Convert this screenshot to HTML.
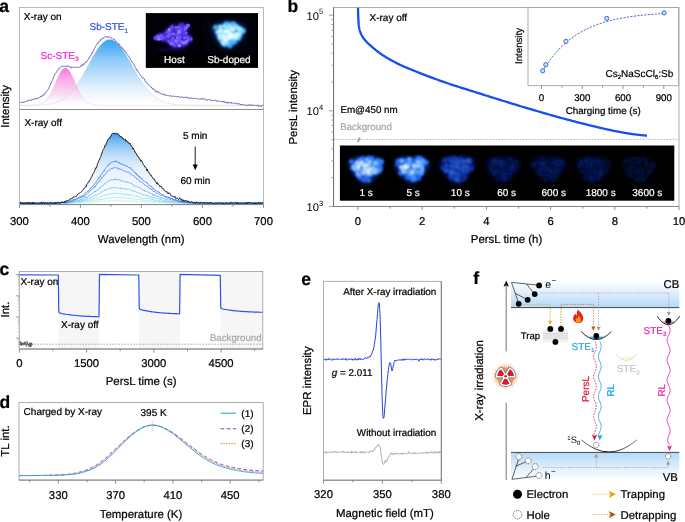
<!DOCTYPE html>
<html><head><meta charset="utf-8"><title>Figure</title>
<style>
html,body{margin:0;padding:0;background:#fff;}
svg{display:block;will-change:transform;font-family:"Liberation Sans",sans-serif;text-rendering:geometricPrecision;}
</style></head><body>
<svg width="685" height="522" viewBox="0 0 685 522">
<defs>
<linearGradient id="gMag" x1="0" y1="0" x2="0" y2="1"><stop offset="0" stop-color="#fb74e0"/><stop offset="0.3" stop-color="#fcaaea"/><stop offset="0.7" stop-color="#f8dcf5"/><stop offset="1" stop-color="#ffffff" stop-opacity="0.6"/></linearGradient>
<linearGradient id="gBlu" x1="0" y1="0" x2="0" y2="1"><stop offset="0" stop-color="#35a1f4"/><stop offset="0.3" stop-color="#8ccaf8"/><stop offset="0.7" stop-color="#dceefc"/><stop offset="1" stop-color="#ffffff" stop-opacity="0.6"/></linearGradient>
<linearGradient id="gBlu2" x1="0" y1="0" x2="0" y2="1"><stop offset="0" stop-color="#3a9ff0"/><stop offset="0.17" stop-color="#8cc6f5"/><stop offset="0.33" stop-color="#c4e0f8"/><stop offset="0.5" stop-color="#e2f0fc"/><stop offset="0.75" stop-color="#f4f9fe"/><stop offset="1" stop-color="#ffffff"/></linearGradient>
<filter id="blur1" x="-30%" y="-30%" width="160%" height="160%"><feGaussianBlur stdDeviation="1.1"/></filter>
<filter id="blur2" x="-30%" y="-30%" width="160%" height="160%"><feGaussianBlur stdDeviation="2.2"/></filter>
<filter id="blur08" x="-30%" y="-30%" width="160%" height="160%"><feGaussianBlur stdDeviation="0.85"/></filter>
<filter id="blur05" x="-30%" y="-30%" width="160%" height="160%"><feGaussianBlur stdDeviation="0.6"/></filter>
<linearGradient id="gCB" x1="0" y1="0" x2="0" y2="1"><stop offset="0" stop-color="#ffffff"/><stop offset="0.35" stop-color="#e6f2fc"/><stop offset="1" stop-color="#b5d9f6"/></linearGradient>
<linearGradient id="gVB" x1="0" y1="0" x2="0" y2="1"><stop offset="0" stop-color="#b5d9f6"/><stop offset="0.65" stop-color="#e6f2fc"/><stop offset="1" stop-color="#ffffff"/></linearGradient>
<linearGradient id="gTrap" x1="0" y1="0" x2="0" y2="1"><stop offset="0" stop-color="#fafafa"/><stop offset="0.5" stop-color="#e2e2e2"/><stop offset="1" stop-color="#fafafa"/></linearGradient>
<linearGradient id="gS0" x1="0" y1="0" x2="1" y2="0"><stop offset="0" stop-color="#777"/><stop offset="0.45" stop-color="#111"/><stop offset="1" stop-color="#888"/></linearGradient>
<radialGradient id="gRad" cx="0.5" cy="0.5" r="0.5"><stop offset="0" stop-color="#f7941d" stop-opacity="0.9"/><stop offset="0.6" stop-color="#f7a84a" stop-opacity="0.5"/><stop offset="1" stop-color="#f7a84a" stop-opacity="0"/></radialGradient>
</defs>
<rect x="0" y="0" width="685" height="522" fill="#fff"/>
<text x="-0.8" y="12.0" font-size="17.5" text-anchor="start" fill="#000" stroke="#000" stroke-width="0.22" font-weight="bold">a</text>
<path d="M39.4,105.1 L40.4,105.0 L41.4,105.0 L42.4,104.9 L43.4,104.8 L44.4,104.7 L45.4,104.6 L46.4,104.5 L47.4,104.4 L48.4,104.3 L49.4,104.1 L50.4,103.9 L51.4,103.7 L52.4,103.5 L53.4,103.2 L54.4,103.0 L55.4,102.7 L56.4,102.3 L57.4,101.9 L58.4,101.5 L59.4,101.1 L60.4,100.6 L61.4,100.1 L62.4,99.5 L63.4,98.8 L64.4,98.2 L65.4,97.4 L66.4,96.6 L67.4,95.8 L68.4,94.9 L69.4,93.9 L70.4,92.9 L71.4,91.8 L72.4,90.6 L73.4,89.4 L74.4,88.1 L75.4,86.8 L76.4,85.4 L77.4,83.9 L78.4,82.4 L79.4,80.8 L80.4,79.2 L81.4,77.5 L82.4,75.8 L83.4,74.0 L84.4,72.2 L85.4,70.4 L86.4,68.6 L87.4,66.7 L88.4,64.9 L89.4,63.0 L90.4,61.2 L91.4,59.4 L92.4,57.6 L93.4,55.8 L94.4,54.1 L95.4,52.4 L96.4,50.9 L97.4,49.3 L98.4,47.9 L99.4,46.6 L100.4,45.3 L101.4,44.2 L102.4,43.2 L103.4,42.3 L104.4,41.5 L105.4,40.8 L106.4,40.3 L107.4,39.9 L108.4,39.7 L109.4,39.6 L110.4,39.6 L111.4,39.8 L112.4,40.1 L113.4,40.6 L114.4,41.1 L115.4,41.8 L116.4,42.6 L117.4,43.5 L118.4,44.5 L119.4,45.6 L120.4,46.8 L121.4,48.1 L122.4,49.5 L123.4,50.9 L124.4,52.5 L125.4,54.0 L126.4,55.7 L127.4,57.4 L128.4,59.1 L129.4,60.8 L130.4,62.6 L131.4,64.3 L132.4,66.1 L133.4,67.9 L134.4,69.6 L135.4,71.4 L136.4,73.1 L137.4,74.8 L138.4,76.5 L139.4,78.1 L140.4,79.7 L141.4,81.2 L142.5,82.7 L143.5,84.2 L144.5,85.6 L145.5,86.9 L146.5,88.2 L147.5,89.4 L148.5,90.6 L149.5,91.7 L150.5,92.7 L151.5,93.7 L152.5,94.7 L153.5,95.6 L154.5,96.4 L155.5,97.2 L156.5,97.9 L157.5,98.5 L158.5,99.2 L159.5,99.8 L160.5,100.3 L161.5,100.8 L162.5,101.2 L163.5,101.7 L164.5,102.0 L165.5,102.4 L166.5,102.7 L167.5,103.0 L168.5,103.3 L169.5,103.5 L170.5,103.7 L171.5,103.9 L172.5,104.1 L173.5,104.2 L174.5,104.4 L175.5,104.5 L176.5,104.6 L177.5,104.7 L178.5,104.8 L179.5,104.9 L180.5,104.9 L181.5,105.0 L182.5,105.1 L183.5,105.1 L184.5,105.1 L185.5,105.2 L186.5,105.2 L187.5,105.2 L188.5,105.3 L189.5,105.3 L190.5,105.3 L191.5,105.3 L192.5,105.3 L193.5,105.3 L194.5,105.3 L195.5,105.4 L196.5,105.4 L197.5,105.4 L198.5,105.4 L199.5,105.4 L200.5,105.4 L201.5,105.4 L202.5,105.4 L203.5,105.4 L204.5,105.4 L205.5,105.4 L206.5,105.4 L207.5,105.4 L208.5,105.4 L209.5,105.4 L210.5,105.4 L211.5,105.4 L212.5,105.4 L213.5,105.4 L214.5,105.4 L215.5,105.4 L216.5,105.4 L217.5,105.4 L218.5,105.4 L218.5,105.4 L39.4,105.4 Z" fill="url(#gBlu)" stroke="none"/>
<path d="M29.4,105.4 L30.4,105.3 L31.4,105.3 L32.4,105.3 L33.4,105.2 L34.4,105.1 L35.4,105.1 L36.4,104.9 L37.4,104.8 L38.4,104.6 L39.4,104.3 L40.4,103.9 L41.4,103.5 L42.4,103.0 L43.4,102.4 L44.4,101.6 L45.4,100.7 L46.4,99.7 L47.4,98.4 L48.4,97.1 L49.4,95.5 L50.4,93.8 L51.4,91.9 L52.4,89.8 L53.4,87.6 L54.4,85.4 L55.4,83.1 L56.4,80.8 L57.4,78.5 L58.4,76.3 L59.4,74.3 L60.4,72.4 L61.4,70.9 L62.4,69.6 L63.4,68.7 L64.4,68.1 L65.4,67.9 L66.4,68.1 L67.4,68.7 L68.4,69.6 L69.4,70.9 L70.4,72.5 L71.4,74.4 L72.4,76.4 L73.4,78.6 L74.4,80.9 L75.4,83.2 L76.4,85.5 L77.4,87.7 L78.4,89.9 L79.4,91.9 L80.4,93.8 L81.4,95.6 L82.4,97.1 L83.4,98.5 L84.4,99.7 L85.4,100.8 L86.4,101.6 L87.4,102.4 L88.4,103.0 L89.4,103.5 L90.4,104.0 L91.4,104.3 L92.4,104.6 L93.4,104.8 L94.4,104.9 L95.4,105.1 L96.4,105.2 L97.4,105.2 L98.4,105.3 L99.4,105.3 L100.4,105.3 L101.4,105.4 L102.4,105.4 L103.4,105.4 L104.4,105.4 L105.4,105.4 L106.4,105.4 L107.4,105.4 L108.4,105.4 L108.4,105.4 L29.4,105.4 Z" fill="url(#gMag)" stroke="none"/>
<path d="M19.4,105.4 L20.4,105.4 L21.4,105.4 L22.4,105.4 L23.4,105.4 L24.4,105.4 L25.4,105.4 L26.4,105.4 L27.4,105.4 L28.4,105.3 L29.4,105.3 L30.4,105.3 L31.4,105.3 L32.4,105.3 L33.4,105.3 L34.4,105.3 L35.4,105.2 L36.4,105.2 L37.4,105.2 L38.4,105.1 L39.4,105.1 L40.4,105.0 L41.4,105.0 L42.4,104.9 L43.4,104.8 L44.4,104.7 L45.4,104.6 L46.4,104.5 L47.4,104.4 L48.4,104.3 L49.4,104.1 L50.4,103.9 L51.4,103.7 L52.4,103.5 L53.4,103.2 L54.4,103.0 L55.4,102.7 L56.4,102.3 L57.4,101.9 L58.4,101.5 L59.4,101.1 L60.4,100.6 L61.4,100.1 L62.4,99.5 L63.4,98.8 L64.4,98.2 L65.4,97.4 L66.4,96.6 L67.4,95.8 L68.4,94.9 L69.4,93.9 L70.4,92.9 L71.4,91.8 L72.4,90.6 L73.4,89.4 L74.4,88.1 L75.4,86.8 L76.4,85.4 L77.4,83.9 L78.4,82.4 L79.4,80.8 L80.4,79.2 L81.4,77.5 L82.4,75.8 L83.4,74.0 L84.4,72.2 L85.4,70.4 L86.4,68.6 L87.4,66.7 L88.4,64.9 L89.4,63.0 L90.4,61.2 L91.4,59.4 L92.4,57.6 L93.4,55.8 L94.4,54.1 L95.4,52.4 L96.4,50.9 L97.4,49.3 L98.4,47.9 L99.4,46.6 L100.4,45.3 L101.4,44.2 L102.4,43.2 L103.4,42.3 L104.4,41.5 L105.4,40.8 L106.4,40.3 L107.4,39.9 L108.4,39.7 L109.4,39.6 L110.4,39.6 L111.4,39.8 L112.4,40.1 L113.4,40.6 L114.4,41.1 L115.4,41.8 L116.4,42.6 L117.4,43.5 L118.4,44.5 L119.4,45.6 L120.4,46.8 L121.4,48.1 L122.4,49.5 L123.4,50.9 L124.4,52.5 L125.4,54.0 L126.4,55.7 L127.4,57.4 L128.4,59.1 L129.4,60.8 L130.4,62.6 L131.4,64.3 L132.4,66.1 L133.4,67.9 L134.4,69.6 L135.4,71.4 L136.4,73.1 L137.4,74.8 L138.4,76.5 L139.4,78.1 L140.4,79.7 L141.4,81.2 L142.5,82.7 L143.5,84.2 L144.5,85.6 L145.5,86.9 L146.5,88.2 L147.5,89.4 L148.5,90.6 L149.5,91.7 L150.5,92.7 L151.5,93.7 L152.5,94.7 L153.5,95.6 L154.5,96.4 L155.5,97.2 L156.5,97.9 L157.5,98.5 L158.5,99.2 L159.5,99.8 L160.5,100.3 L161.5,100.8 L162.5,101.2 L163.5,101.7 L164.5,102.0 L165.5,102.4 L166.5,102.7 L167.5,103.0 L168.5,103.3 L169.5,103.5 L170.5,103.7 L171.5,103.9 L172.5,104.1 L173.5,104.2 L174.5,104.4 L175.5,104.5 L176.5,104.6 L177.5,104.7 L178.5,104.8 L179.5,104.9 L180.5,104.9 L181.5,105.0 L182.5,105.1 L183.5,105.1 L184.5,105.1 L185.5,105.2 L186.5,105.2 L187.5,105.2 L188.5,105.3 L189.5,105.3 L190.5,105.3 L191.5,105.3 L192.5,105.3 L193.5,105.3 L194.5,105.3 L195.5,105.4 L196.5,105.4 L197.5,105.4 L198.5,105.4 L199.5,105.4 L200.5,105.4 L201.5,105.4 L202.5,105.4 L203.5,105.4 L204.5,105.4 L205.5,105.4 L206.5,105.4 L207.5,105.4 L208.5,105.4 L209.5,105.4 L210.5,105.4 L211.5,105.4 L212.5,105.4 L213.5,105.4 L214.5,105.4 L215.5,105.4 L216.5,105.4 L217.5,105.4 L218.5,105.4 L219.5,105.4 L220.5,105.4 L221.5,105.4 L222.5,105.4 L223.5,105.4 L224.5,105.4 L225.5,105.4 L226.5,105.4 L227.5,105.4 L228.5,105.4 L229.5,105.4 L230.5,105.4 L231.5,105.4 L232.5,105.4 L233.5,105.4 L234.5,105.4 L235.5,105.4 L236.5,105.4 L237.5,105.4 L238.5,105.4 L239.5,105.4 L240.5,105.4 L241.5,105.4 L242.5,105.4 L243.5,105.4 L244.5,105.4 L245.5,105.4 L246.5,105.4 L247.5,105.4 L248.5,105.4 L249.5,105.4 L250.5,105.4 L251.5,105.4 L252.5,105.4 L253.5,105.4 L254.5,105.4 L255.5,105.4 L256.5,105.4 L257.5,105.4 L258.5,105.4 L259.5,105.4 L260.5,105.4 L261.5,105.4 L262.5,105.4 L263.5,105.4" fill="none" stroke="#c9c9c9" stroke-width="0.7" stroke-dasharray="1.2,1"/>
<path d="M19.4,105.4 L20.4,105.4 L21.4,105.4 L22.4,105.4 L23.4,105.4 L24.4,105.4 L25.4,105.4 L26.4,105.4 L27.4,105.4 L28.4,105.4 L29.4,105.4 L30.4,105.3 L31.4,105.3 L32.4,105.3 L33.4,105.2 L34.4,105.1 L35.4,105.1 L36.4,104.9 L37.4,104.8 L38.4,104.6 L39.4,104.3 L40.4,103.9 L41.4,103.5 L42.4,103.0 L43.4,102.4 L44.4,101.6 L45.4,100.7 L46.4,99.7 L47.4,98.4 L48.4,97.1 L49.4,95.5 L50.4,93.8 L51.4,91.9 L52.4,89.8 L53.4,87.6 L54.4,85.4 L55.4,83.1 L56.4,80.8 L57.4,78.5 L58.4,76.3 L59.4,74.3 L60.4,72.4 L61.4,70.9 L62.4,69.6 L63.4,68.7 L64.4,68.1 L65.4,67.9 L66.4,68.1 L67.4,68.7 L68.4,69.6 L69.4,70.9 L70.4,72.5 L71.4,74.4 L72.4,76.4 L73.4,78.6 L74.4,80.9 L75.4,83.2 L76.4,85.5 L77.4,87.7 L78.4,89.9 L79.4,91.9 L80.4,93.8 L81.4,95.6 L82.4,97.1 L83.4,98.5 L84.4,99.7 L85.4,100.8 L86.4,101.6 L87.4,102.4 L88.4,103.0 L89.4,103.5 L90.4,104.0 L91.4,104.3 L92.4,104.6 L93.4,104.8 L94.4,104.9 L95.4,105.1 L96.4,105.2 L97.4,105.2 L98.4,105.3 L99.4,105.3 L100.4,105.3 L101.4,105.4 L102.4,105.4 L103.4,105.4 L104.4,105.4 L105.4,105.4 L106.4,105.4 L107.4,105.4 L108.4,105.4 L109.4,105.4 L110.4,105.4 L111.4,105.4 L112.4,105.4 L113.4,105.4 L114.4,105.4 L115.4,105.4 L116.4,105.4 L117.4,105.4 L118.4,105.4 L119.4,105.4 L120.4,105.4 L121.4,105.4 L122.4,105.4 L123.4,105.4 L124.4,105.4 L125.4,105.4 L126.4,105.4 L127.4,105.4 L128.4,105.4 L129.4,105.4 L130.4,105.4 L131.4,105.4 L132.4,105.4 L133.4,105.4 L134.4,105.4 L135.4,105.4 L136.4,105.4 L137.4,105.4 L138.4,105.4 L139.4,105.4 L140.4,105.4 L141.4,105.4 L142.5,105.4 L143.5,105.4 L144.5,105.4 L145.5,105.4 L146.5,105.4 L147.5,105.4 L148.5,105.4 L149.5,105.4 L150.5,105.4 L151.5,105.4 L152.5,105.4 L153.5,105.4 L154.5,105.4 L155.5,105.4 L156.5,105.4 L157.5,105.4 L158.5,105.4 L159.5,105.4 L160.5,105.4 L161.5,105.4 L162.5,105.4 L163.5,105.4 L164.5,105.4 L165.5,105.4 L166.5,105.4 L167.5,105.4 L168.5,105.4 L169.5,105.4 L170.5,105.4 L171.5,105.4 L172.5,105.4 L173.5,105.4 L174.5,105.4 L175.5,105.4 L176.5,105.4 L177.5,105.4 L178.5,105.4 L179.5,105.4 L180.5,105.4 L181.5,105.4 L182.5,105.4 L183.5,105.4 L184.5,105.4 L185.5,105.4 L186.5,105.4 L187.5,105.4 L188.5,105.4 L189.5,105.4 L190.5,105.4 L191.5,105.4 L192.5,105.4 L193.5,105.4 L194.5,105.4 L195.5,105.4 L196.5,105.4 L197.5,105.4 L198.5,105.4 L199.5,105.4 L200.5,105.4 L201.5,105.4 L202.5,105.4 L203.5,105.4 L204.5,105.4 L205.5,105.4 L206.5,105.4 L207.5,105.4 L208.5,105.4 L209.5,105.4 L210.5,105.4 L211.5,105.4 L212.5,105.4 L213.5,105.4 L214.5,105.4 L215.5,105.4 L216.5,105.4 L217.5,105.4 L218.5,105.4 L219.5,105.4 L220.5,105.4 L221.5,105.4 L222.5,105.4 L223.5,105.4 L224.5,105.4 L225.5,105.4 L226.5,105.4 L227.5,105.4 L228.5,105.4 L229.5,105.4 L230.5,105.4 L231.5,105.4 L232.5,105.4 L233.5,105.4 L234.5,105.4 L235.5,105.4 L236.5,105.4 L237.5,105.4 L238.5,105.4 L239.5,105.4 L240.5,105.4 L241.5,105.4 L242.5,105.4 L243.5,105.4 L244.5,105.4 L245.5,105.4 L246.5,105.4 L247.5,105.4 L248.5,105.4 L249.5,105.4 L250.5,105.4 L251.5,105.4 L252.5,105.4 L253.5,105.4 L254.5,105.4 L255.5,105.4 L256.5,105.4 L257.5,105.4 L258.5,105.4 L259.5,105.4 L260.5,105.4 L261.5,105.4 L262.5,105.4 L263.5,105.4" fill="none" stroke="#c9c9c9" stroke-width="0.7" stroke-dasharray="1.2,1"/>
<path d="M19.40,102.90 L19.90,102.94 L20.40,102.61 L20.90,102.26 L21.40,102.35 L21.90,102.03 L22.40,102.37 L22.90,102.81 L23.40,101.94 L23.90,101.78 L24.40,102.14 L24.90,101.97 L25.40,101.75 L25.90,101.20 L26.40,101.46 L26.90,101.64 L27.40,100.66 L27.90,100.90 L28.40,100.16 L28.90,100.29 L29.40,99.92 L29.90,100.46 L30.40,99.89 L30.90,100.40 L31.40,100.22 L31.90,99.94 L32.40,98.84 L32.90,99.54 L33.40,99.62 L33.90,99.56 L34.40,98.75 L34.90,99.05 L35.40,98.70 L35.90,98.63 L36.40,99.25 L36.90,98.30 L37.40,98.44 L37.90,98.62 L38.40,97.80 L38.90,97.77 L39.40,97.62 L39.90,97.35 L40.40,96.53 L40.90,96.78 L41.40,97.01 L41.90,95.46 L42.40,96.12 L42.90,95.42 L43.40,94.67 L43.90,95.31 L44.40,94.29 L44.90,92.93 L45.40,92.89 L45.90,92.50 L46.40,91.54 L46.90,91.23 L47.40,90.22 L47.90,89.79 L48.40,89.36 L48.90,87.64 L49.40,87.03 L49.90,85.67 L50.40,84.76 L50.90,83.02 L51.40,82.10 L51.90,81.13 L52.40,80.50 L52.90,79.47 L53.40,77.29 L53.90,76.37 L54.40,75.86 L54.90,73.70 L55.40,73.37 L55.90,72.66 L56.40,72.43 L56.90,71.41 L57.40,70.25 L57.90,69.54 L58.40,68.97 L58.90,69.17 L59.40,67.90 L59.90,67.57 L60.40,67.47 L60.90,66.91 L61.40,66.56 L61.90,65.90 L62.40,66.16 L62.90,65.85 L63.40,66.49 L63.90,66.29 L64.40,66.03 L64.90,66.36 L65.40,65.99 L65.90,66.63 L66.40,66.25 L66.90,66.56 L67.40,65.84 L67.90,66.61 L68.40,65.87 L68.90,65.86 L69.40,66.73 L69.90,66.63 L70.40,67.20 L70.90,68.17 L71.40,66.94 L71.90,67.04 L72.40,67.39 L72.90,67.51 L73.40,67.23 L73.90,67.21 L74.40,67.60 L74.90,67.52 L75.40,66.87 L75.90,67.27 L76.40,67.31 L76.90,66.86 L77.40,67.41 L77.90,66.94 L78.40,67.71 L78.90,67.38 L79.40,67.32 L79.90,66.91 L80.40,66.89 L80.90,65.80 L81.40,65.80 L81.90,66.02 L82.40,64.54 L82.90,65.33 L83.40,63.79 L83.90,64.40 L84.40,63.30 L84.90,63.53 L85.40,62.78 L85.90,61.57 L86.40,62.20 L86.90,61.72 L87.40,60.49 L87.90,59.79 L88.40,59.20 L88.90,58.18 L89.40,58.30 L89.90,56.81 L90.40,56.17 L90.90,54.97 L91.40,54.13 L91.90,52.94 L92.40,53.10 L92.90,51.61 L93.40,51.19 L93.90,49.84 L94.40,48.58 L94.90,47.76 L95.40,46.71 L95.90,46.04 L96.40,45.04 L96.90,44.31 L97.40,43.18 L97.90,42.78 L98.40,43.20 L98.90,41.63 L99.40,40.92 L99.90,40.98 L100.40,40.94 L100.90,39.28 L101.40,39.39 L101.90,38.81 L102.40,37.92 L102.90,38.55 L103.40,37.85 L103.90,37.54 L104.40,36.93 L104.90,37.26 L105.40,36.77 L105.90,36.94 L106.40,36.55 L106.90,36.52 L107.40,37.61 L107.90,36.87 L108.40,37.24 L108.90,37.14 L109.40,37.01 L109.90,37.05 L110.40,37.66 L110.90,37.46 L111.40,37.76 L111.90,38.11 L112.40,38.90 L112.90,39.02 L113.40,39.23 L113.90,39.16 L114.40,39.17 L114.90,40.54 L115.40,40.98 L115.90,40.98 L116.40,41.77 L116.90,42.38 L117.40,42.94 L117.90,43.53 L118.40,43.51 L118.90,44.90 L119.40,44.31 L119.90,45.75 L120.40,46.15 L120.90,46.87 L121.40,47.87 L121.90,48.29 L122.40,47.77 L122.90,48.15 L123.40,49.81 L123.90,49.67 L124.40,50.72 L124.90,51.72 L125.40,51.33 L125.90,51.80 L126.40,53.47 L126.90,54.07 L127.40,54.66 L127.90,55.52 L128.40,55.89 L128.90,56.38 L129.40,57.72 L129.90,58.17 L130.40,58.68 L130.90,60.38 L131.40,60.94 L131.90,61.93 L132.40,62.14 L132.90,63.07 L133.40,63.71 L133.90,64.57 L134.40,65.84 L134.90,66.25 L135.40,67.56 L135.90,68.38 L136.40,69.91 L136.90,69.29 L137.40,71.05 L137.90,71.43 L138.40,72.22 L138.90,72.36 L139.40,73.49 L139.90,74.69 L140.40,75.03 L140.90,75.77 L141.40,76.28 L141.90,77.54 L142.40,77.68 L142.90,77.40 L143.40,78.65 L143.90,78.72 L144.40,78.79 L144.90,80.52 L145.40,81.88 L145.90,81.91 L146.40,81.96 L146.90,82.61 L147.40,84.03 L147.90,84.17 L148.40,84.66 L148.90,85.14 L149.40,85.69 L149.90,86.51 L150.40,86.89 L150.90,87.22 L151.40,87.13 L151.90,88.21 L152.40,88.13 L152.90,89.29 L153.40,88.70 L153.90,89.57 L154.40,90.01 L154.90,89.83 L155.40,91.47 L155.90,91.70 L156.40,91.22 L156.90,92.04 L157.40,92.15 L157.90,91.15 L158.40,92.59 L158.90,92.69 L159.40,92.97 L159.90,92.69 L160.40,93.23 L160.90,93.47 L161.40,94.23 L161.90,94.04 L162.40,94.07 L162.90,94.87 L163.40,94.15 L163.90,94.36 L164.40,93.89 L164.90,95.44 L165.40,95.30 L165.90,95.39 L166.40,95.39 L166.90,95.27 L167.40,95.41 L167.90,95.31 L168.40,95.43 L168.90,95.63 L169.40,96.33 L169.90,96.01 L170.40,95.84 L170.90,95.70 L171.40,95.75 L171.90,96.76 L172.40,96.37 L172.90,96.26 L173.40,96.15 L173.90,95.90 L174.40,96.40 L174.90,96.85 L175.40,96.38 L175.90,96.51 L176.40,96.56 L176.90,96.75 L177.40,96.09 L177.90,96.70 L178.40,96.49 L178.90,97.27 L179.40,96.61 L179.90,97.22 L180.40,97.66 L180.90,96.93 L181.40,96.85 L181.90,97.23 L182.40,97.19 L182.90,96.82 L183.40,97.47 L183.90,98.17 L184.40,97.26 L184.90,97.33 L185.40,97.03 L185.90,97.66 L186.40,97.05 L186.90,97.16 L187.40,98.22 L187.90,97.35 L188.40,98.24 L188.90,98.48 L189.40,98.01 L189.90,98.19 L190.40,98.83 L190.90,97.98 L191.40,97.87 L191.90,97.61 L192.40,98.25 L192.90,98.90 L193.40,98.74 L193.90,97.99 L194.40,98.08 L194.90,98.28 L195.40,98.66 L195.90,98.50 L196.40,98.73 L196.90,98.81 L197.40,98.60 L197.90,98.76 L198.40,98.91 L198.90,98.83 L199.40,99.12 L199.90,99.74 L200.40,99.25 L200.90,99.07 L201.40,98.38 L201.90,99.30 L202.40,98.36 L202.90,98.63 L203.40,99.63 L203.90,99.62 L204.40,99.31 L204.90,98.70 L205.40,99.31 L205.90,99.24 L206.40,99.85 L206.90,100.58 L207.40,99.78 L207.90,99.43 L208.40,99.32 L208.90,99.85 L209.40,99.87 L209.90,99.53 L210.40,100.13 L210.90,99.66 L211.40,100.68 L211.90,100.73 L212.40,100.81 L212.90,100.23 L213.40,100.72 L213.90,100.52 L214.40,100.48 L214.90,100.57 L215.40,100.24 L215.90,100.24 L216.40,101.25 L216.90,100.91 L217.40,101.14 L217.90,101.54 L218.40,100.46 L218.90,100.92 L219.40,101.38 L219.90,101.54 L220.40,101.28 L220.90,101.93 L221.40,101.65 L221.90,101.12 L222.40,101.30 L222.90,102.09 L223.40,102.01 L223.90,101.08 L224.40,102.51 L224.90,102.26 L225.40,102.64 L225.90,101.98 L226.40,102.08 L226.90,101.80 L227.40,103.41 L227.90,102.34 L228.40,103.15 L228.90,102.29 L229.40,102.70 L229.90,102.01 L230.40,102.62 L230.90,103.28 L231.40,102.42 L231.90,103.48 L232.40,103.25 L232.90,102.75 L233.40,103.06 L233.90,103.16 L234.40,103.41 L234.90,103.29 L235.40,103.25 L235.90,103.55 L236.40,103.33 L236.90,103.29 L237.40,103.89 L237.90,104.36 L238.40,103.42 L238.90,104.14 L239.40,103.94 L239.90,103.88 L240.40,104.73 L240.90,104.23 L241.40,105.16 L241.90,104.27 L242.40,104.84 L242.90,104.65 L243.40,104.50 L243.90,105.13 L244.40,104.88 L244.90,105.25 L245.40,105.03 L245.90,104.64 L246.40,105.09 L246.90,105.19 L247.40,105.61 L247.90,104.86 L248.40,105.25 L248.90,104.58 L249.40,105.61 L249.90,104.91 L250.40,104.63 L250.90,105.39 L251.40,105.90 L251.90,104.82 L252.40,105.03 L252.90,105.20 L253.40,105.06 L253.90,105.71 L254.40,105.24 L254.90,105.29 L255.40,105.86 L255.90,105.32 L256.40,105.84 L256.90,105.27 L257.40,105.19 L257.90,104.94 L258.40,106.51 L258.90,105.62 L259.40,105.87 L259.90,105.77 L260.40,105.87 L260.90,105.84 L261.40,106.63 L261.90,105.41 L262.40,105.21 L262.90,105.45 L263.40,105.33" fill="none" stroke="#4e4aae" stroke-width="0.8" stroke-linejoin="round"/>
<path d="M19.4,203.2 L19.9,203.2 L20.4,203.2 L20.9,203.2 L21.4,203.2 L21.9,203.2 L22.4,203.2 L22.9,203.2 L23.4,203.2 L23.9,203.2 L24.4,203.2 L24.9,203.2 L25.4,203.2 L25.9,203.2 L26.4,203.2 L26.9,203.2 L27.4,203.2 L27.9,203.2 L28.4,203.2 L28.9,203.2 L29.4,203.2 L29.9,203.2 L30.4,203.2 L30.9,203.2 L31.4,203.2 L31.9,203.2 L32.4,203.2 L32.9,203.2 L33.4,203.2 L33.9,203.2 L34.4,203.2 L34.9,203.2 L35.4,203.2 L35.9,203.2 L36.4,203.2 L36.9,203.2 L37.4,203.2 L37.9,203.2 L38.4,203.2 L38.9,203.2 L39.4,203.2 L39.9,203.2 L40.4,203.2 L40.9,203.2 L41.4,203.2 L41.9,203.2 L42.4,203.2 L42.9,203.2 L43.4,203.2 L43.9,203.2 L44.4,203.2 L44.9,203.2 L45.4,203.2 L45.9,203.2 L46.4,203.2 L46.9,203.2 L47.4,203.2 L47.9,203.2 L48.4,203.1 L48.9,203.1 L49.4,203.1 L49.9,203.1 L50.4,203.1 L50.9,203.1 L51.4,203.1 L51.9,203.1 L52.4,203.1 L52.9,203.1 L53.4,203.1 L53.9,203.0 L54.4,203.0 L54.9,203.0 L55.4,203.0 L55.9,202.9 L56.4,202.9 L56.9,202.9 L57.4,202.8 L57.9,202.8 L58.4,202.8 L58.9,202.7 L59.4,202.7 L59.9,202.6 L60.4,202.6 L60.9,202.5 L61.4,202.4 L61.9,202.3 L62.4,202.3 L62.9,202.2 L63.4,202.1 L63.9,202.0 L64.4,201.9 L64.9,201.7 L65.4,201.6 L65.9,201.4 L66.4,201.2 L66.9,201.0 L67.4,200.9 L67.9,200.6 L68.4,200.4 L68.9,200.2 L69.4,200.0 L69.9,199.8 L70.4,199.5 L70.9,199.2 L71.4,198.9 L71.9,198.7 L72.4,198.4 L72.9,198.0 L73.4,197.7 L73.9,197.4 L74.4,197.1 L74.9,196.7 L75.4,196.3 L75.9,196.0 L76.4,195.6 L76.9,195.2 L77.4,194.8 L77.9,194.4 L78.4,194.0 L78.9,193.6 L79.4,193.2 L79.9,192.8 L80.4,192.4 L80.9,192.0 L81.4,191.6 L81.9,191.1 L82.4,190.6 L82.9,190.1 L83.4,189.5 L83.9,188.9 L84.4,188.2 L84.9,187.5 L85.4,186.8 L85.9,186.1 L86.4,185.3 L86.9,184.6 L87.4,183.8 L87.9,183.0 L88.4,182.2 L88.9,181.4 L89.4,180.5 L89.9,179.7 L90.4,178.8 L90.9,177.9 L91.4,176.9 L91.9,176.0 L92.4,175.0 L92.9,174.0 L93.4,173.0 L93.9,172.0 L94.4,171.0 L94.9,169.9 L95.4,168.9 L95.9,167.8 L96.4,166.7 L96.9,165.6 L97.4,164.5 L97.9,163.3 L98.4,162.1 L98.9,160.9 L99.4,159.7 L99.9,158.4 L100.4,157.1 L100.9,155.9 L101.4,154.6 L101.9,153.4 L102.4,152.1 L102.9,150.9 L103.4,149.7 L103.9,148.5 L104.4,147.3 L104.9,146.1 L105.4,144.9 L105.9,143.8 L106.4,142.8 L106.9,141.7 L107.4,140.8 L107.9,139.9 L108.4,139.0 L108.9,138.2 L109.4,137.4 L109.9,136.7 L110.4,136.1 L110.9,135.5 L111.4,135.0 L111.9,134.5 L112.4,134.2 L112.9,133.9 L113.4,133.6 L113.9,133.4 L114.4,133.2 L114.9,133.0 L115.4,133.0 L115.9,133.1 L116.4,133.2 L116.9,133.5 L117.4,133.8 L117.9,134.2 L118.4,134.5 L118.9,134.9 L119.4,135.2 L119.9,135.6 L120.4,136.1 L120.9,136.5 L121.4,137.0 L121.9,137.4 L122.4,137.8 L122.9,138.2 L123.4,138.6 L123.9,138.9 L124.4,139.3 L124.9,139.6 L125.4,139.9 L125.9,140.3 L126.4,140.6 L126.9,140.9 L127.4,141.2 L127.9,141.6 L128.4,142.0 L128.9,142.5 L129.4,143.1 L129.9,143.7 L130.4,144.4 L130.9,145.1 L131.4,145.8 L131.9,146.6 L132.4,147.4 L132.9,148.2 L133.4,149.0 L133.9,149.8 L134.4,150.6 L134.9,151.4 L135.4,152.2 L135.9,153.1 L136.4,153.9 L136.9,154.7 L137.4,155.5 L137.9,156.3 L138.4,157.0 L138.9,157.8 L139.4,158.5 L139.9,159.3 L140.4,160.0 L140.9,160.8 L141.4,161.5 L141.9,162.3 L142.4,163.0 L142.9,163.7 L143.4,164.5 L143.9,165.2 L144.4,165.9 L144.9,166.7 L145.4,167.4 L145.9,168.1 L146.4,168.9 L146.9,169.6 L147.4,170.3 L147.9,171.0 L148.4,171.7 L148.9,172.5 L149.4,173.1 L149.9,173.8 L150.4,174.5 L150.9,175.2 L151.4,175.8 L151.9,176.5 L152.4,177.2 L152.9,177.8 L153.4,178.5 L153.9,179.1 L154.4,179.7 L154.9,180.4 L155.4,181.0 L155.9,181.6 L156.4,182.1 L156.9,182.7 L157.4,183.3 L157.9,183.8 L158.4,184.4 L158.9,184.9 L159.4,185.4 L159.9,185.9 L160.4,186.4 L160.9,186.9 L161.4,187.4 L161.9,187.9 L162.4,188.4 L162.9,188.9 L163.4,189.3 L163.9,189.8 L164.4,190.2 L164.9,190.6 L165.4,191.0 L165.9,191.5 L166.4,191.9 L166.9,192.3 L167.4,192.6 L167.9,193.0 L168.4,193.4 L168.9,193.7 L169.4,194.1 L169.9,194.4 L170.4,194.8 L170.9,195.1 L171.4,195.4 L171.9,195.7 L172.4,196.0 L172.9,196.3 L173.4,196.6 L173.9,196.9 L174.4,197.2 L174.9,197.4 L175.4,197.7 L175.9,197.9 L176.4,198.1 L176.9,198.3 L177.4,198.5 L177.9,198.8 L178.4,199.0 L178.9,199.2 L179.4,199.4 L179.9,199.6 L180.4,199.7 L180.9,199.9 L181.4,200.1 L181.9,200.3 L182.4,200.4 L182.9,200.6 L183.4,200.7 L183.9,200.8 L184.4,201.0 L184.9,201.1 L185.4,201.2 L185.9,201.3 L186.4,201.4 L186.9,201.5 L187.4,201.6 L187.9,201.7 L188.4,201.8 L188.9,201.8 L189.4,201.9 L189.9,202.0 L190.4,202.1 L190.9,202.1 L191.4,202.2 L191.9,202.2 L192.4,202.3 L192.9,202.4 L193.4,202.4 L193.9,202.5 L194.4,202.5 L194.9,202.6 L195.4,202.6 L195.9,202.7 L196.4,202.7 L196.9,202.7 L197.4,202.8 L197.9,202.8 L198.4,202.8 L198.9,202.8 L199.4,202.9 L199.9,202.9 L200.4,202.9 L200.9,202.9 L201.4,203.0 L201.9,203.0 L202.4,203.0 L202.9,203.0 L203.4,203.0 L203.9,203.1 L204.4,203.1 L204.9,203.1 L205.4,203.1 L205.9,203.1 L206.4,203.1 L206.9,203.1 L207.4,203.1 L207.9,203.2 L208.4,203.2 L208.9,203.2 L209.4,203.2 L209.9,203.2 L210.4,203.2 L210.9,203.2 L211.4,203.2 L211.9,203.2 L212.4,203.2 L212.9,203.2 L213.4,203.2 L213.9,203.2 L214.4,203.2 L214.9,203.2 L215.4,203.2 L215.9,203.2 L216.4,203.2 L216.9,203.2 L217.4,203.2 L217.9,203.2 L218.4,203.2 L218.9,203.2 L219.4,203.2 L219.9,203.2 L220.4,203.2 L220.9,203.2 L221.4,203.2 L221.9,203.2 L222.4,203.2 L222.9,203.2 L223.4,203.2 L223.9,203.2 L224.4,203.2 L224.9,203.2 L225.4,203.2 L225.9,203.2 L226.4,203.2 L226.9,203.2 L227.4,203.2 L227.9,203.2 L228.4,203.2 L228.9,203.2 L229.4,203.2 L229.9,203.2 L230.4,203.2 L230.9,203.2 L231.4,203.2 L231.9,203.2 L232.4,203.2 L232.9,203.2 L233.4,203.2 L233.9,203.2 L234.4,203.2 L234.9,203.2 L235.4,203.2 L235.9,203.2 L236.4,203.2 L236.9,203.2 L237.4,203.2 L237.9,203.2 L238.4,203.2 L238.9,203.2 L239.4,203.2 L239.9,203.2 L240.4,203.2 L240.9,203.2 L241.4,203.2 L241.9,203.2 L242.4,203.2 L242.9,203.2 L243.4,203.2 L243.9,203.2 L244.4,203.2 L244.9,203.2 L245.4,203.2 L245.9,203.2 L246.4,203.2 L246.9,203.2 L247.4,203.2 L247.9,203.2 L248.4,203.2 L248.9,203.2 L249.4,203.2 L249.9,203.2 L250.4,203.2 L250.9,203.2 L251.4,203.2 L251.9,203.2 L252.4,203.2 L252.9,203.2 L253.4,203.2 L253.9,203.2 L254.4,203.2 L254.9,203.2 L255.4,203.2 L255.9,203.2 L256.4,203.2 L256.9,203.2 L257.4,203.2 L257.9,203.2 L258.4,203.2 L258.9,203.2 L259.4,203.2 L259.9,203.2 L260.4,203.2 L260.9,203.2 L261.4,203.2 L261.9,203.2 L262.4,203.2 L262.9,203.2 L263.4,203.2 L263.4,203.5 L19.4,203.5 Z" fill="url(#gBlu2)" stroke="none"/>
<path d="M19.40,203.47 L19.90,203.50 L20.40,202.85 L20.90,202.70 L21.40,203.07 L21.90,203.70 L22.40,202.18 L22.90,203.39 L23.40,202.81 L23.90,203.57 L24.40,202.81 L24.90,203.10 L25.40,202.66 L25.90,202.85 L26.40,203.70 L26.90,203.50 L27.40,203.06 L27.90,202.89 L28.40,202.52 L28.90,203.06 L29.40,203.19 L29.90,203.17 L30.40,203.17 L30.90,202.80 L31.40,203.18 L31.90,203.19 L32.40,203.66 L32.90,203.87 L33.40,203.15 L33.90,202.92 L34.40,203.18 L34.90,202.98 L35.40,202.93 L35.90,203.18 L36.40,202.82 L36.90,203.42 L37.40,203.16 L37.90,203.29 L38.40,203.13 L38.90,202.94 L39.40,202.86 L39.90,203.11 L40.40,203.00 L40.90,203.28 L41.40,203.20 L41.90,202.71 L42.40,203.22 L42.90,202.72 L43.40,202.98 L43.90,203.09 L44.40,202.45 L44.90,203.23 L45.40,203.25 L45.90,203.14 L46.40,203.05 L46.90,203.06 L47.40,202.85 L47.90,203.10 L48.40,203.00 L48.90,203.23 L49.40,202.76 L49.90,203.28 L50.40,203.25 L50.90,203.15 L51.40,203.04 L51.90,203.40 L52.40,202.60 L52.90,203.36 L53.40,203.28 L53.90,203.30 L54.40,203.33 L54.90,202.96 L55.40,203.10 L55.90,203.42 L56.40,203.34 L56.90,203.26 L57.40,202.64 L57.90,203.38 L58.40,203.61 L58.90,203.55 L59.40,203.26 L59.90,202.62 L60.40,203.52 L60.90,203.12 L61.40,202.26 L61.90,203.30 L62.40,202.63 L62.90,202.70 L63.40,202.93 L63.90,203.61 L64.40,203.02 L64.90,203.24 L65.40,203.77 L65.90,203.71 L66.40,203.09 L66.90,203.03 L67.40,202.66 L67.90,202.86 L68.40,203.25 L68.90,203.23 L69.40,203.12 L69.90,203.43 L70.40,202.78 L70.90,203.03 L71.40,203.31 L71.90,203.24 L72.40,203.41 L72.90,203.15 L73.40,202.89 L73.90,203.12 L74.40,202.61 L74.90,202.37 L75.40,203.15 L75.90,202.91 L76.40,203.03 L76.90,202.29 L77.40,202.76 L77.90,202.66 L78.40,202.55 L78.90,202.03 L79.40,202.71 L79.90,203.14 L80.40,202.94 L80.90,202.57 L81.40,202.76 L81.90,203.02 L82.40,201.74 L82.90,202.67 L83.40,202.89 L83.90,202.92 L84.40,203.26 L84.90,203.03 L85.40,202.71 L85.90,202.67 L86.40,202.82 L86.90,202.32 L87.40,202.47 L87.90,202.78 L88.40,203.13 L88.90,202.34 L89.40,202.34 L89.90,202.40 L90.40,202.78 L90.90,202.25 L91.40,202.76 L91.90,201.84 L92.40,202.09 L92.90,202.05 L93.40,202.36 L93.90,202.42 L94.40,201.46 L94.90,201.64 L95.40,202.05 L95.90,201.65 L96.40,201.30 L96.90,202.18 L97.40,201.94 L97.90,201.90 L98.40,201.51 L98.90,202.00 L99.40,201.50 L99.90,201.93 L100.40,201.16 L100.90,201.14 L101.40,201.47 L101.90,201.10 L102.40,201.55 L102.90,201.36 L103.40,200.89 L103.90,201.20 L104.40,201.00 L104.90,201.41 L105.40,200.81 L105.90,200.84 L106.40,201.40 L106.90,201.73 L107.40,201.61 L107.90,200.88 L108.40,200.90 L108.90,201.34 L109.40,200.72 L109.90,200.39 L110.40,200.76 L110.90,200.86 L111.40,200.38 L111.90,200.06 L112.40,200.13 L112.90,200.87 L113.40,200.35 L113.90,200.56 L114.40,200.68 L114.90,200.82 L115.40,200.48 L115.90,200.78 L116.40,200.29 L116.90,200.49 L117.40,200.26 L117.90,201.05 L118.40,200.65 L118.90,200.40 L119.40,200.56 L119.90,200.62 L120.40,200.97 L120.90,200.16 L121.40,200.37 L121.90,200.63 L122.40,201.69 L122.90,201.14 L123.40,200.77 L123.90,201.08 L124.40,201.57 L124.90,200.76 L125.40,200.72 L125.90,201.31 L126.40,201.06 L126.90,201.13 L127.40,200.72 L127.90,201.61 L128.40,201.55 L128.90,201.16 L129.40,201.22 L129.90,200.27 L130.40,201.25 L130.90,200.98 L131.40,201.23 L131.90,201.35 L132.40,201.01 L132.90,200.55 L133.40,201.32 L133.90,200.95 L134.40,201.13 L134.90,201.06 L135.40,201.19 L135.90,200.51 L136.40,201.81 L136.90,201.49 L137.40,201.83 L137.90,202.17 L138.40,201.50 L138.90,200.87 L139.40,201.22 L139.90,201.14 L140.40,201.42 L140.90,201.66 L141.40,200.94 L141.90,201.81 L142.40,201.17 L142.90,201.84 L143.40,201.73 L143.90,201.68 L144.40,201.79 L144.90,201.65 L145.40,201.65 L145.90,201.30 L146.40,201.92 L146.90,202.62 L147.40,202.70 L147.90,202.48 L148.40,202.29 L148.90,201.82 L149.40,202.61 L149.90,202.09 L150.40,202.11 L150.90,202.06 L151.40,202.22 L151.90,202.05 L152.40,202.21 L152.90,201.87 L153.40,202.15 L153.90,203.13 L154.40,202.31 L154.90,202.27 L155.40,202.57 L155.90,202.65 L156.40,202.02 L156.90,202.37 L157.40,202.79 L157.90,202.58 L158.40,202.55 L158.90,203.08 L159.40,202.30 L159.90,202.59 L160.40,202.39 L160.90,203.13 L161.40,201.91 L161.90,202.39 L162.40,202.46 L162.90,202.91 L163.40,202.90 L163.90,203.20 L164.40,202.15 L164.90,203.00 L165.40,202.64 L165.90,202.53 L166.40,202.97 L166.90,202.46 L167.40,202.06 L167.90,202.69 L168.40,202.30 L168.90,202.62 L169.40,203.00 L169.90,202.99 L170.40,203.46 L170.90,202.83 L171.40,202.36 L171.90,202.65 L172.40,202.60 L172.90,202.51 L173.40,203.11 L173.90,202.73 L174.40,202.26 L174.90,203.24 L175.40,202.95 L175.90,203.13 L176.40,203.05 L176.90,203.25 L177.40,203.04 L177.90,203.48 L178.40,203.20 L178.90,203.19 L179.40,203.21 L179.90,202.54 L180.40,203.01 L180.90,202.99 L181.40,203.16 L181.90,202.60 L182.40,203.69 L182.90,203.14 L183.40,202.67 L183.90,202.50 L184.40,203.02 L184.90,203.09 L185.40,202.87 L185.90,203.16 L186.40,202.90 L186.90,203.34 L187.40,202.88 L187.90,203.13 L188.40,203.50 L188.90,204.08 L189.40,202.79 L189.90,202.99 L190.40,202.86 L190.90,203.44 L191.40,202.75 L191.90,202.99 L192.40,203.16 L192.90,202.82 L193.40,202.83 L193.90,203.00 L194.40,202.42 L194.90,202.66 L195.40,203.03 L195.90,203.23 L196.40,203.11 L196.90,202.54 L197.40,203.02 L197.90,203.47 L198.40,203.39 L198.90,203.16 L199.40,202.87 L199.90,203.42 L200.40,202.98 L200.90,202.77 L201.40,202.90 L201.90,203.71 L202.40,203.27 L202.90,203.61 L203.40,203.02 L203.90,203.53 L204.40,202.98 L204.90,203.14 L205.40,204.09 L205.90,203.47 L206.40,203.02 L206.90,203.17 L207.40,203.32 L207.90,203.63 L208.40,203.02 L208.90,202.57 L209.40,203.10 L209.90,203.21 L210.40,203.24 L210.90,203.67 L211.40,203.31 L211.90,203.49 L212.40,202.80 L212.90,203.51 L213.40,203.95 L213.90,203.48 L214.40,203.29 L214.90,203.26 L215.40,203.84 L215.90,202.87 L216.40,203.16 L216.90,203.37 L217.40,203.47 L217.90,203.04 L218.40,203.31 L218.90,203.10 L219.40,203.24 L219.90,203.15 L220.40,202.79 L220.90,203.19 L221.40,203.52 L221.90,202.85 L222.40,203.11 L222.90,203.44 L223.40,202.81 L223.90,203.27 L224.40,202.82 L224.90,203.61 L225.40,204.03 L225.90,203.93 L226.40,203.12 L226.90,203.47 L227.40,203.24 L227.90,203.24 L228.40,203.76 L228.90,202.73 L229.40,203.58 L229.90,203.18 L230.40,203.71 L230.90,203.27 L231.40,202.96 L231.90,203.30 L232.40,203.46 L232.90,203.21 L233.40,203.38 L233.90,203.01 L234.40,202.43 L234.90,203.52 L235.40,203.45 L235.90,203.25 L236.40,203.22 L236.90,203.57 L237.40,203.04 L237.90,202.95 L238.40,203.13 L238.90,203.63 L239.40,202.70 L239.90,203.63 L240.40,202.97 L240.90,202.80 L241.40,203.65 L241.90,203.17 L242.40,202.73 L242.90,203.07 L243.40,203.54 L243.90,203.63 L244.40,203.05 L244.90,203.35 L245.40,203.46 L245.90,202.97 L246.40,203.33 L246.90,203.19 L247.40,203.01 L247.90,203.02 L248.40,203.22 L248.90,203.21 L249.40,203.00 L249.90,203.05 L250.40,203.60 L250.90,203.28 L251.40,203.52 L251.90,203.63 L252.40,203.41 L252.90,204.02 L253.40,202.90 L253.90,203.49 L254.40,203.09 L254.90,203.87 L255.40,203.81 L255.90,202.50 L256.40,202.85 L256.90,203.44 L257.40,203.48 L257.90,203.47 L258.40,203.17 L258.90,203.36 L259.40,203.44 L259.90,203.17 L260.40,203.57 L260.90,202.39 L261.40,203.43 L261.90,202.83 L262.40,203.55 L262.90,203.12 L263.40,202.88" fill="none" stroke="#b4f0d2" stroke-width="0.75" stroke-linejoin="round"/>
<path d="M19.40,203.33 L19.90,202.87 L20.40,202.87 L20.90,202.64 L21.40,203.19 L21.90,203.38 L22.40,203.57 L22.90,203.15 L23.40,203.58 L23.90,203.21 L24.40,203.17 L24.90,203.41 L25.40,203.58 L25.90,203.08 L26.40,203.11 L26.90,203.14 L27.40,203.23 L27.90,202.88 L28.40,203.57 L28.90,203.06 L29.40,203.37 L29.90,202.90 L30.40,203.33 L30.90,203.34 L31.40,203.05 L31.90,203.93 L32.40,203.33 L32.90,203.84 L33.40,203.55 L33.90,202.96 L34.40,203.06 L34.90,203.36 L35.40,203.22 L35.90,203.22 L36.40,203.10 L36.90,202.55 L37.40,203.12 L37.90,202.40 L38.40,203.33 L38.90,202.94 L39.40,202.94 L39.90,203.12 L40.40,203.30 L40.90,202.68 L41.40,202.57 L41.90,202.82 L42.40,202.46 L42.90,202.85 L43.40,203.77 L43.90,202.82 L44.40,203.43 L44.90,202.70 L45.40,203.31 L45.90,203.08 L46.40,203.18 L46.90,203.40 L47.40,203.83 L47.90,203.27 L48.40,203.24 L48.90,202.85 L49.40,203.40 L49.90,203.11 L50.40,203.49 L50.90,203.18 L51.40,203.82 L51.90,202.48 L52.40,203.08 L52.90,203.51 L53.40,203.06 L53.90,202.90 L54.40,203.09 L54.90,202.69 L55.40,203.22 L55.90,204.06 L56.40,203.59 L56.90,202.78 L57.40,202.86 L57.90,203.02 L58.40,203.53 L58.90,202.87 L59.40,202.91 L59.90,203.47 L60.40,203.46 L60.90,203.01 L61.40,202.74 L61.90,202.57 L62.40,202.87 L62.90,202.31 L63.40,203.38 L63.90,202.88 L64.40,203.27 L64.90,203.76 L65.40,203.49 L65.90,202.64 L66.40,203.36 L66.90,203.45 L67.40,202.74 L67.90,202.65 L68.40,202.94 L68.90,202.39 L69.40,203.47 L69.90,202.06 L70.40,202.51 L70.90,202.79 L71.40,202.78 L71.90,202.90 L72.40,202.91 L72.90,202.71 L73.40,203.17 L73.90,201.97 L74.40,202.71 L74.90,202.42 L75.40,202.70 L75.90,202.70 L76.40,202.26 L76.90,202.33 L77.40,202.81 L77.90,202.62 L78.40,202.22 L78.90,203.17 L79.40,203.23 L79.90,201.84 L80.40,202.45 L80.90,203.21 L81.40,202.55 L81.90,202.31 L82.40,202.12 L82.90,201.96 L83.40,202.03 L83.90,201.86 L84.40,202.27 L84.90,201.81 L85.40,201.73 L85.90,201.40 L86.40,201.76 L86.90,201.39 L87.40,201.59 L87.90,201.97 L88.40,201.66 L88.90,201.64 L89.40,201.52 L89.90,201.35 L90.40,201.21 L90.90,201.07 L91.40,201.38 L91.90,200.64 L92.40,201.43 L92.90,200.88 L93.40,200.52 L93.90,200.53 L94.40,200.39 L94.90,200.61 L95.40,200.21 L95.90,200.79 L96.40,200.01 L96.90,199.38 L97.40,199.85 L97.90,199.30 L98.40,199.91 L98.90,200.21 L99.40,199.96 L99.90,199.14 L100.40,199.25 L100.90,200.06 L101.40,199.44 L101.90,199.23 L102.40,199.51 L102.90,199.91 L103.40,199.40 L103.90,198.89 L104.40,198.87 L104.90,198.86 L105.40,198.33 L105.90,198.08 L106.40,198.40 L106.90,197.96 L107.40,198.20 L107.90,198.18 L108.40,198.92 L108.90,197.70 L109.40,197.91 L109.90,197.84 L110.40,198.01 L110.90,198.18 L111.40,197.58 L111.90,197.43 L112.40,197.11 L112.90,197.34 L113.40,197.84 L113.90,197.65 L114.40,197.25 L114.90,197.47 L115.40,197.61 L115.90,197.79 L116.40,197.41 L116.90,197.55 L117.40,197.01 L117.90,197.28 L118.40,198.30 L118.90,196.96 L119.40,197.66 L119.90,197.89 L120.40,197.71 L120.90,197.59 L121.40,197.90 L121.90,197.95 L122.40,197.96 L122.90,197.34 L123.40,197.99 L123.90,197.76 L124.40,197.90 L124.90,198.21 L125.40,198.38 L125.90,198.50 L126.40,198.03 L126.90,198.56 L127.40,198.68 L127.90,198.69 L128.40,198.82 L128.90,198.31 L129.40,198.34 L129.90,198.75 L130.40,198.02 L130.90,198.64 L131.40,198.43 L131.90,198.55 L132.40,198.12 L132.90,198.49 L133.40,198.87 L133.90,199.26 L134.40,199.36 L134.90,199.04 L135.40,199.07 L135.90,198.90 L136.40,199.41 L136.90,199.24 L137.40,199.61 L137.90,200.09 L138.40,199.50 L138.90,199.04 L139.40,199.33 L139.90,199.17 L140.40,199.33 L140.90,200.29 L141.40,199.96 L141.90,199.39 L142.40,200.23 L142.90,200.50 L143.40,199.98 L143.90,199.92 L144.40,200.10 L144.90,200.39 L145.40,200.57 L145.90,200.83 L146.40,200.90 L146.90,200.95 L147.40,201.07 L147.90,200.87 L148.40,200.14 L148.90,200.70 L149.40,200.92 L149.90,200.72 L150.40,201.24 L150.90,200.83 L151.40,200.68 L151.90,201.59 L152.40,201.36 L152.90,201.26 L153.40,201.56 L153.90,201.66 L154.40,201.45 L154.90,200.49 L155.40,201.18 L155.90,201.31 L156.40,201.17 L156.90,201.64 L157.40,202.04 L157.90,201.48 L158.40,201.29 L158.90,202.47 L159.40,201.62 L159.90,201.38 L160.40,201.95 L160.90,202.06 L161.40,201.69 L161.90,202.27 L162.40,201.84 L162.90,201.72 L163.40,202.16 L163.90,202.41 L164.40,201.93 L164.90,202.32 L165.40,202.20 L165.90,203.28 L166.40,202.04 L166.90,202.83 L167.40,202.34 L167.90,202.34 L168.40,202.68 L168.90,202.77 L169.40,202.93 L169.90,202.62 L170.40,202.31 L170.90,202.36 L171.40,202.76 L171.90,202.81 L172.40,203.13 L172.90,202.80 L173.40,203.06 L173.90,203.24 L174.40,202.78 L174.90,202.20 L175.40,202.33 L175.90,202.26 L176.40,203.37 L176.90,202.51 L177.40,203.27 L177.90,203.06 L178.40,203.48 L178.90,203.24 L179.40,202.86 L179.90,202.84 L180.40,202.96 L180.90,203.00 L181.40,202.76 L181.90,202.96 L182.40,203.56 L182.90,202.38 L183.40,203.10 L183.90,202.69 L184.40,203.09 L184.90,203.33 L185.40,203.02 L185.90,203.33 L186.40,202.48 L186.90,203.46 L187.40,202.85 L187.90,203.30 L188.40,203.15 L188.90,202.16 L189.40,202.83 L189.90,203.18 L190.40,203.67 L190.90,203.22 L191.40,203.21 L191.90,202.62 L192.40,203.64 L192.90,203.78 L193.40,203.15 L193.90,203.06 L194.40,202.56 L194.90,203.47 L195.40,204.13 L195.90,203.41 L196.40,203.61 L196.90,203.36 L197.40,202.81 L197.90,203.65 L198.40,202.73 L198.90,203.10 L199.40,203.27 L199.90,203.49 L200.40,203.33 L200.90,203.32 L201.40,202.91 L201.90,202.72 L202.40,203.21 L202.90,202.93 L203.40,202.72 L203.90,202.73 L204.40,203.01 L204.90,202.52 L205.40,202.71 L205.90,202.60 L206.40,203.26 L206.90,203.34 L207.40,203.92 L207.90,202.66 L208.40,202.95 L208.90,203.53 L209.40,203.12 L209.90,203.08 L210.40,203.82 L210.90,203.08 L211.40,202.78 L211.90,202.73 L212.40,203.32 L212.90,203.31 L213.40,202.71 L213.90,202.85 L214.40,203.39 L214.90,203.41 L215.40,202.97 L215.90,203.42 L216.40,203.41 L216.90,202.56 L217.40,203.09 L217.90,203.35 L218.40,202.99 L218.90,202.43 L219.40,203.10 L219.90,203.47 L220.40,203.77 L220.90,202.41 L221.40,204.14 L221.90,202.79 L222.40,203.54 L222.90,203.64 L223.40,203.55 L223.90,203.25 L224.40,202.78 L224.90,203.43 L225.40,202.94 L225.90,202.29 L226.40,204.22 L226.90,203.45 L227.40,203.85 L227.90,202.87 L228.40,203.73 L228.90,203.77 L229.40,203.76 L229.90,203.19 L230.40,202.77 L230.90,203.14 L231.40,202.41 L231.90,202.59 L232.40,203.23 L232.90,202.84 L233.40,203.14 L233.90,203.16 L234.40,203.90 L234.90,203.67 L235.40,203.18 L235.90,203.64 L236.40,202.92 L236.90,203.08 L237.40,203.53 L237.90,202.75 L238.40,203.10 L238.90,202.72 L239.40,203.24 L239.90,203.79 L240.40,202.93 L240.90,203.28 L241.40,202.88 L241.90,202.79 L242.40,202.76 L242.90,203.72 L243.40,204.05 L243.90,203.37 L244.40,202.94 L244.90,203.45 L245.40,203.08 L245.90,203.49 L246.40,203.30 L246.90,203.30 L247.40,203.42 L247.90,202.99 L248.40,203.05 L248.90,202.58 L249.40,203.04 L249.90,202.69 L250.40,203.15 L250.90,202.86 L251.40,203.24 L251.90,203.36 L252.40,202.69 L252.90,202.91 L253.40,202.86 L253.90,203.47 L254.40,203.81 L254.90,203.51 L255.40,203.07 L255.90,203.73 L256.40,202.65 L256.90,203.74 L257.40,202.96 L257.90,202.20 L258.40,204.15 L258.90,203.77 L259.40,202.83 L259.90,203.26 L260.40,203.12 L260.90,203.24 L261.40,202.67 L261.90,202.95 L262.40,203.37 L262.90,203.28 L263.40,203.63" fill="none" stroke="#9ee6e0" stroke-width="0.75" stroke-linejoin="round"/>
<path d="M19.40,203.23 L19.90,204.05 L20.40,202.94 L20.90,203.29 L21.40,202.51 L21.90,202.75 L22.40,203.68 L22.90,202.86 L23.40,203.39 L23.90,203.18 L24.40,202.82 L24.90,203.07 L25.40,203.01 L25.90,203.02 L26.40,203.47 L26.90,203.43 L27.40,202.99 L27.90,202.87 L28.40,203.30 L28.90,203.16 L29.40,203.57 L29.90,204.16 L30.40,203.50 L30.90,203.19 L31.40,203.14 L31.90,202.89 L32.40,202.87 L32.90,202.84 L33.40,203.06 L33.90,203.05 L34.40,203.47 L34.90,203.06 L35.40,203.13 L35.90,202.76 L36.40,203.79 L36.90,203.38 L37.40,203.84 L37.90,203.49 L38.40,203.74 L38.90,203.11 L39.40,203.46 L39.90,204.17 L40.40,202.76 L40.90,203.62 L41.40,203.81 L41.90,203.35 L42.40,203.47 L42.90,203.66 L43.40,202.96 L43.90,203.35 L44.40,202.88 L44.90,202.95 L45.40,202.97 L45.90,203.14 L46.40,203.25 L46.90,203.36 L47.40,202.67 L47.90,203.92 L48.40,203.62 L48.90,203.46 L49.40,203.06 L49.90,203.16 L50.40,203.39 L50.90,203.34 L51.40,202.57 L51.90,203.46 L52.40,204.26 L52.90,202.50 L53.40,203.55 L53.90,203.31 L54.40,203.13 L54.90,203.68 L55.40,202.73 L55.90,203.22 L56.40,203.70 L56.90,203.08 L57.40,203.00 L57.90,203.19 L58.40,202.98 L58.90,203.71 L59.40,202.79 L59.90,203.44 L60.40,202.65 L60.90,203.35 L61.40,203.05 L61.90,202.13 L62.40,203.07 L62.90,202.66 L63.40,202.88 L63.90,203.60 L64.40,202.60 L64.90,202.60 L65.40,203.51 L65.90,203.00 L66.40,203.50 L66.90,203.02 L67.40,202.55 L67.90,202.82 L68.40,203.27 L68.90,203.14 L69.40,202.76 L69.90,202.74 L70.40,202.65 L70.90,202.44 L71.40,203.33 L71.90,202.57 L72.40,202.11 L72.90,202.31 L73.40,202.71 L73.90,202.64 L74.40,202.30 L74.90,202.06 L75.40,202.26 L75.90,201.58 L76.40,201.66 L76.90,202.39 L77.40,201.86 L77.90,202.12 L78.40,202.38 L78.90,202.11 L79.40,201.83 L79.90,202.55 L80.40,201.96 L80.90,201.52 L81.40,201.86 L81.90,201.68 L82.40,201.14 L82.90,201.42 L83.40,201.25 L83.90,200.50 L84.40,201.07 L84.90,200.93 L85.40,200.78 L85.90,200.23 L86.40,200.60 L86.90,200.62 L87.40,200.56 L87.90,199.99 L88.40,200.54 L88.90,199.74 L89.40,199.99 L89.90,200.43 L90.40,199.57 L90.90,199.51 L91.40,199.97 L91.90,199.30 L92.40,199.19 L92.90,199.25 L93.40,199.42 L93.90,198.07 L94.40,198.44 L94.90,198.23 L95.40,198.06 L95.90,198.00 L96.40,197.85 L96.90,198.12 L97.40,197.52 L97.90,197.74 L98.40,197.67 L98.90,197.09 L99.40,197.23 L99.90,197.61 L100.40,196.95 L100.90,196.42 L101.40,196.46 L101.90,195.98 L102.40,196.25 L102.90,196.29 L103.40,195.51 L103.90,195.56 L104.40,195.88 L104.90,195.12 L105.40,195.22 L105.90,194.62 L106.40,194.55 L106.90,194.52 L107.40,195.36 L107.90,194.30 L108.40,194.14 L108.90,194.01 L109.40,194.05 L109.90,194.25 L110.40,194.00 L110.90,194.59 L111.40,193.85 L111.90,194.24 L112.40,193.77 L112.90,193.84 L113.40,193.07 L113.90,193.51 L114.40,193.50 L114.90,193.42 L115.40,192.72 L115.90,193.83 L116.40,193.39 L116.90,193.41 L117.40,193.52 L117.90,193.58 L118.40,193.86 L118.90,193.30 L119.40,193.47 L119.90,193.97 L120.40,193.98 L120.90,193.85 L121.40,193.84 L121.90,193.81 L122.40,194.15 L122.90,194.65 L123.40,193.89 L123.90,194.87 L124.40,194.67 L124.90,194.25 L125.40,194.74 L125.90,193.98 L126.40,193.92 L126.90,194.12 L127.40,194.49 L127.90,194.57 L128.40,194.56 L128.90,194.85 L129.40,194.12 L129.90,195.16 L130.40,194.56 L130.90,194.93 L131.40,195.12 L131.90,194.96 L132.40,194.99 L132.90,195.24 L133.40,195.70 L133.90,196.03 L134.40,196.13 L134.90,195.69 L135.40,195.87 L135.90,195.94 L136.40,196.55 L136.90,195.76 L137.40,197.05 L137.90,196.54 L138.40,196.54 L138.90,197.05 L139.40,197.40 L139.90,197.26 L140.40,197.62 L140.90,197.39 L141.40,197.88 L141.90,197.99 L142.40,197.61 L142.90,198.26 L143.40,197.91 L143.90,197.98 L144.40,197.72 L144.90,198.05 L145.40,198.53 L145.90,197.88 L146.40,198.69 L146.90,198.68 L147.40,198.76 L147.90,197.96 L148.40,198.82 L148.90,199.18 L149.40,198.77 L149.90,199.17 L150.40,198.38 L150.90,199.57 L151.40,199.18 L151.90,199.83 L152.40,198.94 L152.90,199.94 L153.40,199.70 L153.90,200.16 L154.40,199.63 L154.90,199.82 L155.40,200.94 L155.90,199.91 L156.40,200.04 L156.90,200.27 L157.40,200.08 L157.90,200.95 L158.40,201.22 L158.90,200.42 L159.40,200.12 L159.90,201.24 L160.40,201.28 L160.90,201.25 L161.40,201.44 L161.90,200.78 L162.40,201.09 L162.90,200.72 L163.40,200.77 L163.90,201.70 L164.40,201.16 L164.90,202.28 L165.40,201.55 L165.90,201.35 L166.40,201.92 L166.90,202.34 L167.40,201.92 L167.90,201.35 L168.40,201.98 L168.90,202.39 L169.40,201.76 L169.90,201.71 L170.40,202.40 L170.90,202.13 L171.40,201.73 L171.90,202.03 L172.40,201.94 L172.90,202.36 L173.40,202.33 L173.90,202.74 L174.40,202.62 L174.90,201.84 L175.40,202.58 L175.90,202.79 L176.40,202.66 L176.90,202.90 L177.40,202.36 L177.90,202.24 L178.40,202.95 L178.90,202.26 L179.40,201.89 L179.90,203.07 L180.40,202.46 L180.90,202.64 L181.40,202.27 L181.90,202.32 L182.40,202.40 L182.90,202.71 L183.40,202.99 L183.90,202.05 L184.40,203.16 L184.90,202.48 L185.40,202.54 L185.90,203.18 L186.40,202.92 L186.90,202.41 L187.40,203.64 L187.90,202.68 L188.40,203.09 L188.90,203.08 L189.40,203.53 L189.90,202.87 L190.40,203.40 L190.90,202.78 L191.40,203.46 L191.90,202.79 L192.40,202.95 L192.90,203.77 L193.40,203.21 L193.90,203.14 L194.40,203.91 L194.90,203.24 L195.40,202.83 L195.90,203.39 L196.40,202.71 L196.90,203.54 L197.40,203.57 L197.90,202.94 L198.40,202.92 L198.90,203.21 L199.40,203.16 L199.90,202.81 L200.40,203.37 L200.90,202.43 L201.40,203.01 L201.90,203.02 L202.40,203.07 L202.90,203.29 L203.40,202.73 L203.90,203.39 L204.40,203.12 L204.90,202.95 L205.40,202.69 L205.90,202.76 L206.40,203.32 L206.90,202.84 L207.40,203.22 L207.90,203.58 L208.40,203.57 L208.90,203.76 L209.40,203.09 L209.90,202.81 L210.40,203.57 L210.90,203.31 L211.40,203.60 L211.90,203.20 L212.40,203.63 L212.90,203.50 L213.40,203.46 L213.90,203.38 L214.40,203.34 L214.90,203.28 L215.40,203.28 L215.90,203.56 L216.40,203.02 L216.90,203.82 L217.40,203.16 L217.90,203.55 L218.40,203.17 L218.90,203.11 L219.40,203.93 L219.90,203.09 L220.40,202.74 L220.90,202.94 L221.40,203.09 L221.90,203.98 L222.40,203.27 L222.90,203.54 L223.40,202.84 L223.90,203.33 L224.40,203.44 L224.90,203.85 L225.40,202.95 L225.90,203.42 L226.40,203.31 L226.90,202.83 L227.40,203.19 L227.90,203.11 L228.40,202.36 L228.90,203.42 L229.40,203.39 L229.90,203.04 L230.40,202.72 L230.90,203.73 L231.40,203.30 L231.90,203.57 L232.40,203.71 L232.90,203.01 L233.40,203.49 L233.90,203.11 L234.40,203.18 L234.90,203.17 L235.40,203.20 L235.90,203.60 L236.40,203.24 L236.90,203.14 L237.40,203.10 L237.90,203.32 L238.40,202.88 L238.90,203.02 L239.40,203.18 L239.90,203.00 L240.40,203.16 L240.90,202.98 L241.40,203.92 L241.90,203.68 L242.40,203.36 L242.90,203.18 L243.40,203.99 L243.90,203.32 L244.40,203.17 L244.90,203.31 L245.40,203.31 L245.90,203.71 L246.40,203.19 L246.90,203.96 L247.40,202.88 L247.90,203.45 L248.40,202.84 L248.90,203.85 L249.40,203.08 L249.90,203.18 L250.40,203.53 L250.90,203.65 L251.40,202.80 L251.90,203.08 L252.40,202.70 L252.90,203.25 L253.40,203.16 L253.90,203.07 L254.40,202.95 L254.90,203.06 L255.40,202.93 L255.90,203.39 L256.40,203.75 L256.90,202.50 L257.40,203.16 L257.90,203.05 L258.40,203.38 L258.90,202.86 L259.40,203.15 L259.90,202.83 L260.40,203.45 L260.90,203.24 L261.40,203.14 L261.90,203.33 L262.40,203.11 L262.90,202.64 L263.40,203.41" fill="none" stroke="#86d8ee" stroke-width="0.75" stroke-linejoin="round"/>
<path d="M19.40,203.30 L19.90,203.14 L20.40,203.55 L20.90,203.64 L21.40,202.81 L21.90,202.92 L22.40,203.76 L22.90,203.71 L23.40,202.93 L23.90,202.77 L24.40,202.97 L24.90,203.02 L25.40,202.63 L25.90,203.21 L26.40,202.74 L26.90,202.76 L27.40,203.53 L27.90,202.95 L28.40,203.17 L28.90,203.43 L29.40,203.49 L29.90,203.08 L30.40,203.22 L30.90,202.90 L31.40,203.83 L31.90,203.43 L32.40,202.80 L32.90,203.20 L33.40,203.46 L33.90,203.37 L34.40,203.86 L34.90,203.69 L35.40,203.01 L35.90,203.17 L36.40,202.74 L36.90,203.29 L37.40,203.25 L37.90,204.17 L38.40,203.24 L38.90,202.45 L39.40,202.96 L39.90,203.24 L40.40,202.75 L40.90,202.89 L41.40,203.07 L41.90,203.32 L42.40,203.14 L42.90,202.88 L43.40,203.48 L43.90,203.00 L44.40,203.02 L44.90,202.70 L45.40,202.91 L45.90,203.43 L46.40,202.61 L46.90,203.17 L47.40,203.45 L47.90,203.05 L48.40,203.27 L48.90,202.79 L49.40,203.66 L49.90,203.58 L50.40,203.27 L50.90,202.55 L51.40,202.80 L51.90,203.53 L52.40,203.79 L52.90,203.28 L53.40,203.62 L53.90,202.95 L54.40,203.09 L54.90,203.16 L55.40,203.30 L55.90,202.59 L56.40,203.47 L56.90,203.60 L57.40,202.71 L57.90,202.62 L58.40,203.23 L58.90,202.86 L59.40,202.23 L59.90,203.36 L60.40,203.11 L60.90,202.87 L61.40,203.79 L61.90,203.06 L62.40,202.72 L62.90,203.01 L63.40,202.57 L63.90,202.65 L64.40,203.04 L64.90,202.67 L65.40,202.68 L65.90,203.40 L66.40,203.07 L66.90,203.01 L67.40,202.87 L67.90,202.80 L68.40,203.11 L68.90,202.53 L69.40,203.15 L69.90,202.09 L70.40,202.28 L70.90,201.81 L71.40,202.12 L71.90,202.37 L72.40,202.64 L72.90,201.81 L73.40,201.98 L73.90,201.78 L74.40,201.56 L74.90,201.32 L75.40,201.69 L75.90,200.96 L76.40,201.53 L76.90,201.41 L77.40,201.08 L77.90,200.86 L78.40,200.64 L78.90,201.73 L79.40,200.48 L79.90,201.44 L80.40,201.00 L80.90,200.56 L81.40,200.18 L81.90,200.87 L82.40,201.01 L82.90,199.93 L83.40,200.03 L83.90,200.38 L84.40,199.98 L84.90,200.42 L85.40,199.33 L85.90,199.57 L86.40,198.76 L86.90,199.79 L87.40,198.61 L87.90,197.90 L88.40,198.46 L88.90,198.27 L89.40,198.82 L89.90,197.82 L90.40,197.74 L90.90,197.75 L91.40,197.90 L91.90,197.09 L92.40,197.27 L92.90,196.86 L93.40,196.34 L93.90,196.25 L94.40,196.00 L94.90,195.43 L95.40,195.97 L95.90,194.79 L96.40,195.47 L96.90,195.14 L97.40,194.51 L97.90,194.01 L98.40,193.94 L98.90,193.91 L99.40,193.73 L99.90,193.28 L100.40,193.25 L100.90,192.41 L101.40,192.42 L101.90,191.49 L102.40,192.06 L102.90,191.56 L103.40,191.09 L103.90,191.38 L104.40,190.94 L104.90,189.41 L105.40,190.18 L105.90,189.40 L106.40,190.07 L106.90,190.35 L107.40,189.05 L107.90,189.06 L108.40,188.75 L108.90,188.78 L109.40,188.72 L109.90,188.80 L110.40,187.84 L110.90,188.63 L111.40,187.61 L111.90,187.95 L112.40,188.19 L112.90,187.96 L113.40,187.30 L113.90,187.33 L114.40,187.37 L114.90,187.49 L115.40,187.91 L115.90,187.05 L116.40,187.72 L116.90,187.83 L117.40,187.88 L117.90,187.93 L118.40,188.39 L118.90,188.09 L119.40,188.31 L119.90,188.29 L120.40,188.83 L120.90,187.61 L121.40,188.85 L121.90,188.40 L122.40,188.48 L122.90,188.32 L123.40,188.08 L123.90,188.69 L124.40,188.65 L124.90,189.15 L125.40,188.52 L125.90,189.64 L126.40,189.29 L126.90,189.17 L127.40,189.08 L127.90,189.13 L128.40,189.10 L128.90,189.43 L129.40,189.76 L129.90,189.83 L130.40,189.54 L130.90,190.11 L131.40,190.04 L131.90,190.60 L132.40,191.39 L132.90,191.12 L133.40,190.96 L133.90,190.67 L134.40,190.92 L134.90,191.01 L135.40,192.06 L135.90,191.71 L136.40,192.19 L136.90,192.12 L137.40,192.56 L137.90,193.21 L138.40,192.63 L138.90,192.92 L139.40,192.92 L139.90,193.70 L140.40,193.18 L140.90,193.31 L141.40,193.38 L141.90,193.54 L142.40,194.38 L142.90,195.30 L143.40,194.18 L143.90,195.04 L144.40,194.95 L144.90,194.63 L145.40,195.09 L145.90,195.27 L146.40,195.27 L146.90,196.38 L147.40,195.16 L147.90,196.14 L148.40,196.28 L148.90,196.11 L149.40,196.53 L149.90,196.95 L150.40,196.84 L150.90,197.08 L151.40,197.33 L151.90,196.50 L152.40,197.91 L152.90,198.35 L153.40,198.02 L153.90,198.18 L154.40,197.45 L154.90,198.05 L155.40,197.94 L155.90,198.15 L156.40,198.84 L156.90,198.33 L157.40,198.70 L157.90,198.18 L158.40,198.93 L158.90,199.14 L159.40,198.97 L159.90,199.08 L160.40,200.13 L160.90,199.13 L161.40,199.29 L161.90,199.49 L162.40,200.32 L162.90,200.75 L163.40,200.21 L163.90,199.94 L164.40,200.14 L164.90,200.77 L165.40,200.15 L165.90,201.10 L166.40,201.17 L166.90,200.78 L167.40,201.07 L167.90,201.19 L168.40,201.56 L168.90,200.70 L169.40,201.59 L169.90,201.10 L170.40,201.04 L170.90,201.42 L171.40,201.38 L171.90,201.18 L172.40,201.03 L172.90,201.33 L173.40,202.25 L173.90,202.50 L174.40,202.08 L174.90,202.33 L175.40,201.77 L175.90,201.98 L176.40,202.16 L176.90,201.72 L177.40,201.80 L177.90,202.24 L178.40,202.14 L178.90,201.91 L179.40,202.48 L179.90,202.29 L180.40,202.80 L180.90,202.47 L181.40,202.40 L181.90,202.59 L182.40,202.52 L182.90,202.38 L183.40,202.50 L183.90,202.94 L184.40,202.93 L184.90,203.19 L185.40,202.14 L185.90,202.63 L186.40,202.65 L186.90,202.88 L187.40,202.68 L187.90,202.68 L188.40,203.16 L188.90,202.96 L189.40,202.49 L189.90,203.41 L190.40,203.30 L190.90,202.75 L191.40,203.27 L191.90,202.72 L192.40,203.40 L192.90,202.93 L193.40,202.74 L193.90,202.90 L194.40,202.77 L194.90,203.13 L195.40,203.13 L195.90,203.09 L196.40,202.89 L196.90,201.78 L197.40,203.14 L197.90,202.43 L198.40,203.20 L198.90,203.53 L199.40,203.22 L199.90,202.99 L200.40,203.07 L200.90,203.09 L201.40,202.95 L201.90,202.94 L202.40,202.82 L202.90,203.59 L203.40,203.16 L203.90,203.51 L204.40,203.08 L204.90,203.20 L205.40,203.12 L205.90,203.35 L206.40,203.48 L206.90,203.27 L207.40,202.95 L207.90,202.91 L208.40,203.79 L208.90,203.09 L209.40,203.09 L209.90,203.73 L210.40,203.59 L210.90,203.39 L211.40,203.06 L211.90,204.05 L212.40,203.34 L212.90,203.40 L213.40,203.14 L213.90,202.69 L214.40,202.72 L214.90,203.35 L215.40,203.34 L215.90,203.11 L216.40,202.78 L216.90,202.68 L217.40,203.08 L217.90,202.68 L218.40,203.52 L218.90,203.61 L219.40,204.22 L219.90,203.52 L220.40,202.99 L220.90,202.89 L221.40,201.96 L221.90,202.99 L222.40,203.14 L222.90,203.55 L223.40,203.42 L223.90,203.41 L224.40,203.28 L224.90,203.44 L225.40,203.72 L225.90,202.82 L226.40,203.04 L226.90,202.70 L227.40,203.78 L227.90,203.67 L228.40,203.47 L228.90,202.77 L229.40,203.26 L229.90,203.12 L230.40,203.23 L230.90,203.13 L231.40,203.39 L231.90,203.06 L232.40,203.51 L232.90,203.29 L233.40,203.09 L233.90,203.16 L234.40,203.04 L234.90,203.49 L235.40,203.10 L235.90,203.31 L236.40,203.06 L236.90,202.67 L237.40,203.53 L237.90,202.82 L238.40,203.44 L238.90,203.35 L239.40,202.60 L239.90,202.86 L240.40,203.01 L240.90,202.90 L241.40,202.77 L241.90,203.47 L242.40,203.11 L242.90,203.34 L243.40,203.05 L243.90,203.31 L244.40,202.93 L244.90,203.19 L245.40,203.41 L245.90,203.22 L246.40,203.04 L246.90,202.81 L247.40,203.26 L247.90,203.32 L248.40,203.11 L248.90,202.92 L249.40,203.40 L249.90,204.09 L250.40,203.09 L250.90,203.32 L251.40,203.34 L251.90,202.28 L252.40,203.24 L252.90,202.95 L253.40,203.70 L253.90,203.11 L254.40,202.92 L254.90,203.12 L255.40,203.26 L255.90,203.00 L256.40,203.18 L256.90,202.71 L257.40,203.12 L257.90,203.48 L258.40,203.91 L258.90,203.45 L259.40,203.30 L259.90,203.63 L260.40,203.57 L260.90,203.80 L261.40,203.59 L261.90,203.16 L262.40,203.29 L262.90,203.26 L263.40,203.31" fill="none" stroke="#6fc2f4" stroke-width="0.75" stroke-linejoin="round"/>
<path d="M19.40,203.27 L19.90,202.92 L20.40,202.44 L20.90,202.96 L21.40,202.47 L21.90,203.22 L22.40,203.20 L22.90,202.60 L23.40,203.45 L23.90,203.51 L24.40,203.23 L24.90,203.80 L25.40,203.87 L25.90,202.77 L26.40,203.57 L26.90,203.36 L27.40,203.35 L27.90,203.54 L28.40,202.94 L28.90,202.99 L29.40,202.90 L29.90,202.93 L30.40,203.16 L30.90,202.68 L31.40,202.82 L31.90,203.41 L32.40,203.17 L32.90,203.34 L33.40,202.52 L33.90,202.92 L34.40,203.00 L34.90,203.21 L35.40,202.99 L35.90,203.54 L36.40,203.18 L36.90,203.21 L37.40,203.20 L37.90,203.45 L38.40,203.03 L38.90,203.60 L39.40,203.37 L39.90,203.26 L40.40,203.21 L40.90,203.39 L41.40,203.57 L41.90,203.54 L42.40,203.33 L42.90,203.51 L43.40,203.24 L43.90,203.65 L44.40,203.19 L44.90,202.45 L45.40,203.67 L45.90,203.23 L46.40,202.77 L46.90,203.12 L47.40,202.87 L47.90,203.94 L48.40,203.36 L48.90,202.62 L49.40,203.38 L49.90,203.03 L50.40,203.86 L50.90,202.79 L51.40,202.36 L51.90,203.19 L52.40,203.04 L52.90,203.01 L53.40,202.38 L53.90,203.30 L54.40,203.74 L54.90,202.44 L55.40,203.54 L55.90,202.91 L56.40,203.95 L56.90,203.25 L57.40,203.01 L57.90,203.46 L58.40,203.24 L58.90,202.82 L59.40,203.28 L59.90,202.82 L60.40,202.34 L60.90,203.69 L61.40,202.81 L61.90,202.69 L62.40,203.00 L62.90,202.29 L63.40,202.33 L63.90,202.60 L64.40,202.56 L64.90,202.72 L65.40,203.05 L65.90,202.42 L66.40,202.71 L66.90,202.68 L67.40,202.01 L67.90,202.41 L68.40,201.92 L68.90,202.57 L69.40,202.27 L69.90,202.03 L70.40,201.45 L70.90,201.88 L71.40,201.47 L71.90,201.90 L72.40,201.50 L72.90,201.15 L73.40,201.67 L73.90,201.48 L74.40,200.89 L74.90,201.40 L75.40,200.75 L75.90,200.61 L76.40,200.64 L76.90,200.19 L77.40,200.16 L77.90,200.13 L78.40,200.60 L78.90,200.46 L79.40,199.69 L79.90,200.23 L80.40,199.49 L80.90,199.50 L81.40,199.54 L81.90,199.17 L82.40,199.77 L82.90,198.81 L83.40,198.09 L83.90,198.78 L84.40,197.94 L84.90,197.74 L85.40,196.52 L85.90,197.71 L86.40,197.39 L86.90,197.13 L87.40,196.93 L87.90,196.92 L88.40,196.01 L88.90,196.08 L89.40,195.19 L89.90,195.03 L90.40,195.24 L90.90,194.69 L91.40,193.75 L91.90,194.02 L92.40,193.49 L92.90,192.92 L93.40,193.03 L93.90,192.39 L94.40,191.62 L94.90,191.43 L95.40,192.11 L95.90,190.56 L96.40,190.82 L96.90,190.57 L97.40,190.19 L97.90,189.13 L98.40,189.05 L98.90,188.80 L99.40,188.60 L99.90,187.65 L100.40,187.02 L100.90,187.37 L101.40,186.99 L101.90,186.30 L102.40,185.53 L102.90,185.48 L103.40,184.95 L103.90,184.80 L104.40,183.63 L104.90,183.71 L105.40,183.22 L105.90,182.50 L106.40,182.61 L106.90,182.20 L107.40,181.71 L107.90,181.69 L108.40,180.73 L108.90,180.94 L109.40,180.86 L109.90,180.58 L110.40,180.65 L110.90,179.63 L111.40,179.34 L111.90,179.82 L112.40,179.77 L112.90,180.27 L113.40,179.64 L113.90,179.02 L114.40,179.55 L114.90,178.91 L115.40,178.67 L115.90,180.16 L116.40,179.40 L116.90,179.63 L117.40,179.68 L117.90,180.25 L118.40,179.83 L118.90,180.28 L119.40,179.59 L119.90,179.60 L120.40,180.77 L120.90,180.94 L121.40,180.75 L121.90,180.80 L122.40,180.92 L122.90,180.74 L123.40,181.66 L123.90,181.46 L124.40,181.52 L124.90,181.59 L125.40,181.95 L125.90,181.87 L126.40,182.06 L126.90,181.47 L127.40,182.19 L127.90,182.92 L128.40,182.09 L128.90,182.40 L129.40,182.97 L129.90,183.21 L130.40,183.32 L130.90,182.75 L131.40,183.76 L131.90,183.42 L132.40,183.82 L132.90,184.59 L133.40,184.56 L133.90,185.23 L134.40,186.35 L134.90,185.77 L135.40,186.03 L135.90,185.73 L136.40,186.10 L136.90,186.23 L137.40,186.69 L137.90,186.76 L138.40,187.18 L138.90,187.60 L139.40,187.57 L139.90,187.68 L140.40,187.95 L140.90,188.86 L141.40,188.97 L141.90,189.57 L142.40,189.83 L142.90,189.58 L143.40,190.19 L143.90,189.69 L144.40,191.28 L144.90,191.14 L145.40,190.88 L145.90,190.79 L146.40,191.60 L146.90,191.04 L147.40,191.68 L147.90,192.47 L148.40,192.47 L148.90,192.51 L149.40,193.27 L149.90,192.78 L150.40,193.49 L150.90,193.44 L151.40,193.54 L151.90,194.24 L152.40,193.94 L152.90,195.21 L153.40,194.54 L153.90,195.68 L154.40,194.79 L154.90,195.61 L155.40,195.17 L155.90,195.32 L156.40,196.06 L156.90,196.44 L157.40,195.93 L157.90,197.00 L158.40,196.47 L158.90,196.99 L159.40,197.26 L159.90,197.51 L160.40,196.82 L160.90,198.22 L161.40,198.01 L161.90,197.82 L162.40,197.77 L162.90,197.69 L163.40,197.96 L163.90,198.80 L164.40,198.63 L164.90,198.50 L165.40,198.86 L165.90,199.75 L166.40,199.20 L166.90,199.25 L167.40,200.07 L167.90,199.88 L168.40,199.86 L168.90,199.74 L169.40,199.52 L169.90,199.78 L170.40,200.14 L170.90,200.35 L171.40,200.67 L171.90,200.85 L172.40,200.83 L172.90,200.94 L173.40,200.59 L173.90,200.27 L174.40,200.95 L174.90,200.88 L175.40,201.07 L175.90,201.29 L176.40,201.01 L176.90,201.14 L177.40,201.57 L177.90,201.72 L178.40,201.51 L178.90,202.00 L179.40,201.81 L179.90,201.59 L180.40,202.03 L180.90,202.76 L181.40,201.90 L181.90,202.62 L182.40,202.75 L182.90,202.85 L183.40,202.06 L183.90,203.12 L184.40,202.48 L184.90,202.39 L185.40,202.43 L185.90,202.77 L186.40,202.60 L186.90,202.56 L187.40,203.11 L187.90,202.42 L188.40,202.33 L188.90,203.02 L189.40,203.01 L189.90,203.18 L190.40,202.42 L190.90,203.22 L191.40,203.03 L191.90,203.51 L192.40,202.44 L192.90,202.99 L193.40,202.83 L193.90,202.38 L194.40,202.71 L194.90,203.39 L195.40,202.83 L195.90,202.75 L196.40,203.34 L196.90,203.40 L197.40,203.41 L197.90,202.78 L198.40,203.05 L198.90,203.45 L199.40,202.85 L199.90,202.83 L200.40,203.40 L200.90,203.67 L201.40,202.70 L201.90,202.19 L202.40,202.61 L202.90,202.77 L203.40,203.09 L203.90,203.37 L204.40,203.10 L204.90,202.91 L205.40,203.22 L205.90,202.82 L206.40,203.16 L206.90,202.95 L207.40,204.15 L207.90,203.48 L208.40,202.89 L208.90,202.83 L209.40,203.04 L209.90,202.61 L210.40,202.94 L210.90,202.93 L211.40,203.52 L211.90,203.05 L212.40,202.92 L212.90,202.72 L213.40,202.78 L213.90,203.18 L214.40,203.12 L214.90,203.61 L215.40,202.97 L215.90,203.58 L216.40,203.29 L216.90,203.20 L217.40,202.48 L217.90,202.74 L218.40,203.47 L218.90,203.70 L219.40,203.27 L219.90,203.47 L220.40,203.05 L220.90,203.07 L221.40,202.96 L221.90,203.55 L222.40,203.32 L222.90,203.12 L223.40,203.08 L223.90,203.40 L224.40,203.32 L224.90,202.90 L225.40,203.82 L225.90,203.29 L226.40,203.20 L226.90,203.73 L227.40,203.57 L227.90,203.17 L228.40,203.39 L228.90,202.81 L229.40,202.97 L229.90,202.39 L230.40,203.64 L230.90,202.52 L231.40,203.45 L231.90,202.90 L232.40,202.85 L232.90,203.13 L233.40,203.30 L233.90,203.42 L234.40,203.84 L234.90,203.33 L235.40,203.52 L235.90,202.98 L236.40,203.46 L236.90,203.26 L237.40,203.03 L237.90,203.17 L238.40,203.18 L238.90,203.27 L239.40,203.34 L239.90,203.02 L240.40,202.93 L240.90,203.47 L241.40,202.59 L241.90,202.98 L242.40,203.76 L242.90,202.23 L243.40,202.95 L243.90,203.45 L244.40,202.61 L244.90,204.14 L245.40,202.27 L245.90,203.72 L246.40,203.76 L246.90,203.53 L247.40,203.12 L247.90,203.33 L248.40,202.88 L248.90,203.49 L249.40,202.80 L249.90,203.10 L250.40,203.56 L250.90,202.80 L251.40,203.07 L251.90,203.26 L252.40,202.72 L252.90,203.62 L253.40,203.32 L253.90,202.65 L254.40,203.18 L254.90,202.92 L255.40,202.96 L255.90,203.23 L256.40,202.94 L256.90,203.55 L257.40,202.95 L257.90,203.55 L258.40,203.18 L258.90,203.51 L259.40,203.01 L259.90,203.02 L260.40,202.79 L260.90,203.41 L261.40,203.54 L261.90,203.96 L262.40,203.66 L262.90,203.29 L263.40,203.12" fill="none" stroke="#58a6f5" stroke-width="0.75" stroke-linejoin="round"/>
<path d="M19.40,203.34 L19.90,203.19 L20.40,203.73 L20.90,203.54 L21.40,202.90 L21.90,202.95 L22.40,203.69 L22.90,203.31 L23.40,203.12 L23.90,203.63 L24.40,203.06 L24.90,203.10 L25.40,203.03 L25.90,202.49 L26.40,203.51 L26.90,202.76 L27.40,203.00 L27.90,202.93 L28.40,203.46 L28.90,203.18 L29.40,203.21 L29.90,202.60 L30.40,203.17 L30.90,202.67 L31.40,203.31 L31.90,203.33 L32.40,203.19 L32.90,203.94 L33.40,203.39 L33.90,203.41 L34.40,203.25 L34.90,203.13 L35.40,203.55 L35.90,203.60 L36.40,202.73 L36.90,203.58 L37.40,203.38 L37.90,203.55 L38.40,203.37 L38.90,202.75 L39.40,202.78 L39.90,203.86 L40.40,203.29 L40.90,202.69 L41.40,203.32 L41.90,203.07 L42.40,202.53 L42.90,202.37 L43.40,202.62 L43.90,203.29 L44.40,203.18 L44.90,203.10 L45.40,203.29 L45.90,203.40 L46.40,202.43 L46.90,203.07 L47.40,202.88 L47.90,202.73 L48.40,202.98 L48.90,203.13 L49.40,203.07 L49.90,202.64 L50.40,202.99 L50.90,203.88 L51.40,202.77 L51.90,202.54 L52.40,203.24 L52.90,203.35 L53.40,203.30 L53.90,202.72 L54.40,203.47 L54.90,202.82 L55.40,202.68 L55.90,202.85 L56.40,203.01 L56.90,203.29 L57.40,203.24 L57.90,202.99 L58.40,203.32 L58.90,202.99 L59.40,203.26 L59.90,202.40 L60.40,202.31 L60.90,203.12 L61.40,202.30 L61.90,202.66 L62.40,202.69 L62.90,202.50 L63.40,202.47 L63.90,203.08 L64.40,201.61 L64.90,202.78 L65.40,203.21 L65.90,202.31 L66.40,202.20 L66.90,202.37 L67.40,202.67 L67.90,201.48 L68.40,201.84 L68.90,201.63 L69.40,201.78 L69.90,201.51 L70.40,201.56 L70.90,201.04 L71.40,201.07 L71.90,200.66 L72.40,200.51 L72.90,200.54 L73.40,200.39 L73.90,199.85 L74.40,200.66 L74.90,199.87 L75.40,199.23 L75.90,199.93 L76.40,199.07 L76.90,199.32 L77.40,198.93 L77.90,198.83 L78.40,198.60 L78.90,198.14 L79.40,198.16 L79.90,198.68 L80.40,196.94 L80.90,197.55 L81.40,197.47 L81.90,196.70 L82.40,196.34 L82.90,197.35 L83.40,196.15 L83.90,196.72 L84.40,195.83 L84.90,195.31 L85.40,195.09 L85.90,194.78 L86.40,194.60 L86.90,193.95 L87.40,193.46 L87.90,193.07 L88.40,193.08 L88.90,192.47 L89.40,191.38 L89.90,191.08 L90.40,190.98 L90.90,190.18 L91.40,189.79 L91.90,189.09 L92.40,188.84 L92.90,188.59 L93.40,188.29 L93.90,187.42 L94.40,187.65 L94.90,186.36 L95.40,187.01 L95.90,185.68 L96.40,184.94 L96.90,184.02 L97.40,182.61 L97.90,182.98 L98.40,182.50 L98.90,182.51 L99.40,180.69 L99.90,181.22 L100.40,179.80 L100.90,179.52 L101.40,177.71 L101.90,178.05 L102.40,177.26 L102.90,177.01 L103.40,176.18 L103.90,175.12 L104.40,175.25 L104.90,174.56 L105.40,173.94 L105.90,173.54 L106.40,173.03 L106.90,172.11 L107.40,171.14 L107.90,170.67 L108.40,171.21 L108.90,170.56 L109.40,169.96 L109.90,169.44 L110.40,169.29 L110.90,168.99 L111.40,168.59 L111.90,168.23 L112.40,169.09 L112.90,168.24 L113.40,167.80 L113.90,167.42 L114.40,167.53 L114.90,167.98 L115.40,167.97 L115.90,167.65 L116.40,167.84 L116.90,167.84 L117.40,167.72 L117.90,168.76 L118.40,168.61 L118.90,169.54 L119.40,168.56 L119.90,168.98 L120.40,169.57 L120.90,169.40 L121.40,169.22 L121.90,169.60 L122.40,170.19 L122.90,170.46 L123.40,170.49 L123.90,171.06 L124.40,171.22 L124.90,171.15 L125.40,171.22 L125.90,171.28 L126.40,171.73 L126.90,172.02 L127.40,171.87 L127.90,172.20 L128.40,172.13 L128.90,171.99 L129.40,172.44 L129.90,173.40 L130.40,173.62 L130.90,174.38 L131.40,174.20 L131.90,174.88 L132.40,175.45 L132.90,175.74 L133.40,175.56 L133.90,176.12 L134.40,176.64 L134.90,176.65 L135.40,177.60 L135.90,178.21 L136.40,178.08 L136.90,179.37 L137.40,178.96 L137.90,179.39 L138.40,179.76 L138.90,179.98 L139.40,180.77 L139.90,181.01 L140.40,181.97 L140.90,181.97 L141.40,182.32 L141.90,182.41 L142.40,182.36 L142.90,183.20 L143.40,183.30 L143.90,184.32 L144.40,184.34 L144.90,185.32 L145.40,185.36 L145.90,185.77 L146.40,185.92 L146.90,186.28 L147.40,186.81 L147.90,187.27 L148.40,187.04 L148.90,187.83 L149.40,188.94 L149.90,188.32 L150.40,188.60 L150.90,188.78 L151.40,188.85 L151.90,190.13 L152.40,190.06 L152.90,190.48 L153.40,191.36 L153.90,191.92 L154.40,191.02 L154.90,192.03 L155.40,192.18 L155.90,192.40 L156.40,192.73 L156.90,192.83 L157.40,193.69 L157.90,193.62 L158.40,193.80 L158.90,194.39 L159.40,194.53 L159.90,194.63 L160.40,194.84 L160.90,195.61 L161.40,195.41 L161.90,195.44 L162.40,195.40 L162.90,195.82 L163.40,195.80 L163.90,196.44 L164.40,196.72 L164.90,196.11 L165.40,197.06 L165.90,197.50 L166.40,197.53 L166.90,197.32 L167.40,198.32 L167.90,197.80 L168.40,197.79 L168.90,198.02 L169.40,198.58 L169.90,199.12 L170.40,199.35 L170.90,199.18 L171.40,198.84 L171.90,199.19 L172.40,199.26 L172.90,199.67 L173.40,199.24 L173.90,200.05 L174.40,200.38 L174.90,200.22 L175.40,200.56 L175.90,200.18 L176.40,200.11 L176.90,200.51 L177.40,201.26 L177.90,201.32 L178.40,200.89 L178.90,201.59 L179.40,201.14 L179.90,201.90 L180.40,201.63 L180.90,201.39 L181.40,201.93 L181.90,201.45 L182.40,201.47 L182.90,201.36 L183.40,202.04 L183.90,201.99 L184.40,202.04 L184.90,201.98 L185.40,202.70 L185.90,202.09 L186.40,202.03 L186.90,202.79 L187.40,202.90 L187.90,202.55 L188.40,201.85 L188.90,202.30 L189.40,202.77 L189.90,202.59 L190.40,203.18 L190.90,202.16 L191.40,202.93 L191.90,202.49 L192.40,203.22 L192.90,202.75 L193.40,203.18 L193.90,202.60 L194.40,202.35 L194.90,202.48 L195.40,202.69 L195.90,202.56 L196.40,203.38 L196.90,203.45 L197.40,203.08 L197.90,202.62 L198.40,202.97 L198.90,202.77 L199.40,203.56 L199.90,203.16 L200.40,203.23 L200.90,202.92 L201.40,202.35 L201.90,202.81 L202.40,202.70 L202.90,203.24 L203.40,203.15 L203.90,202.84 L204.40,202.99 L204.90,203.70 L205.40,202.80 L205.90,202.82 L206.40,203.08 L206.90,202.92 L207.40,203.02 L207.90,203.37 L208.40,203.81 L208.90,202.55 L209.40,203.19 L209.90,203.21 L210.40,203.17 L210.90,203.13 L211.40,203.08 L211.90,203.56 L212.40,203.03 L212.90,203.15 L213.40,203.20 L213.90,203.24 L214.40,203.14 L214.90,203.56 L215.40,203.20 L215.90,203.26 L216.40,203.18 L216.90,202.84 L217.40,202.90 L217.90,202.82 L218.40,203.27 L218.90,202.94 L219.40,202.82 L219.90,203.29 L220.40,203.39 L220.90,202.57 L221.40,203.81 L221.90,203.21 L222.40,203.16 L222.90,203.58 L223.40,203.23 L223.90,202.98 L224.40,203.99 L224.90,202.81 L225.40,203.16 L225.90,203.50 L226.40,202.81 L226.90,203.16 L227.40,203.34 L227.90,204.06 L228.40,202.88 L228.90,203.18 L229.40,203.44 L229.90,203.23 L230.40,202.77 L230.90,203.35 L231.40,203.24 L231.90,203.36 L232.40,203.61 L232.90,203.56 L233.40,203.35 L233.90,203.31 L234.40,202.80 L234.90,203.15 L235.40,203.28 L235.90,203.06 L236.40,203.24 L236.90,202.90 L237.40,203.75 L237.90,203.97 L238.40,203.06 L238.90,203.34 L239.40,203.12 L239.90,203.65 L240.40,203.36 L240.90,203.23 L241.40,203.12 L241.90,203.25 L242.40,202.84 L242.90,203.44 L243.40,202.94 L243.90,203.39 L244.40,203.25 L244.90,203.59 L245.40,203.19 L245.90,203.57 L246.40,202.87 L246.90,203.42 L247.40,203.12 L247.90,203.27 L248.40,203.23 L248.90,203.54 L249.40,202.47 L249.90,203.32 L250.40,202.66 L250.90,203.63 L251.40,202.49 L251.90,202.84 L252.40,202.60 L252.90,203.79 L253.40,202.74 L253.90,203.24 L254.40,203.01 L254.90,202.55 L255.40,203.08 L255.90,203.44 L256.40,203.13 L256.90,203.54 L257.40,203.07 L257.90,203.20 L258.40,203.06 L258.90,203.32 L259.40,203.88 L259.90,203.33 L260.40,203.27 L260.90,202.98 L261.40,202.93 L261.90,203.73 L262.40,202.80 L262.90,202.87 L263.40,203.16" fill="none" stroke="#3f83f2" stroke-width="0.75" stroke-linejoin="round"/>
<path d="M19.40,203.05 L19.90,203.90 L20.40,202.35 L20.90,203.33 L21.40,203.46 L21.90,202.80 L22.40,202.97 L22.90,203.36 L23.40,203.79 L23.90,202.87 L24.40,202.63 L24.90,203.55 L25.40,203.75 L25.90,203.08 L26.40,202.40 L26.90,203.72 L27.40,203.13 L27.90,203.60 L28.40,203.18 L28.90,203.06 L29.40,203.04 L29.90,203.73 L30.40,203.72 L30.90,202.43 L31.40,202.86 L31.90,203.84 L32.40,203.07 L32.90,202.71 L33.40,203.20 L33.90,203.16 L34.40,203.16 L34.90,203.03 L35.40,203.09 L35.90,203.04 L36.40,203.32 L36.90,202.91 L37.40,203.10 L37.90,203.15 L38.40,203.67 L38.90,203.33 L39.40,203.16 L39.90,203.39 L40.40,203.35 L40.90,203.59 L41.40,203.38 L41.90,203.84 L42.40,203.68 L42.90,203.18 L43.40,203.05 L43.90,203.51 L44.40,203.38 L44.90,203.16 L45.40,202.66 L45.90,202.53 L46.40,203.31 L46.90,203.46 L47.40,203.47 L47.90,202.71 L48.40,203.54 L48.90,202.97 L49.40,203.30 L49.90,203.31 L50.40,202.87 L50.90,202.94 L51.40,202.40 L51.90,202.81 L52.40,202.49 L52.90,203.29 L53.40,203.14 L53.90,203.44 L54.40,203.22 L54.90,202.85 L55.40,203.19 L55.90,202.91 L56.40,203.25 L56.90,203.12 L57.40,202.63 L57.90,202.97 L58.40,202.96 L58.90,202.81 L59.40,203.21 L59.90,203.47 L60.40,202.69 L60.90,202.65 L61.40,201.93 L61.90,202.64 L62.40,202.49 L62.90,201.81 L63.40,202.64 L63.90,202.69 L64.40,202.14 L64.90,202.20 L65.40,201.89 L65.90,202.42 L66.40,201.49 L66.90,201.81 L67.40,202.51 L67.90,201.71 L68.40,201.73 L68.90,201.39 L69.40,200.88 L69.90,201.15 L70.40,201.15 L70.90,200.48 L71.40,200.80 L71.90,200.95 L72.40,200.71 L72.90,199.58 L73.40,199.61 L73.90,199.19 L74.40,199.95 L74.90,199.57 L75.40,199.39 L75.90,198.59 L76.40,198.26 L76.90,198.47 L77.40,198.25 L77.90,197.67 L78.40,197.79 L78.90,197.74 L79.40,197.36 L79.90,196.67 L80.40,196.04 L80.90,196.46 L81.40,196.36 L81.90,195.93 L82.40,195.59 L82.90,195.18 L83.40,195.35 L83.90,194.71 L84.40,194.38 L84.90,193.57 L85.40,193.27 L85.90,193.12 L86.40,192.26 L86.90,191.72 L87.40,191.60 L87.90,191.69 L88.40,190.84 L88.90,190.81 L89.40,189.73 L89.90,189.15 L90.40,188.24 L90.90,187.99 L91.40,188.16 L91.90,187.19 L92.40,186.75 L92.90,186.15 L93.40,185.30 L93.90,184.63 L94.40,184.15 L94.90,183.74 L95.40,183.04 L95.90,182.42 L96.40,181.65 L96.90,180.66 L97.40,180.16 L97.90,179.23 L98.40,179.23 L98.90,177.39 L99.40,177.32 L99.90,177.50 L100.40,175.76 L100.90,174.73 L101.40,174.40 L101.90,174.14 L102.40,172.89 L102.90,172.45 L103.40,171.54 L103.90,170.64 L104.40,171.19 L104.90,169.37 L105.40,168.47 L105.90,167.84 L106.40,167.52 L106.90,166.92 L107.40,166.48 L107.90,165.72 L108.40,164.63 L108.90,164.85 L109.40,164.10 L109.90,163.72 L110.40,162.92 L110.90,162.89 L111.40,162.52 L111.90,162.51 L112.40,161.79 L112.90,162.16 L113.40,162.02 L113.90,161.42 L114.40,161.48 L114.90,161.32 L115.40,161.93 L115.90,160.73 L116.40,161.62 L116.90,161.30 L117.40,161.93 L117.90,162.60 L118.40,162.28 L118.90,162.76 L119.40,162.62 L119.90,163.86 L120.40,163.75 L120.90,164.10 L121.40,163.49 L121.90,163.83 L122.40,164.86 L122.90,164.63 L123.40,164.81 L123.90,165.23 L124.40,164.86 L124.90,165.79 L125.40,165.71 L125.90,166.08 L126.40,165.85 L126.90,166.46 L127.40,166.21 L127.90,167.02 L128.40,167.33 L128.90,167.56 L129.40,167.76 L129.90,168.18 L130.40,167.38 L130.90,169.06 L131.40,169.09 L131.90,169.68 L132.40,170.02 L132.90,170.10 L133.40,170.87 L133.90,171.78 L134.40,172.53 L134.90,172.28 L135.40,172.67 L135.90,174.00 L136.40,173.65 L136.90,175.19 L137.40,174.94 L137.90,175.06 L138.40,176.19 L138.90,176.90 L139.40,176.22 L139.90,177.74 L140.40,177.52 L140.90,178.60 L141.40,178.36 L141.90,178.37 L142.40,179.55 L142.90,180.14 L143.40,180.99 L143.90,181.29 L144.40,181.36 L144.90,181.46 L145.40,181.79 L145.90,182.31 L146.40,182.55 L146.90,183.19 L147.40,182.80 L147.90,184.20 L148.40,184.55 L148.90,185.90 L149.40,185.66 L149.90,185.62 L150.40,186.40 L150.90,186.15 L151.40,186.77 L151.90,186.71 L152.40,188.29 L152.90,188.38 L153.40,188.13 L153.90,188.91 L154.40,189.64 L154.90,189.85 L155.40,190.17 L155.90,190.07 L156.40,190.49 L156.90,191.09 L157.40,191.72 L157.90,191.41 L158.40,191.63 L158.90,192.76 L159.40,192.32 L159.90,193.35 L160.40,193.35 L160.90,193.88 L161.40,194.48 L161.90,194.39 L162.40,194.70 L162.90,194.37 L163.40,194.72 L163.90,195.47 L164.40,196.05 L164.90,196.25 L165.40,196.83 L165.90,196.35 L166.40,196.55 L166.90,197.07 L167.40,196.95 L167.90,197.14 L168.40,197.00 L168.90,197.94 L169.40,197.41 L169.90,198.18 L170.40,197.69 L170.90,198.79 L171.40,198.22 L171.90,199.08 L172.40,198.39 L172.90,198.98 L173.40,199.73 L173.90,199.18 L174.40,199.64 L174.90,199.60 L175.40,199.08 L175.90,200.16 L176.40,200.34 L176.90,199.92 L177.40,200.65 L177.90,200.28 L178.40,200.33 L178.90,200.81 L179.40,200.68 L179.90,201.87 L180.40,200.60 L180.90,201.53 L181.40,201.73 L181.90,200.76 L182.40,200.94 L182.90,201.86 L183.40,201.56 L183.90,201.95 L184.40,202.29 L184.90,201.81 L185.40,201.63 L185.90,201.09 L186.40,202.21 L186.90,201.86 L187.40,202.36 L187.90,202.38 L188.40,201.85 L188.90,203.02 L189.40,202.83 L189.90,202.79 L190.40,202.09 L190.90,202.41 L191.40,202.40 L191.90,202.48 L192.40,202.26 L192.90,202.86 L193.40,202.82 L193.90,202.90 L194.40,202.62 L194.90,203.29 L195.40,202.92 L195.90,201.89 L196.40,202.67 L196.90,202.90 L197.40,203.29 L197.90,202.85 L198.40,202.89 L198.90,202.75 L199.40,203.24 L199.90,202.86 L200.40,202.81 L200.90,202.78 L201.40,203.26 L201.90,202.88 L202.40,202.48 L202.90,203.31 L203.40,202.85 L203.90,203.24 L204.40,203.26 L204.90,203.56 L205.40,203.51 L205.90,202.94 L206.40,203.10 L206.90,202.70 L207.40,203.77 L207.90,203.34 L208.40,203.68 L208.90,203.07 L209.40,202.46 L209.90,203.75 L210.40,203.23 L210.90,203.25 L211.40,203.22 L211.90,203.43 L212.40,203.39 L212.90,202.63 L213.40,203.59 L213.90,203.01 L214.40,203.03 L214.90,203.82 L215.40,203.53 L215.90,203.08 L216.40,202.53 L216.90,203.26 L217.40,203.39 L217.90,203.17 L218.40,202.75 L218.90,202.92 L219.40,202.75 L219.90,203.28 L220.40,203.49 L220.90,203.57 L221.40,202.94 L221.90,203.28 L222.40,203.40 L222.90,203.02 L223.40,203.15 L223.90,203.96 L224.40,203.27 L224.90,203.52 L225.40,203.04 L225.90,203.22 L226.40,202.58 L226.90,203.19 L227.40,203.63 L227.90,203.96 L228.40,203.63 L228.90,203.45 L229.40,203.22 L229.90,202.98 L230.40,203.14 L230.90,203.42 L231.40,202.92 L231.90,203.54 L232.40,202.85 L232.90,202.56 L233.40,202.84 L233.90,202.60 L234.40,202.71 L234.90,203.61 L235.40,203.13 L235.90,203.28 L236.40,203.62 L236.90,203.65 L237.40,203.02 L237.90,203.68 L238.40,203.34 L238.90,203.20 L239.40,203.36 L239.90,202.69 L240.40,202.92 L240.90,203.16 L241.40,203.42 L241.90,203.07 L242.40,203.15 L242.90,203.55 L243.40,203.71 L243.90,203.48 L244.40,203.66 L244.90,203.05 L245.40,203.09 L245.90,203.31 L246.40,203.09 L246.90,203.02 L247.40,203.79 L247.90,203.13 L248.40,202.85 L248.90,203.38 L249.40,203.86 L249.90,203.23 L250.40,203.64 L250.90,203.04 L251.40,203.02 L251.90,202.95 L252.40,203.15 L252.90,203.86 L253.40,202.78 L253.90,203.79 L254.40,202.84 L254.90,203.12 L255.40,203.50 L255.90,203.43 L256.40,203.30 L256.90,202.61 L257.40,203.33 L257.90,202.83 L258.40,204.12 L258.90,203.12 L259.40,203.27 L259.90,202.79 L260.40,203.03 L260.90,202.74 L261.40,203.55 L261.90,203.11 L262.40,203.40 L262.90,202.95 L263.40,203.02" fill="none" stroke="#2f6fee" stroke-width="0.75" stroke-linejoin="round"/>
<path d="M19.40,203.91 L19.90,202.67 L20.40,202.21 L20.90,203.42 L21.40,202.57 L21.90,202.96 L22.40,203.70 L22.90,202.75 L23.40,203.68 L23.90,202.83 L24.40,204.02 L24.90,203.93 L25.40,202.94 L25.90,203.08 L26.40,202.74 L26.90,203.31 L27.40,203.83 L27.90,202.40 L28.40,203.70 L28.90,202.47 L29.40,202.73 L29.90,202.22 L30.40,204.36 L30.90,203.23 L31.40,203.33 L31.90,202.83 L32.40,203.79 L32.90,202.04 L33.40,203.21 L33.90,204.41 L34.40,202.99 L34.90,203.21 L35.40,203.57 L35.90,202.75 L36.40,203.21 L36.90,203.73 L37.40,203.31 L37.90,203.40 L38.40,203.01 L38.90,203.37 L39.40,203.23 L39.90,204.00 L40.40,203.60 L40.90,203.07 L41.40,201.85 L41.90,203.59 L42.40,203.61 L42.90,202.69 L43.40,202.09 L43.90,202.56 L44.40,203.69 L44.90,202.60 L45.40,202.93 L45.90,203.30 L46.40,203.84 L46.90,203.16 L47.40,203.10 L47.90,202.85 L48.40,204.05 L48.90,203.73 L49.40,203.08 L49.90,202.36 L50.40,202.69 L50.90,203.44 L51.40,202.71 L51.90,203.59 L52.40,203.29 L52.90,203.24 L53.40,203.42 L53.90,203.32 L54.40,202.55 L54.90,202.82 L55.40,204.26 L55.90,202.28 L56.40,202.65 L56.90,203.46 L57.40,202.76 L57.90,202.36 L58.40,202.04 L58.90,203.02 L59.40,203.24 L59.90,203.39 L60.40,202.59 L60.90,203.07 L61.40,201.85 L61.90,202.43 L62.40,201.89 L62.90,202.27 L63.40,202.49 L63.90,202.57 L64.40,201.32 L64.90,202.43 L65.40,201.32 L65.90,200.85 L66.40,201.14 L66.90,200.24 L67.40,200.85 L67.90,200.81 L68.40,200.33 L68.90,200.52 L69.40,199.82 L69.90,199.76 L70.40,198.70 L70.90,199.25 L71.40,198.48 L71.90,198.41 L72.40,198.30 L72.90,198.15 L73.40,196.83 L73.90,196.55 L74.40,196.90 L74.90,196.97 L75.40,196.54 L75.90,196.45 L76.40,196.28 L76.90,195.45 L77.40,194.77 L77.90,193.81 L78.40,193.46 L78.90,193.34 L79.40,193.35 L79.90,192.93 L80.40,192.41 L80.90,191.91 L81.40,191.90 L81.90,191.21 L82.40,190.78 L82.90,190.26 L83.40,189.22 L83.90,188.34 L84.40,188.51 L84.90,187.77 L85.40,186.70 L85.90,185.86 L86.40,186.60 L86.90,184.18 L87.40,183.71 L87.90,183.19 L88.40,181.59 L88.90,181.46 L89.40,181.54 L89.90,180.20 L90.40,179.15 L90.90,178.22 L91.40,177.01 L91.90,176.51 L92.40,174.91 L92.90,173.77 L93.40,173.06 L93.90,172.49 L94.40,171.16 L94.90,170.32 L95.40,167.79 L95.90,168.49 L96.40,168.03 L96.90,166.36 L97.40,164.31 L97.90,162.86 L98.40,162.29 L98.90,160.38 L99.40,160.06 L99.90,158.10 L100.40,157.64 L100.90,156.60 L101.40,153.49 L101.90,153.54 L102.40,151.76 L102.90,150.15 L103.40,149.37 L103.90,148.37 L104.40,147.83 L104.90,145.23 L105.40,145.50 L105.90,144.94 L106.40,143.09 L106.90,142.03 L107.40,140.76 L107.90,139.21 L108.40,139.28 L108.90,138.37 L109.40,137.81 L109.90,138.16 L110.40,136.52 L110.90,135.77 L111.40,135.86 L111.90,133.81 L112.40,133.57 L112.90,133.70 L113.40,133.27 L113.90,133.76 L114.40,133.01 L114.90,134.01 L115.40,133.84 L115.90,133.49 L116.40,133.03 L116.90,133.84 L117.40,134.27 L117.90,133.59 L118.40,134.72 L118.90,135.25 L119.40,135.35 L119.90,136.50 L120.40,136.74 L120.90,136.08 L121.40,137.06 L121.90,136.97 L122.40,138.16 L122.90,137.75 L123.40,139.09 L123.90,139.14 L124.40,139.79 L124.90,139.51 L125.40,139.13 L125.90,141.23 L126.40,140.48 L126.90,141.64 L127.40,141.45 L127.90,141.94 L128.40,143.00 L128.90,142.68 L129.40,143.85 L129.90,142.91 L130.40,144.87 L130.90,144.94 L131.40,145.74 L131.90,146.59 L132.40,147.57 L132.90,149.09 L133.40,147.96 L133.90,149.80 L134.40,150.20 L134.90,152.05 L135.40,152.00 L135.90,153.30 L136.40,153.65 L136.90,155.04 L137.40,156.03 L137.90,156.04 L138.40,157.05 L138.90,157.01 L139.40,158.71 L139.90,159.77 L140.40,159.74 L140.90,161.40 L141.40,160.38 L141.90,161.24 L142.40,162.23 L142.90,163.45 L143.40,164.46 L143.90,165.14 L144.40,165.89 L144.90,167.06 L145.40,167.14 L145.90,167.44 L146.40,168.18 L146.90,170.75 L147.40,169.02 L147.90,170.94 L148.40,172.55 L148.90,172.72 L149.40,172.69 L149.90,173.83 L150.40,174.98 L150.90,175.84 L151.40,175.35 L151.90,176.93 L152.40,177.31 L152.90,178.44 L153.40,179.24 L153.90,178.93 L154.40,178.95 L154.90,180.58 L155.40,181.95 L155.90,181.94 L156.40,182.27 L156.90,184.03 L157.40,182.70 L157.90,184.31 L158.40,184.04 L158.90,184.92 L159.40,185.46 L159.90,186.76 L160.40,185.92 L160.90,186.64 L161.40,186.55 L161.90,188.18 L162.40,188.14 L162.90,189.09 L163.40,188.72 L163.90,189.56 L164.40,190.77 L164.90,190.53 L165.40,191.39 L165.90,191.75 L166.40,191.67 L166.90,191.39 L167.40,193.18 L167.90,193.10 L168.40,193.91 L168.90,192.62 L169.40,193.17 L169.90,193.25 L170.40,194.28 L170.90,195.67 L171.40,195.73 L171.90,195.72 L172.40,196.12 L172.90,196.76 L173.40,196.46 L173.90,197.12 L174.40,197.24 L174.90,196.21 L175.40,197.44 L175.90,198.64 L176.40,197.90 L176.90,198.26 L177.40,198.22 L177.90,198.49 L178.40,199.58 L178.90,199.01 L179.40,198.80 L179.90,197.84 L180.40,199.43 L180.90,198.85 L181.40,199.11 L181.90,200.72 L182.40,200.84 L182.90,199.54 L183.40,201.19 L183.90,201.10 L184.40,200.54 L184.90,201.49 L185.40,200.30 L185.90,200.64 L186.40,200.61 L186.90,200.89 L187.40,202.08 L187.90,200.95 L188.40,201.13 L188.90,201.32 L189.40,202.02 L189.90,201.80 L190.40,202.53 L190.90,201.73 L191.40,201.47 L191.90,201.97 L192.40,202.32 L192.90,201.85 L193.40,202.57 L193.90,203.47 L194.40,202.20 L194.90,202.59 L195.40,203.35 L195.90,202.30 L196.40,202.23 L196.90,202.13 L197.40,202.98 L197.90,203.07 L198.40,202.73 L198.90,202.86 L199.40,203.56 L199.90,203.36 L200.40,202.13 L200.90,202.92 L201.40,203.00 L201.90,203.36 L202.40,202.86 L202.90,202.65 L203.40,202.77 L203.90,202.06 L204.40,203.04 L204.90,202.74 L205.40,203.34 L205.90,202.53 L206.40,202.87 L206.90,202.58 L207.40,202.55 L207.90,203.53 L208.40,202.90 L208.90,203.41 L209.40,202.56 L209.90,203.23 L210.40,202.25 L210.90,202.92 L211.40,202.90 L211.90,203.50 L212.40,203.28 L212.90,203.08 L213.40,203.64 L213.90,203.28 L214.40,203.47 L214.90,203.60 L215.40,203.14 L215.90,203.02 L216.40,203.36 L216.90,202.95 L217.40,203.39 L217.90,203.78 L218.40,203.65 L218.90,202.97 L219.40,202.47 L219.90,203.14 L220.40,203.11 L220.90,203.78 L221.40,202.96 L221.90,203.06 L222.40,203.58 L222.90,202.91 L223.40,203.09 L223.90,204.12 L224.40,203.99 L224.90,203.52 L225.40,203.32 L225.90,202.64 L226.40,203.48 L226.90,203.21 L227.40,203.30 L227.90,202.89 L228.40,203.17 L228.90,203.07 L229.40,203.35 L229.90,203.96 L230.40,203.37 L230.90,202.26 L231.40,202.64 L231.90,202.30 L232.40,202.74 L232.90,203.48 L233.40,203.39 L233.90,202.84 L234.40,203.32 L234.90,202.76 L235.40,202.39 L235.90,202.40 L236.40,202.70 L236.90,203.95 L237.40,202.44 L237.90,203.86 L238.40,203.90 L238.90,203.07 L239.40,203.15 L239.90,202.84 L240.40,203.16 L240.90,203.53 L241.40,203.18 L241.90,203.72 L242.40,203.82 L242.90,203.36 L243.40,203.35 L243.90,203.14 L244.40,203.36 L244.90,202.56 L245.40,203.39 L245.90,203.28 L246.40,202.70 L246.90,204.35 L247.40,202.64 L247.90,202.69 L248.40,203.32 L248.90,202.11 L249.40,202.74 L249.90,202.33 L250.40,202.64 L250.90,203.10 L251.40,203.35 L251.90,203.78 L252.40,203.61 L252.90,203.82 L253.40,203.49 L253.90,202.91 L254.40,203.78 L254.90,202.90 L255.40,202.83 L255.90,204.01 L256.40,203.60 L256.90,203.29 L257.40,203.58 L257.90,203.65 L258.40,202.42 L258.90,203.12 L259.40,202.52 L259.90,203.24 L260.40,202.80 L260.90,203.92 L261.40,203.45 L261.90,202.72 L262.40,203.16 L262.90,202.50 L263.40,203.19" fill="none" stroke="#111" stroke-width="0.9" stroke-linejoin="round"/>
<rect x="19.4" y="7.5" width="244.1" height="197.1" fill="none" stroke="#a8a8a8" stroke-width="0.8"/>
<line x1="19.4" y1="109.5" x2="263.5" y2="109.5" stroke="#807c7c" stroke-width="0.9"/>
<line x1="19.4" y1="204.6" x2="263.5" y2="204.6" stroke="#807c7c" stroke-width="0.9"/>
<line x1="19.4" y1="204.6" x2="19.4" y2="208.2" stroke="#7a7676" stroke-width="0.8"/>
<text x="19.4" y="225.3" font-size="11.3" text-anchor="middle" fill="#000" stroke="#000" stroke-width="0.22" >300</text>
<line x1="49.9" y1="204.6" x2="49.9" y2="206.8" stroke="#7a7676" stroke-width="0.8"/>
<line x1="80.4" y1="204.6" x2="80.4" y2="208.2" stroke="#7a7676" stroke-width="0.8"/>
<text x="80.4" y="225.3" font-size="11.3" text-anchor="middle" fill="#000" stroke="#000" stroke-width="0.22" >400</text>
<line x1="110.9" y1="204.6" x2="110.9" y2="206.8" stroke="#7a7676" stroke-width="0.8"/>
<line x1="141.4" y1="204.6" x2="141.4" y2="208.2" stroke="#7a7676" stroke-width="0.8"/>
<text x="141.4" y="225.3" font-size="11.3" text-anchor="middle" fill="#000" stroke="#000" stroke-width="0.22" >500</text>
<line x1="172.0" y1="204.6" x2="172.0" y2="206.8" stroke="#7a7676" stroke-width="0.8"/>
<line x1="202.5" y1="204.6" x2="202.5" y2="208.2" stroke="#7a7676" stroke-width="0.8"/>
<text x="202.5" y="225.3" font-size="11.3" text-anchor="middle" fill="#000" stroke="#000" stroke-width="0.22" >600</text>
<line x1="233.0" y1="204.6" x2="233.0" y2="206.8" stroke="#7a7676" stroke-width="0.8"/>
<line x1="263.5" y1="204.6" x2="263.5" y2="208.2" stroke="#7a7676" stroke-width="0.8"/>
<text x="263.5" y="225.3" font-size="11.3" text-anchor="middle" fill="#000" stroke="#000" stroke-width="0.22" >700</text>
<text x="141.2" y="243.2" font-size="11.45" text-anchor="middle" fill="#000" stroke="#000" stroke-width="0.22" >Wavelength (nm)</text>
<text transform="translate(8.9,106.4) rotate(-90)" font-size="11.45" text-anchor="middle" fill="#000" stroke="#000" stroke-width="0.22" >Intensity</text>
<text x="23.8" y="19.6" font-size="10.0" text-anchor="start" fill="#000" stroke="#000" stroke-width="0.22" >X-ray on</text>
<text x="24.4" y="125.8" font-size="10.0" text-anchor="start" fill="#000" stroke="#000" stroke-width="0.22" >X-ray off</text>
<text x="89.5" y="30.3" font-size="10.0" text-anchor="start" fill="#2b50e8" stroke="#2b50e8" stroke-width="0.22" >Sb-STE<tspan dy="2.2" font-size="6.5">1</tspan></text>
<text x="40.5" y="58.6" font-size="10.0" text-anchor="start" fill="#fa24dc" stroke="#fa24dc" stroke-width="0.22" >Sc-STE<tspan dy="2.2" font-size="6.5">3</tspan></text>
<text x="195.2" y="138.9" font-size="10.0" text-anchor="middle" fill="#000" stroke="#000" stroke-width="0.22" >5 min</text>
<text x="195.4" y="184.0" font-size="10.0" text-anchor="middle" fill="#000" stroke="#000" stroke-width="0.22" >60 min</text>
<line x1="195.2" y1="146.7" x2="195.2" y2="166" stroke="#000" stroke-width="0.9"/>
<path d="M192.7,164.5 L195.2,170.2 L197.7,164.5 Z" fill="#000"/>
<rect x="145.8" y="13.1" width="112.2" height="54.8" fill="#000"/>
<rect x="148" y="17" width="52" height="36" fill="#020109"/>
<rect x="203" y="17" width="53" height="36" fill="#01030a"/>
<polygon points="153.6,37.2 162.8,32.8 169.4,25.2 180.4,23.6 187.4,23.0 190.2,27.4 189.1,35.0 192.0,39.4 188.0,44.9 180.4,48.6 171.6,47.1 165.0,41.6 156.3,39.9" fill="#2a1aa0" filter="url(#blur2)" opacity="0.5"/>
<g filter="url(#blur08)" opacity="1.00"><circle cx="180.2" cy="39.4" r="1.9" fill="#4a30dc"/><circle cx="178.7" cy="44.8" r="2.0" fill="#5034e6"/><circle cx="171.7" cy="33.6" r="2.1" fill="#5a3cf0"/><circle cx="171.1" cy="30.7" r="2.1" fill="#5034e6"/><circle cx="174.3" cy="40.5" r="2.3" fill="#5034e6"/><circle cx="174.4" cy="44.8" r="2.6" fill="#4a30dc"/><circle cx="163.3" cy="39.0" r="2.4" fill="#5034e6"/><circle cx="189.7" cy="39.2" r="2.5" fill="#5444f0"/><circle cx="172.7" cy="29.0" r="1.9" fill="#4a30dc"/><circle cx="182.2" cy="34.5" r="2.3" fill="#5a3cf0"/><circle cx="171.8" cy="44.2" r="2.4" fill="#5034e6"/><circle cx="171.1" cy="31.5" r="2.1" fill="#5444f0"/><circle cx="183.6" cy="27.3" r="2.3" fill="#4a30dc"/><circle cx="189.5" cy="37.8" r="2.2" fill="#5a3cf0"/><circle cx="184.5" cy="35.9" r="1.9" fill="#5a3cf0"/><circle cx="181.2" cy="34.9" r="2.0" fill="#5034e6"/><circle cx="183.7" cy="31.1" r="2.4" fill="#5a3cf0"/><circle cx="164.8" cy="34.1" r="2.4" fill="#4a30dc"/><circle cx="179.4" cy="35.4" r="2.3" fill="#5444f0"/><circle cx="182.4" cy="25.5" r="2.0" fill="#5034e6"/><circle cx="186.1" cy="42.9" r="2.4" fill="#5034e6"/><circle cx="165.2" cy="37.8" r="2.5" fill="#4a30dc"/><circle cx="170.6" cy="29.4" r="2.3" fill="#5444f0"/><circle cx="172.2" cy="37.4" r="2.0" fill="#5444f0"/><circle cx="182.5" cy="26.7" r="2.3" fill="#5444f0"/><circle cx="179.5" cy="35.9" r="2.5" fill="#5034e6"/><circle cx="175.4" cy="46.2" r="2.2" fill="#5034e6"/><circle cx="185.2" cy="44.2" r="1.9" fill="#5034e6"/><circle cx="172.1" cy="27.9" r="2.0" fill="#4a30dc"/><circle cx="159.8" cy="35.3" r="2.4" fill="#4a30dc"/><circle cx="182.6" cy="42.2" r="2.4" fill="#5a3cf0"/><circle cx="177.8" cy="39.0" r="2.5" fill="#5444f0"/><circle cx="182.8" cy="31.9" r="2.0" fill="#5444f0"/><circle cx="181.8" cy="33.7" r="2.3" fill="#5034e6"/><circle cx="178.3" cy="40.1" r="2.2" fill="#5034e6"/><circle cx="183.8" cy="32.4" r="2.3" fill="#5a3cf0"/><circle cx="172.5" cy="26.9" r="2.4" fill="#5034e6"/><circle cx="164.2" cy="37.2" r="2.2" fill="#5444f0"/><circle cx="178.1" cy="30.2" r="2.3" fill="#5034e6"/><circle cx="168.3" cy="40.9" r="2.0" fill="#5a3cf0"/><circle cx="168.5" cy="31.7" r="2.6" fill="#5034e6"/><circle cx="184.5" cy="28.4" r="2.3" fill="#5444f0"/><circle cx="186.5" cy="42.1" r="1.8" fill="#5a3cf0"/><circle cx="167.2" cy="37.1" r="2.5" fill="#4a30dc"/><circle cx="178.0" cy="28.7" r="2.2" fill="#5a3cf0"/><circle cx="185.5" cy="35.0" r="2.1" fill="#4a30dc"/><circle cx="181.9" cy="25.6" r="2.4" fill="#5a3cf0"/><circle cx="180.3" cy="25.2" r="2.0" fill="#5a3cf0"/><circle cx="156.9" cy="37.8" r="2.6" fill="#5a3cf0"/><circle cx="175.9" cy="34.2" r="1.9" fill="#5444f0"/><circle cx="176.4" cy="30.2" r="2.0" fill="#5a3cf0"/><circle cx="163.3" cy="34.8" r="2.0" fill="#4a30dc"/><circle cx="182.2" cy="45.1" r="2.4" fill="#4a30dc"/><circle cx="187.6" cy="38.1" r="2.4" fill="#5444f0"/><circle cx="159.1" cy="37.2" r="2.6" fill="#4a30dc"/><circle cx="180.7" cy="27.4" r="2.6" fill="#4a30dc"/><circle cx="171.5" cy="40.1" r="2.2" fill="#4a30dc"/><circle cx="184.6" cy="37.2" r="2.3" fill="#5034e6"/><circle cx="181.1" cy="30.8" r="2.4" fill="#5a3cf0"/><circle cx="180.3" cy="40.2" r="2.2" fill="#4a30dc"/></g>
<g filter="url(#blur05)" opacity="1.00"><circle cx="184.4" cy="37.9" r="1.3" fill="#8662ff"/><circle cx="172.0" cy="27.1" r="1.7" fill="#6a48f4"/><circle cx="173.4" cy="34.0" r="1.6" fill="#8662ff"/><circle cx="178.5" cy="40.8" r="1.4" fill="#6658ff"/><circle cx="187.8" cy="38.0" r="1.5" fill="#8662ff"/><circle cx="161.6" cy="39.1" r="1.4" fill="#6658ff"/><circle cx="182.1" cy="41.5" r="1.4" fill="#6a48f4"/><circle cx="178.9" cy="40.5" r="1.8" fill="#6658ff"/><circle cx="170.1" cy="42.4" r="1.8" fill="#6a48f4"/><circle cx="186.2" cy="33.1" r="1.5" fill="#7450fa"/><circle cx="164.2" cy="37.4" r="1.5" fill="#7450fa"/><circle cx="182.3" cy="42.3" r="1.6" fill="#9476ff"/><circle cx="186.3" cy="27.3" r="1.9" fill="#7c5cff"/><circle cx="183.8" cy="43.2" r="1.2" fill="#9476ff"/><circle cx="186.6" cy="26.2" r="1.4" fill="#6a48f4"/><circle cx="180.8" cy="28.5" r="1.6" fill="#6a48f4"/><circle cx="179.7" cy="32.4" r="1.6" fill="#7450fa"/><circle cx="179.3" cy="36.4" r="1.6" fill="#6658ff"/><circle cx="161.2" cy="35.7" r="1.3" fill="#7c5cff"/><circle cx="174.2" cy="42.8" r="1.5" fill="#6a48f4"/><circle cx="168.5" cy="32.7" r="1.8" fill="#7450fa"/><circle cx="167.0" cy="31.9" r="1.5" fill="#6a48f4"/><circle cx="157.2" cy="37.0" r="1.8" fill="#7c5cff"/><circle cx="185.9" cy="42.0" r="1.8" fill="#9476ff"/><circle cx="185.1" cy="29.5" r="1.5" fill="#7c5cff"/><circle cx="163.7" cy="37.6" r="1.4" fill="#6a48f4"/><circle cx="177.4" cy="37.9" r="1.3" fill="#9476ff"/><circle cx="168.6" cy="41.1" r="1.3" fill="#6a48f4"/><circle cx="160.1" cy="36.1" r="1.5" fill="#7c5cff"/><circle cx="179.3" cy="45.6" r="1.9" fill="#9476ff"/><circle cx="159.1" cy="36.8" r="1.8" fill="#8662ff"/><circle cx="176.2" cy="27.5" r="1.7" fill="#7450fa"/><circle cx="169.2" cy="29.8" r="1.7" fill="#9476ff"/><circle cx="172.6" cy="43.1" r="1.6" fill="#8662ff"/><circle cx="187.1" cy="37.5" r="1.9" fill="#6a48f4"/><circle cx="179.9" cy="37.4" r="1.7" fill="#7450fa"/><circle cx="187.3" cy="40.5" r="1.6" fill="#8662ff"/><circle cx="179.2" cy="31.3" r="1.7" fill="#9476ff"/><circle cx="177.2" cy="43.1" r="1.5" fill="#7450fa"/><circle cx="174.2" cy="45.0" r="1.6" fill="#7450fa"/><circle cx="178.3" cy="33.0" r="1.4" fill="#8662ff"/><circle cx="178.9" cy="27.1" r="1.5" fill="#6658ff"/><circle cx="178.9" cy="41.5" r="1.2" fill="#6658ff"/><circle cx="170.3" cy="34.2" r="1.6" fill="#6658ff"/><circle cx="161.7" cy="36.9" r="1.3" fill="#7450fa"/><circle cx="158.8" cy="39.0" r="1.8" fill="#9476ff"/><circle cx="181.0" cy="41.9" r="1.5" fill="#7450fa"/><circle cx="179.3" cy="32.0" r="1.7" fill="#9476ff"/><circle cx="175.8" cy="40.9" r="1.6" fill="#9476ff"/><circle cx="176.6" cy="35.4" r="1.8" fill="#6a48f4"/><circle cx="171.4" cy="43.7" r="1.8" fill="#8662ff"/><circle cx="172.8" cy="38.6" r="1.6" fill="#7c5cff"/><circle cx="160.9" cy="35.8" r="1.8" fill="#7450fa"/><circle cx="168.3" cy="36.1" r="1.8" fill="#7c5cff"/><circle cx="172.5" cy="39.8" r="1.7" fill="#6a48f4"/></g>
<circle cx="188.0" cy="25.6" r="2.1" fill="#7d54f8" filter="url(#blur05)"/>
<circle cx="155.5" cy="38.0" r="1.9" fill="#6a44f0" filter="url(#blur05)"/>
<circle cx="191.0" cy="39.0" r="1.6" fill="#6a44f0" filter="url(#blur05)"/>
<ellipse cx="172" cy="49.5" rx="15" ry="1.6" fill="#1a0f70" filter="url(#blur1)" opacity="0.5"/>
<polygon points="211.5,27.5 219.0,22.5 231.0,21.0 242.0,24.5 246.0,29.5 243.5,37.5 237.0,44.5 229.0,48.8 221.5,46.0 215.5,39.0" fill="#0c50d0" filter="url(#blur2)" opacity="0.6"/>
<g filter="url(#blur08)" opacity="1.00"><circle cx="219.0" cy="31.2" r="2.0" fill="#3ea6fc"/><circle cx="215.7" cy="27.3" r="2.6" fill="#48b4ff"/><circle cx="243.1" cy="30.8" r="2.6" fill="#58c4ff"/><circle cx="230.2" cy="37.6" r="2.6" fill="#48b4ff"/><circle cx="221.1" cy="32.5" r="2.3" fill="#3ea6fc"/><circle cx="234.8" cy="36.5" r="2.4" fill="#48b4ff"/><circle cx="233.1" cy="37.8" r="2.1" fill="#48b4ff"/><circle cx="225.4" cy="26.2" r="2.6" fill="#58c4ff"/><circle cx="234.8" cy="42.3" r="2.0" fill="#48b4ff"/><circle cx="219.9" cy="36.1" r="2.1" fill="#48b4ff"/><circle cx="233.3" cy="42.2" r="2.5" fill="#48b4ff"/><circle cx="241.2" cy="29.2" r="2.1" fill="#58c4ff"/><circle cx="230.5" cy="24.4" r="2.1" fill="#58c4ff"/><circle cx="227.9" cy="27.2" r="2.6" fill="#64ccff"/><circle cx="225.7" cy="30.2" r="2.7" fill="#48b4ff"/><circle cx="232.7" cy="26.7" r="2.5" fill="#48b4ff"/><circle cx="226.3" cy="25.5" r="2.8" fill="#58c4ff"/><circle cx="238.1" cy="34.7" r="2.3" fill="#3ea6fc"/><circle cx="237.1" cy="27.8" r="2.1" fill="#58c4ff"/><circle cx="236.3" cy="34.8" r="2.1" fill="#58c4ff"/><circle cx="232.8" cy="33.4" r="2.2" fill="#48b4ff"/><circle cx="238.4" cy="28.9" r="2.1" fill="#58c4ff"/><circle cx="230.6" cy="33.2" r="2.7" fill="#64ccff"/><circle cx="218.8" cy="35.2" r="2.3" fill="#48b4ff"/><circle cx="229.9" cy="45.7" r="2.5" fill="#3ea6fc"/><circle cx="238.4" cy="30.7" r="2.4" fill="#58c4ff"/><circle cx="239.4" cy="35.4" r="2.7" fill="#64ccff"/><circle cx="233.0" cy="24.2" r="2.4" fill="#64ccff"/><circle cx="220.8" cy="28.3" r="2.2" fill="#3ea6fc"/><circle cx="226.4" cy="24.0" r="2.8" fill="#48b4ff"/><circle cx="233.9" cy="23.6" r="2.2" fill="#58c4ff"/><circle cx="227.3" cy="42.1" r="2.1" fill="#58c4ff"/><circle cx="222.1" cy="34.7" r="2.5" fill="#64ccff"/><circle cx="228.5" cy="34.0" r="2.7" fill="#58c4ff"/><circle cx="230.6" cy="24.1" r="2.2" fill="#48b4ff"/><circle cx="229.4" cy="29.0" r="2.5" fill="#3ea6fc"/><circle cx="236.5" cy="26.8" r="2.5" fill="#3ea6fc"/><circle cx="233.7" cy="38.0" r="2.8" fill="#58c4ff"/><circle cx="232.7" cy="29.2" r="2.0" fill="#58c4ff"/><circle cx="224.9" cy="33.6" r="2.3" fill="#48b4ff"/><circle cx="224.6" cy="43.9" r="2.8" fill="#58c4ff"/><circle cx="227.1" cy="39.9" r="2.8" fill="#58c4ff"/><circle cx="225.0" cy="40.0" r="2.3" fill="#64ccff"/><circle cx="225.5" cy="40.1" r="2.6" fill="#3ea6fc"/><circle cx="229.8" cy="42.3" r="2.7" fill="#48b4ff"/><circle cx="238.4" cy="38.6" r="2.4" fill="#64ccff"/><circle cx="221.1" cy="41.0" r="2.1" fill="#64ccff"/><circle cx="225.9" cy="33.5" r="2.7" fill="#3ea6fc"/><circle cx="231.5" cy="31.2" r="2.2" fill="#58c4ff"/><circle cx="230.9" cy="37.7" r="2.6" fill="#3ea6fc"/><circle cx="221.6" cy="35.0" r="2.6" fill="#3ea6fc"/><circle cx="233.9" cy="37.8" r="2.5" fill="#58c4ff"/><circle cx="221.8" cy="35.4" r="2.8" fill="#64ccff"/><circle cx="232.7" cy="27.4" r="2.5" fill="#48b4ff"/><circle cx="230.8" cy="32.7" r="2.5" fill="#3ea6fc"/></g>
<g filter="url(#blur08)" opacity="1.00"><circle cx="229.3" cy="28.9" r="1.6" fill="#a8ecff"/><circle cx="234.0" cy="27.5" r="1.9" fill="#a8ecff"/><circle cx="240.6" cy="31.9" r="2.0" fill="#9ce6ff"/><circle cx="226.6" cy="26.7" r="1.9" fill="#9ce6ff"/><circle cx="239.3" cy="29.8" r="1.7" fill="#a8ecff"/><circle cx="227.0" cy="43.2" r="1.8" fill="#9ce6ff"/><circle cx="229.0" cy="35.1" r="1.8" fill="#9ce6ff"/><circle cx="240.6" cy="31.2" r="2.4" fill="#8ee0ff"/><circle cx="230.7" cy="27.7" r="2.2" fill="#8ee0ff"/><circle cx="235.1" cy="33.9" r="1.8" fill="#9ce6ff"/><circle cx="235.4" cy="38.7" r="1.9" fill="#a8ecff"/><circle cx="218.2" cy="31.9" r="2.2" fill="#9ce6ff"/><circle cx="224.6" cy="40.8" r="2.1" fill="#8ee0ff"/><circle cx="225.3" cy="36.4" r="2.0" fill="#d4f9ff"/><circle cx="226.0" cy="38.6" r="2.3" fill="#9ce6ff"/><circle cx="216.9" cy="32.3" r="1.7" fill="#d4f9ff"/><circle cx="220.4" cy="34.7" r="2.0" fill="#9ce6ff"/><circle cx="227.2" cy="39.5" r="2.3" fill="#8ee0ff"/><circle cx="223.1" cy="43.1" r="1.9" fill="#d4f9ff"/><circle cx="236.9" cy="34.9" r="2.2" fill="#c0f4ff"/><circle cx="223.6" cy="31.2" r="1.9" fill="#a8ecff"/><circle cx="224.5" cy="40.6" r="1.9" fill="#9ce6ff"/><circle cx="236.5" cy="35.9" r="1.9" fill="#c0f4ff"/><circle cx="229.8" cy="34.3" r="2.3" fill="#c0f4ff"/><circle cx="228.4" cy="37.6" r="2.2" fill="#9ce6ff"/><circle cx="230.9" cy="34.7" r="2.1" fill="#c0f4ff"/><circle cx="220.1" cy="36.4" r="2.1" fill="#d4f9ff"/><circle cx="226.8" cy="28.3" r="1.6" fill="#8ee0ff"/><circle cx="235.3" cy="27.9" r="1.7" fill="#c0f4ff"/><circle cx="234.9" cy="34.9" r="2.0" fill="#8ee0ff"/><circle cx="227.1" cy="28.6" r="2.0" fill="#8ee0ff"/><circle cx="220.2" cy="26.4" r="1.9" fill="#d4f9ff"/><circle cx="224.1" cy="25.9" r="1.6" fill="#c0f4ff"/><circle cx="218.9" cy="32.6" r="2.1" fill="#8ee0ff"/><circle cx="219.9" cy="38.0" r="2.3" fill="#c0f4ff"/><circle cx="241.0" cy="32.0" r="2.2" fill="#8ee0ff"/><circle cx="222.6" cy="38.4" r="2.0" fill="#9ce6ff"/><circle cx="228.2" cy="31.8" r="2.4" fill="#8ee0ff"/><circle cx="225.9" cy="31.4" r="1.9" fill="#9ce6ff"/><circle cx="221.1" cy="27.4" r="1.6" fill="#8ee0ff"/><circle cx="230.2" cy="33.3" r="1.6" fill="#d4f9ff"/><circle cx="235.1" cy="28.3" r="2.0" fill="#8ee0ff"/><circle cx="229.6" cy="26.1" r="1.9" fill="#a8ecff"/><circle cx="236.1" cy="26.3" r="1.9" fill="#9ce6ff"/><circle cx="226.2" cy="31.7" r="2.1" fill="#d4f9ff"/><circle cx="223.1" cy="33.3" r="1.7" fill="#9ce6ff"/><circle cx="228.8" cy="36.5" r="2.1" fill="#a8ecff"/><circle cx="239.3" cy="28.2" r="1.9" fill="#c0f4ff"/><circle cx="238.5" cy="34.1" r="2.0" fill="#9ce6ff"/><circle cx="220.1" cy="30.5" r="2.3" fill="#d4f9ff"/></g>
<g filter="url(#blur08)" opacity="1.00"><circle cx="235.9" cy="36.4" r="2.1" fill="#d8f8ff"/><circle cx="224.3" cy="37.8" r="1.8" fill="#e2fcff"/><circle cx="232.0" cy="28.4" r="1.5" fill="#e2fcff"/><circle cx="230.1" cy="38.1" r="1.9" fill="#d8f8ff"/><circle cx="233.4" cy="30.0" r="2.0" fill="#e2fcff"/><circle cx="232.4" cy="36.9" r="2.0" fill="#e2fcff"/><circle cx="233.0" cy="35.2" r="1.8" fill="#f0ffff"/><circle cx="225.5" cy="39.2" r="1.8" fill="#f0ffff"/><circle cx="230.8" cy="35.4" r="1.7" fill="#f0ffff"/><circle cx="228.8" cy="36.8" r="1.9" fill="#f0ffff"/><circle cx="237.3" cy="34.6" r="2.2" fill="#d8f8ff"/><circle cx="224.2" cy="36.4" r="1.9" fill="#e2fcff"/><circle cx="226.0" cy="31.3" r="1.9" fill="#e2fcff"/><circle cx="226.1" cy="39.2" r="1.7" fill="#e2fcff"/><circle cx="225.3" cy="40.6" r="1.8" fill="#e2fcff"/><circle cx="229.1" cy="31.8" r="2.2" fill="#d8f8ff"/></g>
<text x="174.4" y="62.8" font-size="10.0" text-anchor="middle" fill="#fff" stroke="#fff" stroke-width="0.22" >Host</text>
<text x="229.0" y="62.8" font-size="10.0" text-anchor="middle" fill="#fff" stroke="#fff" stroke-width="0.22" >Sb-doped</text>
<text x="287.4" y="11.7" font-size="17.5" text-anchor="start" fill="#000" stroke="#000" stroke-width="0.22" font-weight="bold">b</text>
<line x1="333.6" y1="139.4" x2="679.0" y2="139.4" stroke="#9a9a9a" stroke-width="0.7" stroke-dasharray="1.6,1.4"/>
<path d="M357.6,142.2 L359.2,137.2 M358.4,142.4 L360.0,137.6 M356.9,140.6 L360.4,139.0" stroke="#8a8a8a" stroke-width="0.7" fill="none"/>
<path d="M358.00,7.40 L358.01,7.76 L358.02,8.14 L358.02,8.52 L358.03,8.91 L358.04,9.30 L358.06,9.71 L358.07,10.12 L358.08,10.54 L358.09,10.96 L358.10,11.40 L358.12,11.83 L358.13,12.28 L358.14,12.73 L358.16,13.19 L358.17,13.67 L358.18,14.16 L358.20,14.67 L358.22,15.19 L358.23,15.73 L358.25,16.26 L358.27,16.80 L358.29,17.34 L358.31,17.87 L358.33,18.40 L358.35,18.92 L358.37,19.42 L358.40,19.91 L358.42,20.39 L358.45,20.86 L358.48,21.33 L358.51,21.80 L358.54,22.26 L358.58,22.72 L358.61,23.17 L358.65,23.61 L358.69,24.05 L358.73,24.47 L358.77,24.89 L358.82,25.30 L358.86,25.70 L358.91,26.09 L358.96,26.46 L359.01,26.83 L359.07,27.20 L359.13,27.55 L359.19,27.90 L359.26,28.25 L359.32,28.58 L359.39,28.91 L359.46,29.24 L359.54,29.56 L359.61,29.87 L359.69,30.18 L359.77,30.49 L359.85,30.79 L359.94,31.09 L360.03,31.38 L360.12,31.66 L360.22,31.94 L360.32,32.22 L360.42,32.49 L360.53,32.76 L360.64,33.02 L360.75,33.29 L360.86,33.55 L360.97,33.80 L361.09,34.06 L361.21,34.31 L361.32,34.56 L361.44,34.81 L361.57,35.06 L361.69,35.30 L361.82,35.54 L361.95,35.78 L362.08,36.01 L362.22,36.25 L362.35,36.48 L362.49,36.71 L362.63,36.93 L362.78,37.16 L362.92,37.38 L363.07,37.60 L363.21,37.81 L363.36,38.03 L363.52,38.23 L363.67,38.44 L363.83,38.64 L363.98,38.84 L364.15,39.04 L364.31,39.24 L364.48,39.45 L364.65,39.65 L364.82,39.85 L365.00,40.06 L365.18,40.27 L365.36,40.49 L365.55,40.70 L365.74,40.92 L365.94,41.14 L366.14,41.36 L366.34,41.59 L366.55,41.81 L366.76,42.03 L366.97,42.26 L367.19,42.48 L367.40,42.70 L367.62,42.92 L367.84,43.14 L368.06,43.36 L368.28,43.57 L368.49,43.78 L368.71,43.98 L368.92,44.18 L369.14,44.38 L369.36,44.58 L369.58,44.78 L369.81,44.98 L370.05,45.19 L370.30,45.41 L370.56,45.64 L370.83,45.87 L371.11,46.12 L371.40,46.38 L371.72,46.65 L372.06,46.94 L372.41,47.25 L372.78,47.56 L373.16,47.88 L373.55,48.21 L373.96,48.55 L374.37,48.89 L374.80,49.24 L375.23,49.59 L375.66,49.94 L376.10,50.29 L376.54,50.63 L376.98,50.97 L377.41,51.31 L377.85,51.65 L378.29,51.98 L378.74,52.32 L379.19,52.66 L379.67,53.01 L380.17,53.37 L380.68,53.74 L381.23,54.12 L381.80,54.52 L382.41,54.94 L383.06,55.37 L383.76,55.83 L384.53,56.33 L385.39,56.86 L386.32,57.43 L387.31,58.02 L388.36,58.63 L389.46,59.26 L390.61,59.90 L391.78,60.55 L392.98,61.21 L394.20,61.86 L395.43,62.50 L396.66,63.13 L397.89,63.75 L399.12,64.34 L400.37,64.94 L401.64,65.52 L402.93,66.10 L404.26,66.68 L405.61,67.26 L406.99,67.85 L408.41,68.43 L409.86,69.03 L411.35,69.64 L412.88,70.26 L414.46,70.89 L416.07,71.54 L417.74,72.22 L419.47,72.91 L421.27,73.62 L423.13,74.35 L425.06,75.10 L427.04,75.86 L429.08,76.63 L431.16,77.41 L433.28,78.20 L435.44,78.99 L437.64,79.79 L439.86,80.59 L442.11,81.39 L444.38,82.18 L446.67,82.98 L449.03,83.78 L451.43,84.58 L453.89,85.38 L456.40,86.19 L458.94,87.00 L461.53,87.82 L464.15,88.64 L466.80,89.47 L469.48,90.31 L472.18,91.15 L474.90,92.00 L477.63,92.85 L480.38,93.72 L483.16,94.60 L485.99,95.49 L488.87,96.39 L491.78,97.31 L494.73,98.23 L497.70,99.16 L500.69,100.09 L503.69,101.02 L506.70,101.95 L509.70,102.88 L512.70,103.79 L515.69,104.70 L518.66,105.60 L521.61,106.48 L524.61,107.38 L527.65,108.29 L530.72,109.20 L533.80,110.11 L536.88,111.01 L539.95,111.91 L542.99,112.79 L545.99,113.66 L548.93,114.50 L551.81,115.32 L554.60,116.11 L557.30,116.86 L559.89,117.57 L562.39,118.25 L564.87,118.92 L567.31,119.57 L569.72,120.21 L572.07,120.84 L574.38,121.45 L576.64,122.04 L578.84,122.60 L580.98,123.15 L583.06,123.68 L585.07,124.19 L587.00,124.67 L588.86,125.12 L590.64,125.55 L592.34,125.96 L593.98,126.36 L595.56,126.74 L597.09,127.10 L598.57,127.45 L600.02,127.79 L601.43,128.12 L602.83,128.44 L604.20,128.75 L605.57,129.05 L606.93,129.35 L608.30,129.64 L609.68,129.93 L611.08,130.22 L612.49,130.51 L613.91,130.80 L615.33,131.09 L616.75,131.37 L618.15,131.64 L619.54,131.91 L620.90,132.17 L622.23,132.42 L623.52,132.65 L624.77,132.87 L625.97,133.08 L627.11,133.26 L628.19,133.43 L629.24,133.59 L630.27,133.74 L631.27,133.88 L632.25,134.02 L633.21,134.16 L634.14,134.29 L635.04,134.41 L635.91,134.52 L636.75,134.63 L637.55,134.73 L638.31,134.82 L639.04,134.90 L639.73,134.97 L640.38,135.04 L641.02,135.10 L641.64,135.16 L642.24,135.22 L642.83,135.28 L643.39,135.34 L643.93,135.39 L644.45,135.43 L644.95,135.48 L645.42,135.51 L645.86,135.54 L646.27,135.57 L646.65,135.59 L647.00,135.60" fill="none" stroke="#1450f0" stroke-width="2.3" stroke-linejoin="round" stroke-linecap="butt"/>
<rect x="339.9" y="145.5" width="334.4" height="55.2" fill="#000"/>
<polygon points="349.0,161.0 354.0,158.0 360.0,156.5 366.0,157.5 372.0,156.5 378.0,158.0 383.0,161.0 382.5,168.0 378.0,174.0 374.0,179.0 370.0,182.5 362.0,182.5 358.0,179.0 354.0,174.0 349.5,168.0" fill="#1550ff" filter="url(#blur2)" opacity="0.6"/>
<g filter="url(#blur08)" opacity="1.00"><circle cx="378.4" cy="170.8" r="2.9" fill="#4690ff"/><circle cx="362.4" cy="164.8" r="2.6" fill="#4690ff"/><circle cx="375.5" cy="172.2" r="2.5" fill="#3a84ff"/><circle cx="356.1" cy="167.7" r="2.1" fill="#2a6cfa"/><circle cx="359.0" cy="169.5" r="2.0" fill="#2f78ff"/><circle cx="365.1" cy="171.4" r="2.1" fill="#2a6cfa"/><circle cx="351.3" cy="161.5" r="2.2" fill="#2f78ff"/><circle cx="371.8" cy="158.5" r="2.5" fill="#2f78ff"/><circle cx="379.8" cy="169.0" r="2.8" fill="#4690ff"/><circle cx="369.8" cy="170.2" r="2.1" fill="#4690ff"/><circle cx="360.2" cy="177.2" r="2.6" fill="#2a6cfa"/><circle cx="358.7" cy="161.2" r="2.4" fill="#2f78ff"/><circle cx="353.0" cy="167.7" r="2.5" fill="#4690ff"/><circle cx="370.5" cy="167.4" r="2.7" fill="#3a84ff"/><circle cx="381.1" cy="161.7" r="2.6" fill="#3a84ff"/><circle cx="378.0" cy="164.4" r="2.5" fill="#2f78ff"/><circle cx="358.8" cy="161.6" r="2.8" fill="#3a84ff"/><circle cx="373.9" cy="162.6" r="2.3" fill="#2f78ff"/><circle cx="363.3" cy="166.0" r="2.7" fill="#4690ff"/><circle cx="367.4" cy="165.5" r="2.1" fill="#2a6cfa"/><circle cx="368.8" cy="158.5" r="2.7" fill="#2a6cfa"/><circle cx="360.5" cy="162.9" r="2.1" fill="#2f78ff"/><circle cx="366.1" cy="176.4" r="2.2" fill="#3a84ff"/><circle cx="368.7" cy="161.3" r="2.1" fill="#2f78ff"/><circle cx="377.7" cy="160.8" r="2.8" fill="#2f78ff"/><circle cx="376.8" cy="167.1" r="2.9" fill="#2a6cfa"/><circle cx="368.4" cy="173.8" r="2.1" fill="#2a6cfa"/><circle cx="358.2" cy="171.9" r="2.8" fill="#3a84ff"/><circle cx="363.3" cy="162.8" r="2.7" fill="#3a84ff"/><circle cx="376.4" cy="169.7" r="2.5" fill="#2a6cfa"/><circle cx="362.9" cy="159.2" r="2.9" fill="#2f78ff"/><circle cx="376.2" cy="168.6" r="2.4" fill="#4690ff"/><circle cx="379.4" cy="166.7" r="2.8" fill="#2f78ff"/><circle cx="367.9" cy="164.3" r="2.3" fill="#4690ff"/><circle cx="376.6" cy="161.6" r="2.0" fill="#3a84ff"/><circle cx="362.0" cy="159.9" r="2.8" fill="#2a6cfa"/><circle cx="373.6" cy="164.6" r="2.1" fill="#3a84ff"/><circle cx="368.5" cy="180.3" r="2.4" fill="#2a6cfa"/><circle cx="370.6" cy="169.4" r="2.7" fill="#2a6cfa"/><circle cx="362.4" cy="164.2" r="2.1" fill="#3a84ff"/><circle cx="364.1" cy="168.2" r="2.2" fill="#2f78ff"/><circle cx="375.7" cy="162.1" r="2.1" fill="#4690ff"/><circle cx="361.0" cy="165.7" r="2.3" fill="#2a6cfa"/><circle cx="355.3" cy="163.9" r="2.7" fill="#2a6cfa"/><circle cx="360.1" cy="159.5" r="2.1" fill="#3a84ff"/><circle cx="358.2" cy="174.1" r="2.8" fill="#2a6cfa"/><circle cx="369.1" cy="173.7" r="2.1" fill="#2a6cfa"/><circle cx="363.8" cy="180.3" r="2.0" fill="#2a6cfa"/></g>
<g filter="url(#blur08)" opacity="1.00"><circle cx="358.5" cy="168.5" r="1.7" fill="#92caff"/><circle cx="372.6" cy="168.2" r="2.1" fill="#a8d6ff"/><circle cx="358.2" cy="164.3" r="1.7" fill="#92caff"/><circle cx="370.0" cy="170.8" r="1.7" fill="#78baff"/><circle cx="372.9" cy="172.4" r="2.0" fill="#a8d6ff"/><circle cx="353.9" cy="166.3" r="1.8" fill="#92caff"/><circle cx="370.0" cy="174.6" r="2.2" fill="#6aaeff"/><circle cx="357.4" cy="170.4" r="1.8" fill="#6aaeff"/><circle cx="363.6" cy="173.0" r="2.2" fill="#bce0ff"/><circle cx="364.2" cy="164.4" r="1.6" fill="#78baff"/><circle cx="357.3" cy="165.0" r="2.1" fill="#78baff"/><circle cx="367.0" cy="165.8" r="1.9" fill="#78baff"/><circle cx="369.8" cy="163.8" r="1.7" fill="#92caff"/><circle cx="354.8" cy="169.4" r="1.7" fill="#a8d6ff"/><circle cx="361.7" cy="170.3" r="1.9" fill="#6aaeff"/><circle cx="361.8" cy="163.2" r="2.0" fill="#6aaeff"/><circle cx="376.3" cy="170.1" r="2.1" fill="#92caff"/><circle cx="357.0" cy="169.0" r="1.9" fill="#6aaeff"/><circle cx="376.1" cy="163.5" r="2.3" fill="#78baff"/><circle cx="375.2" cy="171.7" r="2.2" fill="#92caff"/><circle cx="366.7" cy="159.7" r="1.8" fill="#a8d6ff"/><circle cx="357.2" cy="166.2" r="1.8" fill="#78baff"/><circle cx="368.2" cy="172.9" r="2.2" fill="#a8d6ff"/><circle cx="362.0" cy="162.8" r="2.3" fill="#92caff"/><circle cx="361.2" cy="162.6" r="2.3" fill="#bce0ff"/><circle cx="365.9" cy="168.3" r="2.4" fill="#78baff"/><circle cx="367.9" cy="167.7" r="2.4" fill="#92caff"/><circle cx="370.2" cy="161.2" r="1.7" fill="#a8d6ff"/><circle cx="356.8" cy="162.7" r="1.8" fill="#bce0ff"/><circle cx="357.8" cy="174.0" r="1.8" fill="#a8d6ff"/><circle cx="374.7" cy="163.2" r="1.8" fill="#92caff"/><circle cx="367.4" cy="164.3" r="1.7" fill="#bce0ff"/><circle cx="359.1" cy="174.8" r="2.2" fill="#6aaeff"/><circle cx="365.2" cy="169.1" r="2.4" fill="#a8d6ff"/></g>
<g filter="url(#blur08)" opacity="1.00"><circle cx="365.2" cy="165.3" r="1.7" fill="#d8ecff"/><circle cx="367.0" cy="170.6" r="1.6" fill="#d8ecff"/><circle cx="363.7" cy="165.9" r="1.5" fill="#e6f4ff"/><circle cx="358.2" cy="167.4" r="1.7" fill="#f4faff"/><circle cx="359.3" cy="165.2" r="1.5" fill="#e6f4ff"/><circle cx="370.0" cy="169.5" r="1.4" fill="#e6f4ff"/><circle cx="360.1" cy="165.1" r="1.5" fill="#d8ecff"/><circle cx="368.1" cy="172.4" r="1.4" fill="#e6f4ff"/><circle cx="368.4" cy="172.0" r="1.5" fill="#e6f4ff"/></g>
<text x="366.2" y="195.9" font-size="10.0" text-anchor="middle" fill="#fff" stroke="#fff" stroke-width="0.22" >1 s</text>
<polygon points="394.9,161.0 399.9,158.0 405.9,156.5 411.9,157.5 417.9,156.5 423.9,158.0 428.9,161.0 428.4,168.0 423.9,174.0 419.9,179.0 415.9,182.5 407.9,182.5 403.9,179.0 399.9,174.0 395.4,168.0" fill="#124af0" filter="url(#blur2)" opacity="0.6"/>
<g filter="url(#blur08)" opacity="1.00"><circle cx="407.6" cy="176.6" r="2.6" fill="#2462f0"/><circle cx="417.6" cy="172.2" r="2.5" fill="#2462f0"/><circle cx="417.2" cy="162.7" r="2.4" fill="#347afc"/><circle cx="418.4" cy="160.6" r="2.8" fill="#2a6ef8"/><circle cx="412.1" cy="174.7" r="2.0" fill="#3e86ff"/><circle cx="403.2" cy="161.5" r="2.2" fill="#2a6ef8"/><circle cx="414.1" cy="161.3" r="2.1" fill="#2a6ef8"/><circle cx="416.2" cy="169.7" r="2.8" fill="#2462f0"/><circle cx="403.9" cy="168.9" r="2.6" fill="#347afc"/><circle cx="421.0" cy="173.3" r="2.1" fill="#3e86ff"/><circle cx="422.6" cy="159.9" r="2.5" fill="#2462f0"/><circle cx="426.0" cy="162.5" r="2.4" fill="#347afc"/><circle cx="419.2" cy="166.4" r="2.0" fill="#347afc"/><circle cx="408.8" cy="176.8" r="2.8" fill="#2a6ef8"/><circle cx="420.1" cy="158.6" r="2.6" fill="#2a6ef8"/><circle cx="414.9" cy="163.7" r="2.8" fill="#3e86ff"/><circle cx="422.2" cy="163.8" r="2.8" fill="#2a6ef8"/><circle cx="405.9" cy="163.7" r="2.4" fill="#347afc"/><circle cx="419.4" cy="174.7" r="2.0" fill="#2462f0"/><circle cx="418.8" cy="158.4" r="2.7" fill="#3e86ff"/><circle cx="420.5" cy="169.9" r="2.1" fill="#2462f0"/><circle cx="420.8" cy="161.1" r="2.9" fill="#2462f0"/><circle cx="422.2" cy="160.6" r="2.4" fill="#3e86ff"/><circle cx="403.6" cy="168.5" r="2.6" fill="#2462f0"/><circle cx="406.2" cy="160.9" r="2.2" fill="#3e86ff"/><circle cx="407.3" cy="165.2" r="2.5" fill="#2a6ef8"/><circle cx="405.9" cy="166.5" r="2.2" fill="#3e86ff"/><circle cx="414.5" cy="179.6" r="2.2" fill="#347afc"/><circle cx="412.1" cy="160.5" r="2.4" fill="#2462f0"/><circle cx="404.4" cy="161.1" r="2.5" fill="#2a6ef8"/><circle cx="413.4" cy="164.9" r="2.3" fill="#347afc"/><circle cx="413.1" cy="179.0" r="2.8" fill="#3e86ff"/><circle cx="401.0" cy="172.8" r="2.9" fill="#2462f0"/><circle cx="398.1" cy="161.0" r="2.2" fill="#347afc"/><circle cx="401.8" cy="161.1" r="2.2" fill="#347afc"/><circle cx="400.5" cy="160.3" r="2.3" fill="#2462f0"/><circle cx="410.4" cy="164.5" r="2.3" fill="#2a6ef8"/><circle cx="417.4" cy="158.3" r="2.4" fill="#2a6ef8"/><circle cx="415.6" cy="162.8" r="2.8" fill="#2a6ef8"/><circle cx="407.7" cy="164.0" r="2.2" fill="#2a6ef8"/><circle cx="414.2" cy="172.1" r="2.7" fill="#3e86ff"/><circle cx="404.4" cy="171.2" r="2.7" fill="#2a6ef8"/><circle cx="418.4" cy="177.7" r="2.8" fill="#2462f0"/><circle cx="403.2" cy="170.5" r="2.2" fill="#347afc"/><circle cx="397.5" cy="164.4" r="2.1" fill="#2462f0"/><circle cx="412.7" cy="172.5" r="2.4" fill="#347afc"/><circle cx="412.6" cy="177.7" r="2.5" fill="#347afc"/><circle cx="413.8" cy="164.1" r="2.4" fill="#347afc"/></g>
<g filter="url(#blur08)" opacity="1.00"><circle cx="421.5" cy="172.3" r="2.2" fill="#7cbcff"/><circle cx="409.3" cy="159.4" r="2.4" fill="#62aaff"/><circle cx="417.9" cy="161.6" r="2.1" fill="#96ccff"/><circle cx="418.7" cy="162.3" r="1.7" fill="#a8d4ff"/><circle cx="409.9" cy="173.6" r="2.0" fill="#a8d4ff"/><circle cx="403.7" cy="168.8" r="2.2" fill="#62aaff"/><circle cx="415.5" cy="167.7" r="1.8" fill="#62aaff"/><circle cx="411.8" cy="170.9" r="1.9" fill="#54a0ff"/><circle cx="401.8" cy="160.9" r="2.1" fill="#7cbcff"/><circle cx="414.6" cy="166.9" r="2.3" fill="#7cbcff"/><circle cx="403.8" cy="173.0" r="1.6" fill="#62aaff"/><circle cx="400.8" cy="166.4" r="2.1" fill="#54a0ff"/><circle cx="420.5" cy="171.4" r="1.8" fill="#54a0ff"/><circle cx="409.2" cy="163.2" r="2.2" fill="#62aaff"/><circle cx="418.7" cy="164.9" r="2.3" fill="#7cbcff"/><circle cx="416.7" cy="172.1" r="2.3" fill="#54a0ff"/><circle cx="420.3" cy="165.8" r="1.7" fill="#62aaff"/><circle cx="414.2" cy="168.8" r="2.1" fill="#62aaff"/><circle cx="406.7" cy="172.0" r="1.9" fill="#7cbcff"/><circle cx="420.9" cy="173.0" r="2.4" fill="#54a0ff"/><circle cx="401.3" cy="167.5" r="2.3" fill="#a8d4ff"/><circle cx="418.2" cy="165.7" r="2.2" fill="#a8d4ff"/><circle cx="410.3" cy="170.4" r="2.1" fill="#62aaff"/><circle cx="403.0" cy="171.3" r="1.6" fill="#a8d4ff"/><circle cx="422.3" cy="169.2" r="2.1" fill="#7cbcff"/><circle cx="409.1" cy="172.4" r="1.9" fill="#54a0ff"/><circle cx="422.3" cy="162.1" r="2.4" fill="#62aaff"/><circle cx="418.4" cy="163.3" r="1.8" fill="#7cbcff"/><circle cx="413.9" cy="166.2" r="2.2" fill="#62aaff"/><circle cx="422.4" cy="166.7" r="1.7" fill="#7cbcff"/><circle cx="408.1" cy="166.6" r="2.2" fill="#96ccff"/><circle cx="402.8" cy="167.4" r="2.3" fill="#a8d4ff"/><circle cx="412.6" cy="174.1" r="1.8" fill="#54a0ff"/><circle cx="414.0" cy="177.0" r="1.8" fill="#54a0ff"/></g>
<g filter="url(#blur08)" opacity="1.00"><circle cx="412.3" cy="172.2" r="1.5" fill="#f4faff"/><circle cx="406.4" cy="167.7" r="1.7" fill="#f4faff"/><circle cx="414.2" cy="165.7" r="1.8" fill="#d8ecff"/><circle cx="405.9" cy="165.0" r="1.5" fill="#d8ecff"/><circle cx="404.8" cy="166.7" r="1.9" fill="#e6f4ff"/></g>
<text x="413.2" y="195.9" font-size="10.0" text-anchor="middle" fill="#fff" stroke="#fff" stroke-width="0.22" >5 s</text>
<polygon points="440.2,161.0 445.2,158.0 451.2,156.5 457.2,157.5 463.2,156.5 469.2,158.0 474.2,161.0 473.7,168.0 469.2,174.0 465.2,179.0 461.2,182.5 453.2,182.5 449.2,179.0 445.2,174.0 440.7,168.0" fill="#0c30c0" filter="url(#blur2)" opacity="0.6"/>
<g filter="url(#blur08)" opacity="1.00"><circle cx="460.9" cy="175.9" r="2.7" fill="#0e2c9d"/><circle cx="457.7" cy="179.2" r="2.7" fill="#1232a7"/><circle cx="450.7" cy="159.6" r="2.4" fill="#1232a7"/><circle cx="454.9" cy="178.1" r="2.6" fill="#0c2590"/><circle cx="469.1" cy="164.9" r="2.6" fill="#0c2590"/><circle cx="461.4" cy="167.9" r="2.2" fill="#0e2c9d"/><circle cx="464.3" cy="177.7" r="2.7" fill="#1232a7"/><circle cx="454.1" cy="160.5" r="2.8" fill="#1539b1"/><circle cx="463.8" cy="172.4" r="2.1" fill="#0c2590"/><circle cx="465.7" cy="170.4" r="2.8" fill="#0e2c9d"/><circle cx="442.8" cy="167.9" r="2.3" fill="#1232a7"/><circle cx="452.8" cy="176.8" r="2.4" fill="#1539b1"/><circle cx="451.3" cy="172.5" r="2.1" fill="#0c2590"/><circle cx="451.2" cy="159.3" r="2.6" fill="#0c2590"/><circle cx="456.1" cy="169.4" r="2.7" fill="#1232a7"/><circle cx="451.6" cy="175.4" r="2.1" fill="#1232a7"/><circle cx="465.6" cy="164.0" r="2.7" fill="#0c2590"/><circle cx="457.7" cy="170.5" r="2.6" fill="#0c2590"/><circle cx="452.8" cy="157.8" r="2.3" fill="#0e2c9d"/><circle cx="464.3" cy="176.1" r="2.4" fill="#0e2c9d"/><circle cx="447.9" cy="159.2" r="2.5" fill="#0c2590"/><circle cx="450.6" cy="176.3" r="2.4" fill="#1539b1"/><circle cx="470.2" cy="160.4" r="2.5" fill="#0c2590"/><circle cx="454.2" cy="166.6" r="2.1" fill="#1232a7"/><circle cx="461.7" cy="179.4" r="2.6" fill="#0c2590"/><circle cx="454.0" cy="175.3" r="2.3" fill="#0c2590"/><circle cx="460.2" cy="164.2" r="2.8" fill="#1539b1"/><circle cx="458.0" cy="180.6" r="2.5" fill="#1232a7"/><circle cx="451.7" cy="169.9" r="2.8" fill="#1539b1"/><circle cx="445.0" cy="160.4" r="2.6" fill="#1232a7"/><circle cx="458.3" cy="164.5" r="2.4" fill="#1539b1"/><circle cx="465.3" cy="168.7" r="2.8" fill="#1539b1"/><circle cx="445.7" cy="169.8" r="2.6" fill="#1539b1"/><circle cx="467.6" cy="169.5" r="2.5" fill="#0e2c9d"/><circle cx="469.4" cy="160.1" r="2.6" fill="#1539b1"/><circle cx="460.1" cy="160.2" r="2.6" fill="#0c2590"/><circle cx="469.0" cy="167.8" r="2.1" fill="#0e2c9d"/><circle cx="460.7" cy="158.2" r="2.1" fill="#0e2c9d"/><circle cx="467.8" cy="169.0" r="2.3" fill="#1539b1"/><circle cx="471.5" cy="168.5" r="2.3" fill="#1539b1"/><circle cx="455.7" cy="174.0" r="2.2" fill="#0c2590"/><circle cx="465.4" cy="169.5" r="2.4" fill="#0e2c9d"/><circle cx="462.1" cy="171.6" r="2.7" fill="#1232a7"/><circle cx="455.8" cy="159.0" r="2.5" fill="#1539b1"/><circle cx="463.6" cy="171.0" r="2.4" fill="#1232a7"/><circle cx="451.6" cy="177.6" r="2.9" fill="#1232a7"/><circle cx="468.3" cy="166.2" r="2.8" fill="#0c2590"/><circle cx="462.7" cy="179.3" r="2.3" fill="#0c2590"/></g>
<g filter="url(#blur08)" opacity="1.00"><circle cx="452.7" cy="161.7" r="1.7" fill="#2553c4"/><circle cx="456.4" cy="165.1" r="1.8" fill="#2f60cd"/><circle cx="467.3" cy="167.4" r="1.7" fill="#2f60cd"/><circle cx="457.6" cy="173.9" r="1.9" fill="#2553c4"/><circle cx="467.3" cy="171.2" r="2.1" fill="#183fb1"/><circle cx="446.5" cy="170.8" r="2.1" fill="#2553c4"/><circle cx="456.9" cy="162.3" r="2.1" fill="#183fb1"/><circle cx="456.9" cy="178.7" r="2.4" fill="#2f60cd"/><circle cx="454.4" cy="172.3" r="2.1" fill="#2553c4"/><circle cx="456.1" cy="162.3" r="1.8" fill="#2553c4"/><circle cx="450.7" cy="171.9" r="2.1" fill="#2f60cd"/><circle cx="450.0" cy="169.9" r="2.0" fill="#183fb1"/><circle cx="451.6" cy="174.5" r="2.2" fill="#2553c4"/><circle cx="451.1" cy="173.9" r="1.9" fill="#183fb1"/><circle cx="461.6" cy="168.6" r="2.3" fill="#183fb1"/><circle cx="450.4" cy="160.2" r="1.9" fill="#1d48ba"/><circle cx="467.0" cy="160.4" r="2.2" fill="#1d48ba"/><circle cx="457.2" cy="166.9" r="1.9" fill="#2f60cd"/><circle cx="462.7" cy="168.4" r="1.8" fill="#2553c4"/><circle cx="453.6" cy="166.3" r="2.1" fill="#1d48ba"/><circle cx="464.4" cy="165.3" r="1.9" fill="#2553c4"/><circle cx="463.6" cy="171.5" r="1.6" fill="#1d48ba"/><circle cx="463.0" cy="160.9" r="2.0" fill="#2f60cd"/><circle cx="451.3" cy="165.8" r="1.8" fill="#2553c4"/><circle cx="458.6" cy="161.7" r="2.0" fill="#2f60cd"/><circle cx="446.6" cy="165.4" r="2.2" fill="#1d48ba"/><circle cx="468.4" cy="161.4" r="2.0" fill="#2f60cd"/><circle cx="458.3" cy="177.1" r="2.3" fill="#183fb1"/><circle cx="451.5" cy="172.5" r="2.0" fill="#2f60cd"/><circle cx="459.5" cy="169.6" r="1.9" fill="#1d48ba"/><circle cx="457.9" cy="174.6" r="2.1" fill="#1d48ba"/><circle cx="459.2" cy="162.5" r="1.6" fill="#1d48ba"/><circle cx="456.7" cy="164.5" r="1.6" fill="#2553c4"/><circle cx="454.4" cy="177.0" r="1.8" fill="#183fb1"/></g>
<text x="460.3" y="195.9" font-size="10.0" text-anchor="middle" fill="#fff" stroke="#fff" stroke-width="0.22" >10 s</text>
<polygon points="486.2,161.0 491.2,158.0 497.2,156.5 503.2,157.5 509.2,156.5 515.2,158.0 520.2,161.0 519.7,168.0 515.2,174.0 511.2,179.0 507.2,182.5 499.2,182.5 495.2,179.0 491.2,174.0 486.7,168.0" fill="#061660" filter="url(#blur2)" opacity="0.6"/>
<g filter="url(#blur08)" opacity="1.00"><circle cx="492.9" cy="169.6" r="2.2" fill="#041146"/><circle cx="498.7" cy="164.0" r="2.4" fill="#05144c"/><circle cx="502.8" cy="161.2" r="2.3" fill="#061754"/><circle cx="497.2" cy="169.7" r="2.1" fill="#041146"/><circle cx="512.7" cy="166.4" r="2.3" fill="#061754"/><circle cx="491.0" cy="169.9" r="2.2" fill="#061754"/><circle cx="500.5" cy="169.2" r="2.7" fill="#061754"/><circle cx="502.7" cy="172.9" r="2.5" fill="#061754"/><circle cx="508.7" cy="168.1" r="2.2" fill="#05144c"/><circle cx="504.1" cy="175.6" r="2.4" fill="#061754"/><circle cx="500.0" cy="166.6" r="2.9" fill="#041146"/><circle cx="500.6" cy="165.1" r="2.1" fill="#061754"/><circle cx="498.3" cy="160.8" r="2.7" fill="#05144c"/><circle cx="509.5" cy="159.7" r="2.5" fill="#05144c"/><circle cx="504.2" cy="164.1" r="2.5" fill="#061754"/><circle cx="501.6" cy="171.0" r="2.7" fill="#061754"/><circle cx="506.1" cy="170.2" r="2.2" fill="#041146"/><circle cx="506.5" cy="167.2" r="2.9" fill="#061754"/><circle cx="505.2" cy="176.3" r="2.8" fill="#061754"/><circle cx="515.2" cy="160.6" r="2.2" fill="#041146"/><circle cx="507.4" cy="175.1" r="2.2" fill="#05144c"/><circle cx="495.5" cy="164.4" r="2.8" fill="#061754"/><circle cx="492.5" cy="160.6" r="2.9" fill="#041146"/><circle cx="515.9" cy="161.4" r="2.0" fill="#05144c"/><circle cx="505.3" cy="168.0" r="2.6" fill="#05144c"/><circle cx="500.8" cy="177.1" r="2.3" fill="#05144c"/><circle cx="514.6" cy="164.2" r="2.3" fill="#05144c"/><circle cx="497.2" cy="168.8" r="2.3" fill="#041146"/><circle cx="494.7" cy="160.9" r="2.3" fill="#05144c"/><circle cx="501.7" cy="178.8" r="2.5" fill="#05144c"/><circle cx="515.2" cy="166.5" r="2.8" fill="#061754"/><circle cx="496.6" cy="159.7" r="2.1" fill="#05144c"/><circle cx="507.9" cy="161.6" r="2.7" fill="#041146"/><circle cx="498.0" cy="179.0" r="2.4" fill="#061754"/><circle cx="490.9" cy="166.5" r="2.2" fill="#041146"/><circle cx="505.1" cy="177.4" r="2.0" fill="#05144c"/><circle cx="494.2" cy="173.6" r="2.4" fill="#041146"/><circle cx="505.8" cy="167.3" r="2.0" fill="#041146"/><circle cx="496.0" cy="171.4" r="2.7" fill="#061754"/><circle cx="516.5" cy="166.6" r="2.2" fill="#05144c"/><circle cx="498.4" cy="178.8" r="2.4" fill="#041146"/><circle cx="508.5" cy="176.3" r="2.5" fill="#041146"/><circle cx="511.0" cy="161.0" r="2.3" fill="#05144c"/><circle cx="510.6" cy="171.0" r="2.8" fill="#061754"/><circle cx="495.9" cy="165.6" r="2.1" fill="#05144c"/><circle cx="515.0" cy="167.1" r="2.5" fill="#041146"/><circle cx="504.0" cy="178.8" r="2.4" fill="#05144c"/><circle cx="492.7" cy="165.3" r="2.3" fill="#061754"/></g>
<g filter="url(#blur08)" opacity="1.00"><circle cx="509.8" cy="173.2" r="1.7" fill="#07185a"/><circle cx="493.1" cy="162.2" r="2.2" fill="#081c63"/><circle cx="502.2" cy="167.3" r="1.9" fill="#07185a"/><circle cx="501.7" cy="164.3" r="1.9" fill="#081c63"/><circle cx="504.6" cy="174.3" r="2.1" fill="#081c63"/><circle cx="504.6" cy="178.6" r="2.4" fill="#0a1f6b"/><circle cx="494.8" cy="172.7" r="2.2" fill="#081c63"/><circle cx="494.1" cy="160.7" r="2.0" fill="#0a1f6b"/><circle cx="511.5" cy="168.2" r="2.1" fill="#081c63"/><circle cx="512.7" cy="166.5" r="1.7" fill="#081c63"/><circle cx="501.7" cy="165.1" r="1.9" fill="#081c63"/><circle cx="498.0" cy="162.8" r="1.9" fill="#0a1f6b"/><circle cx="503.8" cy="177.4" r="2.0" fill="#07185a"/><circle cx="502.1" cy="161.9" r="2.4" fill="#081c63"/></g>
<text x="506.6" y="195.9" font-size="10.0" text-anchor="middle" fill="#fff" stroke="#fff" stroke-width="0.22" >60 s</text>
<polygon points="531.6,161.0 536.6,158.0 542.6,156.5 548.6,157.5 554.6,156.5 560.6,158.0 565.6,161.0 565.1,168.0 560.6,174.0 556.6,179.0 552.6,182.5 544.6,182.5 540.6,179.0 536.6,174.0 532.1,168.0" fill="#051452" filter="url(#blur2)" opacity="0.6"/>
<g filter="url(#blur08)" opacity="1.00"><circle cx="533.8" cy="164.8" r="2.8" fill="#05154c"/><circle cx="545.8" cy="170.9" r="2.6" fill="#041246"/><circle cx="550.6" cy="169.6" r="2.7" fill="#041246"/><circle cx="550.8" cy="171.2" r="2.7" fill="#05154c"/><circle cx="560.4" cy="162.7" r="2.8" fill="#05154c"/><circle cx="551.0" cy="168.9" r="2.8" fill="#041246"/><circle cx="546.0" cy="162.3" r="2.4" fill="#041246"/><circle cx="560.4" cy="166.7" r="2.9" fill="#05154c"/><circle cx="563.1" cy="165.3" r="2.2" fill="#041246"/><circle cx="551.2" cy="176.4" r="2.6" fill="#041246"/><circle cx="550.3" cy="170.4" r="2.8" fill="#05154c"/><circle cx="553.5" cy="179.4" r="2.3" fill="#041246"/><circle cx="548.8" cy="169.2" r="2.7" fill="#041246"/><circle cx="554.0" cy="178.9" r="2.8" fill="#041246"/><circle cx="541.0" cy="169.4" r="2.7" fill="#041246"/><circle cx="551.0" cy="176.2" r="2.7" fill="#030f3f"/><circle cx="561.8" cy="166.8" r="2.6" fill="#030f3f"/><circle cx="557.9" cy="161.5" r="2.8" fill="#05154c"/><circle cx="551.9" cy="171.0" r="2.5" fill="#030f3f"/><circle cx="550.0" cy="175.8" r="2.7" fill="#05154c"/><circle cx="553.5" cy="171.9" r="2.6" fill="#041246"/><circle cx="540.0" cy="173.0" r="2.4" fill="#05154c"/><circle cx="552.6" cy="164.1" r="2.8" fill="#05154c"/><circle cx="553.8" cy="159.1" r="2.5" fill="#030f3f"/><circle cx="553.9" cy="161.2" r="2.3" fill="#030f3f"/><circle cx="550.7" cy="171.3" r="2.6" fill="#05154c"/><circle cx="562.0" cy="162.7" r="2.7" fill="#05154c"/><circle cx="554.5" cy="178.3" r="2.7" fill="#030f3f"/><circle cx="542.9" cy="162.6" r="2.6" fill="#030f3f"/><circle cx="549.8" cy="175.9" r="2.8" fill="#041246"/><circle cx="553.5" cy="175.3" r="2.7" fill="#05154c"/><circle cx="542.9" cy="157.8" r="2.1" fill="#030f3f"/><circle cx="554.4" cy="175.2" r="2.3" fill="#041246"/><circle cx="552.8" cy="166.9" r="2.7" fill="#05154c"/><circle cx="551.8" cy="170.6" r="2.6" fill="#05154c"/><circle cx="547.5" cy="174.2" r="2.1" fill="#030f3f"/><circle cx="543.4" cy="168.0" r="2.1" fill="#041246"/><circle cx="549.9" cy="165.7" r="2.9" fill="#030f3f"/><circle cx="545.3" cy="169.2" r="2.4" fill="#05154c"/><circle cx="557.1" cy="173.3" r="2.4" fill="#05154c"/><circle cx="557.8" cy="170.9" r="2.2" fill="#041246"/><circle cx="559.9" cy="161.1" r="2.5" fill="#05154c"/><circle cx="554.4" cy="167.9" r="2.4" fill="#041246"/><circle cx="544.1" cy="169.2" r="2.5" fill="#05154c"/><circle cx="545.4" cy="179.9" r="2.1" fill="#030f3f"/><circle cx="539.8" cy="170.5" r="2.6" fill="#05154c"/><circle cx="537.5" cy="162.2" r="2.1" fill="#05154c"/><circle cx="539.4" cy="161.1" r="2.6" fill="#030f3f"/></g>
<g filter="url(#blur08)" opacity="1.00"><circle cx="542.8" cy="167.0" r="2.1" fill="#07195c"/><circle cx="550.8" cy="171.3" r="2.3" fill="#071652"/><circle cx="542.9" cy="166.3" r="1.7" fill="#07195c"/><circle cx="546.5" cy="175.1" r="1.9" fill="#071652"/><circle cx="547.4" cy="168.3" r="2.3" fill="#071652"/><circle cx="542.6" cy="175.4" r="1.8" fill="#071652"/><circle cx="559.5" cy="161.5" r="1.8" fill="#071652"/><circle cx="558.9" cy="169.6" r="1.8" fill="#07195c"/><circle cx="542.2" cy="165.2" r="1.7" fill="#071652"/><circle cx="555.0" cy="163.0" r="2.3" fill="#07195c"/><circle cx="539.9" cy="163.2" r="2.1" fill="#071652"/><circle cx="558.4" cy="165.0" r="2.3" fill="#07195c"/><circle cx="543.2" cy="163.8" r="2.2" fill="#091c63"/><circle cx="556.4" cy="170.7" r="1.6" fill="#07195c"/></g>
<text x="553.8" y="195.9" font-size="10.0" text-anchor="middle" fill="#fff" stroke="#fff" stroke-width="0.22" >600 s</text>
<polygon points="576.9,161.0 581.9,158.0 587.9,156.5 593.9,157.5 599.9,156.5 605.9,158.0 610.9,161.0 610.4,168.0 605.9,174.0 601.9,179.0 597.9,182.5 589.9,182.5 585.9,179.0 581.9,174.0 577.4,168.0" fill="#05124c" filter="url(#blur2)" opacity="0.6"/>
<g filter="url(#blur08)" opacity="1.00"><circle cx="589.6" cy="162.4" r="2.8" fill="#030e3b"/><circle cx="589.6" cy="178.8" r="2.6" fill="#030e3b"/><circle cx="593.3" cy="180.1" r="2.3" fill="#041141"/><circle cx="595.1" cy="168.2" r="2.4" fill="#030e3b"/><circle cx="605.7" cy="170.1" r="2.4" fill="#041141"/><circle cx="587.0" cy="174.4" r="2.1" fill="#051347"/><circle cx="586.4" cy="159.6" r="2.5" fill="#030e3b"/><circle cx="582.5" cy="161.7" r="2.8" fill="#051347"/><circle cx="581.3" cy="170.8" r="2.0" fill="#041141"/><circle cx="592.1" cy="180.7" r="2.7" fill="#041141"/><circle cx="586.2" cy="177.2" r="2.8" fill="#041141"/><circle cx="602.0" cy="162.1" r="2.5" fill="#041141"/><circle cx="588.9" cy="178.1" r="2.7" fill="#041141"/><circle cx="590.9" cy="165.3" r="2.4" fill="#051347"/><circle cx="588.4" cy="164.8" r="2.3" fill="#041141"/><circle cx="597.4" cy="171.5" r="2.4" fill="#030e3b"/><circle cx="589.8" cy="167.4" r="2.6" fill="#051347"/><circle cx="596.5" cy="161.6" r="2.1" fill="#030e3b"/><circle cx="585.6" cy="170.8" r="2.7" fill="#030e3b"/><circle cx="584.5" cy="169.4" r="2.5" fill="#051347"/><circle cx="593.1" cy="177.9" r="2.2" fill="#041141"/><circle cx="594.3" cy="177.7" r="2.9" fill="#041141"/><circle cx="599.1" cy="172.8" r="2.7" fill="#030e3b"/><circle cx="593.4" cy="175.3" r="2.3" fill="#030e3b"/><circle cx="583.1" cy="168.2" r="2.8" fill="#030e3b"/><circle cx="598.4" cy="169.3" r="2.3" fill="#030e3b"/><circle cx="595.9" cy="159.7" r="2.7" fill="#041141"/><circle cx="592.1" cy="174.8" r="2.4" fill="#030e3b"/><circle cx="587.8" cy="158.2" r="2.6" fill="#041141"/><circle cx="588.5" cy="163.2" r="2.7" fill="#051347"/><circle cx="590.8" cy="174.3" r="2.1" fill="#030e3b"/><circle cx="590.3" cy="172.7" r="2.4" fill="#041141"/><circle cx="601.2" cy="165.7" r="2.7" fill="#051347"/><circle cx="597.0" cy="162.9" r="2.3" fill="#030e3b"/><circle cx="579.4" cy="165.8" r="2.3" fill="#051347"/><circle cx="597.3" cy="167.9" r="2.0" fill="#030e3b"/><circle cx="590.0" cy="178.3" r="2.2" fill="#041141"/><circle cx="595.9" cy="171.2" r="2.8" fill="#041141"/><circle cx="596.0" cy="171.8" r="2.6" fill="#041141"/><circle cx="594.7" cy="165.8" r="2.3" fill="#041141"/><circle cx="591.3" cy="163.8" r="2.5" fill="#030e3b"/><circle cx="594.8" cy="173.4" r="2.8" fill="#041141"/><circle cx="598.8" cy="178.3" r="2.6" fill="#041141"/><circle cx="601.1" cy="165.6" r="2.3" fill="#051347"/><circle cx="606.0" cy="170.1" r="2.4" fill="#030e3b"/><circle cx="591.9" cy="178.0" r="2.9" fill="#051347"/><circle cx="587.2" cy="162.3" r="2.1" fill="#030e3b"/><circle cx="597.0" cy="161.7" r="2.1" fill="#041141"/></g>
<g filter="url(#blur08)" opacity="1.00"><circle cx="584.3" cy="166.1" r="1.6" fill="#06154e"/><circle cx="581.0" cy="162.4" r="2.2" fill="#071857"/><circle cx="595.3" cy="172.0" r="2.2" fill="#06154e"/><circle cx="591.0" cy="166.3" r="1.7" fill="#071857"/><circle cx="599.9" cy="171.0" r="2.0" fill="#071857"/><circle cx="587.1" cy="167.0" r="1.8" fill="#06154e"/><circle cx="601.4" cy="174.0" r="2.2" fill="#081b5f"/><circle cx="598.4" cy="176.3" r="2.1" fill="#071857"/><circle cx="586.9" cy="161.3" r="2.0" fill="#081b5f"/><circle cx="593.0" cy="162.3" r="2.2" fill="#071857"/><circle cx="590.9" cy="165.1" r="2.3" fill="#071857"/><circle cx="597.8" cy="161.9" r="2.1" fill="#071857"/><circle cx="591.5" cy="160.7" r="2.4" fill="#06154e"/><circle cx="603.1" cy="169.3" r="1.9" fill="#06154e"/></g>
<text x="600.7" y="195.9" font-size="10.0" text-anchor="middle" fill="#fff" stroke="#fff" stroke-width="0.22" >1800 s</text>
<polygon points="622.0,161.0 627.0,158.0 633.0,156.5 639.0,157.5 645.0,156.5 651.0,158.0 656.0,161.0 655.5,168.0 651.0,174.0 647.0,179.0 643.0,182.5 635.0,182.5 631.0,179.0 627.0,174.0 622.5,168.0" fill="#030a30" filter="url(#blur2)" opacity="0.6"/>
<g filter="url(#blur08)" opacity="1.00"><circle cx="638.1" cy="178.6" r="2.1" fill="#030c2e"/><circle cx="637.6" cy="180.1" r="2.7" fill="#020823"/><circle cx="640.0" cy="160.1" r="2.7" fill="#020823"/><circle cx="633.4" cy="160.2" r="2.2" fill="#030a2a"/><circle cx="638.0" cy="163.3" r="2.2" fill="#030a2a"/><circle cx="641.1" cy="158.9" r="2.6" fill="#020823"/><circle cx="647.5" cy="162.4" r="2.4" fill="#020823"/><circle cx="638.7" cy="175.6" r="2.8" fill="#030c2e"/><circle cx="651.4" cy="169.4" r="2.2" fill="#030c2e"/><circle cx="633.4" cy="159.6" r="2.6" fill="#030a2a"/><circle cx="625.9" cy="161.5" r="2.1" fill="#020823"/><circle cx="648.0" cy="167.9" r="2.3" fill="#030a2a"/><circle cx="646.3" cy="161.7" r="2.1" fill="#030a2a"/><circle cx="641.8" cy="171.9" r="2.7" fill="#030a2a"/><circle cx="630.9" cy="175.5" r="2.8" fill="#030c2e"/><circle cx="638.5" cy="162.8" r="2.4" fill="#020823"/><circle cx="649.4" cy="172.0" r="2.6" fill="#020823"/><circle cx="640.7" cy="176.0" r="2.9" fill="#030a2a"/><circle cx="637.6" cy="159.3" r="2.6" fill="#030c2e"/><circle cx="649.2" cy="166.6" r="2.6" fill="#030c2e"/><circle cx="639.2" cy="176.5" r="2.5" fill="#030c2e"/><circle cx="627.6" cy="159.6" r="2.0" fill="#030a2a"/><circle cx="631.2" cy="161.0" r="2.6" fill="#020823"/><circle cx="631.3" cy="161.3" r="2.5" fill="#030a2a"/><circle cx="638.0" cy="169.0" r="2.7" fill="#030a2a"/><circle cx="652.8" cy="164.2" r="2.4" fill="#020823"/><circle cx="638.3" cy="168.6" r="2.2" fill="#030a2a"/><circle cx="650.8" cy="167.1" r="2.6" fill="#030c2e"/><circle cx="653.8" cy="165.3" r="2.7" fill="#030a2a"/><circle cx="637.1" cy="162.1" r="2.7" fill="#030a2a"/><circle cx="631.1" cy="165.5" r="2.8" fill="#030a2a"/><circle cx="652.2" cy="165.0" r="2.6" fill="#030c2e"/><circle cx="633.6" cy="170.2" r="2.8" fill="#030a2a"/><circle cx="628.4" cy="172.0" r="2.8" fill="#030a2a"/><circle cx="633.2" cy="158.9" r="2.4" fill="#020823"/><circle cx="636.8" cy="159.8" r="2.4" fill="#030a2a"/><circle cx="639.7" cy="177.9" r="2.2" fill="#030c2e"/><circle cx="649.4" cy="164.4" r="2.3" fill="#030a2a"/><circle cx="644.7" cy="158.4" r="2.1" fill="#030a2a"/><circle cx="633.0" cy="167.6" r="2.1" fill="#030a2a"/><circle cx="635.5" cy="172.2" r="2.5" fill="#030a2a"/><circle cx="642.0" cy="169.2" r="2.7" fill="#030a2a"/><circle cx="648.1" cy="164.2" r="2.1" fill="#020823"/><circle cx="646.8" cy="165.6" r="2.2" fill="#020823"/><circle cx="647.0" cy="175.4" r="2.7" fill="#020823"/><circle cx="624.7" cy="161.7" r="2.4" fill="#020823"/><circle cx="644.1" cy="179.4" r="2.2" fill="#030a2a"/><circle cx="643.1" cy="179.5" r="2.8" fill="#030a2a"/></g>
<g filter="url(#blur08)" opacity="1.00"><circle cx="638.7" cy="162.6" r="1.7" fill="#030c2d"/><circle cx="649.6" cy="170.8" r="2.1" fill="#051039"/><circle cx="628.0" cy="169.7" r="1.9" fill="#040e33"/><circle cx="639.7" cy="161.8" r="1.8" fill="#051039"/><circle cx="640.7" cy="178.6" r="1.9" fill="#030c2d"/><circle cx="645.9" cy="162.7" r="2.1" fill="#051039"/><circle cx="630.7" cy="168.5" r="1.9" fill="#051039"/><circle cx="643.3" cy="174.1" r="2.3" fill="#040e33"/><circle cx="646.2" cy="161.5" r="2.1" fill="#051039"/><circle cx="632.5" cy="163.7" r="2.2" fill="#030c2d"/><circle cx="645.8" cy="162.6" r="2.2" fill="#051039"/><circle cx="638.5" cy="171.1" r="2.3" fill="#051039"/><circle cx="643.0" cy="169.8" r="1.8" fill="#040e33"/><circle cx="637.1" cy="179.0" r="1.9" fill="#030c2d"/></g>
<text x="647.3" y="195.9" font-size="10.0" text-anchor="middle" fill="#fff" stroke="#fff" stroke-width="0.22" >3600 s</text>
<rect x="333.6" y="7.5" width="345.4" height="199.0" fill="none" stroke="#9a9a9a" stroke-width="0.8"/>
<line x1="333.6" y1="206.5" x2="679.0" y2="206.5" stroke="#807c7c" stroke-width="0.9"/>
<line x1="333.6" y1="7.5" x2="333.6" y2="206.5" stroke="#666" stroke-width="0.9"/>
<line x1="358.0" y1="206.5" x2="358.0" y2="210.1" stroke="#7a7676" stroke-width="0.8"/>
<text x="358.0" y="225.3" font-size="11.3" text-anchor="middle" fill="#000" stroke="#000" stroke-width="0.22" >0</text>
<line x1="390.1" y1="206.5" x2="390.1" y2="208.7" stroke="#7a7676" stroke-width="0.8"/>
<line x1="422.2" y1="206.5" x2="422.2" y2="210.1" stroke="#7a7676" stroke-width="0.8"/>
<text x="422.2" y="225.3" font-size="11.3" text-anchor="middle" fill="#000" stroke="#000" stroke-width="0.22" >2</text>
<line x1="454.3" y1="206.5" x2="454.3" y2="208.7" stroke="#7a7676" stroke-width="0.8"/>
<line x1="486.4" y1="206.5" x2="486.4" y2="210.1" stroke="#7a7676" stroke-width="0.8"/>
<text x="486.4" y="225.3" font-size="11.3" text-anchor="middle" fill="#000" stroke="#000" stroke-width="0.22" >4</text>
<line x1="518.5" y1="206.5" x2="518.5" y2="208.7" stroke="#7a7676" stroke-width="0.8"/>
<line x1="550.6" y1="206.5" x2="550.6" y2="210.1" stroke="#7a7676" stroke-width="0.8"/>
<text x="550.6" y="225.3" font-size="11.3" text-anchor="middle" fill="#000" stroke="#000" stroke-width="0.22" >6</text>
<line x1="582.7" y1="206.5" x2="582.7" y2="208.7" stroke="#7a7676" stroke-width="0.8"/>
<line x1="614.8" y1="206.5" x2="614.8" y2="210.1" stroke="#7a7676" stroke-width="0.8"/>
<text x="614.8" y="225.3" font-size="11.3" text-anchor="middle" fill="#000" stroke="#000" stroke-width="0.22" >8</text>
<line x1="646.9" y1="206.5" x2="646.9" y2="208.7" stroke="#7a7676" stroke-width="0.8"/>
<line x1="679.0" y1="206.5" x2="679.0" y2="210.1" stroke="#7a7676" stroke-width="0.8"/>
<text x="679.0" y="225.3" font-size="11.3" text-anchor="middle" fill="#000" stroke="#000" stroke-width="0.22" >10</text>
<line x1="329.0" y1="206.4" x2="333.6" y2="206.4" stroke="#777" stroke-width="0.7"/>
<line x1="331.5" y1="177.6" x2="333.6" y2="177.6" stroke="#777" stroke-width="0.7"/>
<line x1="331.5" y1="160.8" x2="333.6" y2="160.8" stroke="#777" stroke-width="0.7"/>
<line x1="331.5" y1="148.8" x2="333.6" y2="148.8" stroke="#777" stroke-width="0.7"/>
<line x1="331.5" y1="139.6" x2="333.6" y2="139.6" stroke="#777" stroke-width="0.7"/>
<line x1="331.5" y1="132.0" x2="333.6" y2="132.0" stroke="#777" stroke-width="0.7"/>
<line x1="331.5" y1="125.6" x2="333.6" y2="125.6" stroke="#777" stroke-width="0.7"/>
<line x1="331.5" y1="120.1" x2="333.6" y2="120.1" stroke="#777" stroke-width="0.7"/>
<line x1="331.5" y1="115.2" x2="333.6" y2="115.2" stroke="#777" stroke-width="0.7"/>
<line x1="329.0" y1="110.8" x2="333.6" y2="110.8" stroke="#777" stroke-width="0.7"/>
<line x1="331.5" y1="82.0" x2="333.6" y2="82.0" stroke="#777" stroke-width="0.7"/>
<line x1="331.5" y1="65.2" x2="333.6" y2="65.2" stroke="#777" stroke-width="0.7"/>
<line x1="331.5" y1="53.2" x2="333.6" y2="53.2" stroke="#777" stroke-width="0.7"/>
<line x1="331.5" y1="44.0" x2="333.6" y2="44.0" stroke="#777" stroke-width="0.7"/>
<line x1="331.5" y1="36.4" x2="333.6" y2="36.4" stroke="#777" stroke-width="0.7"/>
<line x1="331.5" y1="30.0" x2="333.6" y2="30.0" stroke="#777" stroke-width="0.7"/>
<line x1="331.5" y1="24.5" x2="333.6" y2="24.5" stroke="#777" stroke-width="0.7"/>
<line x1="331.5" y1="19.6" x2="333.6" y2="19.6" stroke="#777" stroke-width="0.7"/>
<line x1="329.0" y1="15.2" x2="333.6" y2="15.2" stroke="#777" stroke-width="0.7"/>
<text x="323.2" y="19.5" font-size="11.2" text-anchor="end">10<tspan dy="-5.2" font-size="7.6">5</tspan></text>
<text x="323.2" y="115.1" font-size="11.2" text-anchor="end">10<tspan dy="-5.2" font-size="7.6">4</tspan></text>
<text x="323.2" y="210.7" font-size="11.2" text-anchor="end">10<tspan dy="-5.2" font-size="7.6">3</tspan></text>
<text x="506.5" y="242.9" font-size="11.45" text-anchor="middle" fill="#000" stroke="#000" stroke-width="0.22" >PersL time (h)</text>
<text transform="translate(297.2,107.3) rotate(-90)" font-size="11.45" text-anchor="middle" fill="#000" stroke="#000" stroke-width="0.22" >PersL intensity</text>
<text x="369.5" y="21.0" font-size="10.0" text-anchor="start" fill="#000" stroke="#000" stroke-width="0.22" >X-ray off</text>
<text x="340.4" y="113.2" font-size="9.8" text-anchor="start" fill="#000" stroke="#000" stroke-width="0.22" >Em@450 nm</text>
<text x="340.2" y="130.0" font-size="9.7" text-anchor="start" fill="#a8a8a8" stroke="#a8a8a8" stroke-width="0.22" >Background</text>
<rect x="528.0" y="7.5" width="150.6" height="78.2" fill="#fff" stroke="#9a9a9a" stroke-width="0.8"/>
<line x1="541.5" y1="85.7" x2="541.5" y2="88.9" stroke="#7a7676" stroke-width="0.8"/>
<text x="541.5" y="101.4" font-size="9.7" text-anchor="middle" fill="#000" stroke="#000" stroke-width="0.22" >0</text>
<line x1="561.9" y1="85.7" x2="561.9" y2="87.7" stroke="#7a7676" stroke-width="0.8"/>
<line x1="582.3" y1="85.7" x2="582.3" y2="88.9" stroke="#7a7676" stroke-width="0.8"/>
<text x="582.3" y="101.4" font-size="9.7" text-anchor="middle" fill="#000" stroke="#000" stroke-width="0.22" >300</text>
<line x1="602.6" y1="85.7" x2="602.6" y2="87.7" stroke="#7a7676" stroke-width="0.8"/>
<line x1="623.0" y1="85.7" x2="623.0" y2="88.9" stroke="#7a7676" stroke-width="0.8"/>
<text x="623.0" y="101.4" font-size="9.7" text-anchor="middle" fill="#000" stroke="#000" stroke-width="0.22" >600</text>
<line x1="643.4" y1="85.7" x2="643.4" y2="87.7" stroke="#7a7676" stroke-width="0.8"/>
<line x1="663.8" y1="85.7" x2="663.8" y2="88.9" stroke="#7a7676" stroke-width="0.8"/>
<text x="663.8" y="101.4" font-size="9.7" text-anchor="middle" fill="#000" stroke="#000" stroke-width="0.22" >900</text>
<text x="603.2" y="114.0" font-size="9.8" text-anchor="middle" fill="#000" stroke="#000" stroke-width="0.22" >Charging time (s)</text>
<text transform="translate(522.3,46.0) rotate(-90)" font-size="9.7" text-anchor="middle" fill="#000" stroke="#000" stroke-width="0.22" >Intensity</text>
<path d="M542.00,72.00 L543.55,69.45 L545.10,67.01 L546.65,64.67 L548.20,62.42 L549.75,60.28 L551.30,58.22 L552.85,56.25 L554.41,54.37 L555.96,52.56 L557.51,50.83 L559.06,49.17 L560.61,47.58 L562.16,46.06 L563.71,44.60 L565.26,43.21 L566.81,41.87 L568.36,40.59 L569.91,39.36 L571.46,38.19 L573.01,37.06 L574.56,35.99 L576.11,34.95 L577.66,33.97 L579.22,33.02 L580.77,32.11 L582.32,31.24 L583.87,30.41 L585.42,29.61 L586.97,28.85 L588.52,28.12 L590.07,27.42 L591.62,26.75 L593.17,26.10 L594.72,25.49 L596.27,24.90 L597.82,24.33 L599.37,23.79 L600.92,23.27 L602.47,22.78 L604.03,22.30 L605.58,21.85 L607.13,21.41 L608.68,20.99 L610.23,20.59 L611.78,20.21 L613.33,19.84 L614.88,19.49 L616.43,19.15 L617.98,18.83 L619.53,18.52 L621.08,18.23 L622.63,17.94 L624.18,17.67 L625.73,17.41 L627.28,17.16 L628.84,16.92 L630.39,16.69 L631.94,16.47 L633.49,16.27 L635.04,16.06 L636.59,15.87 L638.14,15.69 L639.69,15.51 L641.24,15.34 L642.79,15.18 L644.34,15.02 L645.89,14.88 L647.44,14.73 L648.99,14.60 L650.54,14.47 L652.09,14.34 L653.65,14.22 L655.20,14.11 L656.75,14.00 L658.30,13.89 L659.85,13.79 L661.40,13.69 L662.95,13.60 L664.50,13.51" fill="none" stroke="#3a44b0" stroke-width="0.85" stroke-dasharray="2.2,1.3"/>
<circle cx="542.7" cy="70.8" r="2.1" fill="#bfe2fb" stroke="#2b5fd8" stroke-width="0.9"/>
<circle cx="545.8" cy="64.7" r="2.1" fill="#bfe2fb" stroke="#2b5fd8" stroke-width="0.9"/>
<circle cx="566.0" cy="41.4" r="2.1" fill="#bfe2fb" stroke="#2b5fd8" stroke-width="0.9"/>
<circle cx="606.8" cy="18.4" r="2.1" fill="#bfe2fb" stroke="#2b5fd8" stroke-width="0.9"/>
<circle cx="664.1" cy="12.9" r="2.1" fill="#bfe2fb" stroke="#2b5fd8" stroke-width="0.9"/>
<text x="673.3" y="76.8" font-size="10.0" text-anchor="end" fill="#000" stroke="#000" stroke-width="0.22" >Cs<tspan dy="2.0" font-size="6.0">2</tspan><tspan dy="-2.0">NaScCl</tspan><tspan dy="2.0" font-size="6.0">6</tspan><tspan dy="-2.0">:Sb</tspan></text>
<text x="-0.5" y="275.2" font-size="17.5" text-anchor="start" fill="#000" stroke="#000" stroke-width="0.22" font-weight="bold">c</text>
<rect x="58.5" y="271.4" width="40.7" height="77.6" fill="#f6f6f6"/>
<rect x="139.0" y="271.4" width="40.8" height="77.6" fill="#f6f6f6"/>
<rect x="220.5" y="271.4" width="42.3" height="77.6" fill="#f6f6f6"/>
<line x1="19.3" y1="344.2" x2="262.8" y2="344.2" stroke="#8a8a8a" stroke-width="0.7" stroke-dasharray="1.6,1.4"/>
<path d="M19.60,344.94 L19.90,344.51 L20.20,341.22 L20.50,343.61 L20.80,344.88 L21.10,344.57 L21.40,345.85 L21.70,342.19 L22.00,344.90 L22.30,343.14 L22.60,344.41 L22.90,344.72 L23.20,345.14 L23.50,343.25 L23.80,344.39 L24.10,342.36 L24.40,342.00 L24.70,344.95 L25.00,344.03 L25.30,341.69 L25.60,342.84 L25.90,344.14 L26.20,346.45 L26.50,345.68 L26.80,345.31 L27.10,341.44 L27.40,343.97 L27.70,344.83 L28.00,344.70 L28.30,344.74 L28.60,343.76 L28.90,346.75 L29.20,346.33 L29.50,343.97 L29.80,342.64 L30.10,347.19 L30.40,343.28 L30.70,345.91 L31.00,346.98 L31.30,342.70 L31.60,344.55 L31.90,343.59 L32.20,344.88 L32.50,344.59" fill="none" stroke="#505050" stroke-width="0.8"/>
<path d="M19.30,274.90 L58.30,275.00 L58.50,290.00 L58.70,310.50 L59.20,312.60 L59.40,312.90 L60.77,313.22 L62.13,313.52 L63.50,313.79 L64.86,314.05 L66.23,314.28 L67.59,314.50 L68.96,314.71 L70.32,314.90 L71.69,315.07 L73.06,315.23 L74.42,315.38 L75.79,315.52 L77.15,315.65 L78.52,315.77 L79.88,315.88 L81.25,315.98 L82.61,316.08 L83.98,316.17 L85.34,316.25 L86.71,316.32 L88.08,316.39 L89.44,316.46 L90.81,316.52 L92.17,316.58 L93.54,316.63 L94.90,316.68 L96.27,316.72 L97.63,316.76 L99.00,316.80 L99.20,300.00 L99.50,274.30 L138.80,275.00 L139.00,290.00 L139.20,307.60 L139.70,309.20 L139.90,309.40 L141.27,309.76 L142.64,310.10 L144.01,310.41 L145.38,310.70 L146.74,310.96 L148.11,311.21 L149.48,311.44 L150.85,311.65 L152.22,311.85 L153.59,312.03 L154.96,312.20 L156.33,312.36 L157.70,312.50 L159.07,312.64 L160.43,312.76 L161.80,312.88 L163.17,312.99 L164.54,313.09 L165.91,313.18 L167.28,313.26 L168.65,313.34 L170.02,313.42 L171.39,313.48 L172.76,313.55 L174.12,313.61 L175.49,313.66 L176.86,313.71 L178.23,313.76 L179.60,313.80 L179.80,300.00 L180.10,274.30 L220.30,275.30 L220.50,290.00 L220.70,306.80 L221.20,308.50 L221.40,308.70 L222.83,309.00 L224.26,309.27 L225.68,309.52 L227.11,309.76 L228.54,309.98 L229.97,310.18 L231.39,310.37 L232.82,310.54 L234.25,310.70 L235.68,310.85 L237.10,310.99 L238.53,311.12 L239.96,311.24 L241.39,311.35 L242.81,311.45 L244.24,311.55 L245.67,311.63 L247.10,311.72 L248.52,311.79 L249.95,311.86 L251.38,311.93 L252.81,311.99 L254.23,312.04 L255.66,312.09 L257.09,312.14 L258.52,312.19 L259.94,312.23 L261.37,312.26 L262.80,312.30" fill="none" stroke="#2a52ee" stroke-width="1.2" stroke-linejoin="round"/>
<rect x="19.3" y="271.4" width="243.5" height="77.6" fill="none" stroke="#9a9a9a" stroke-width="0.8"/>
<line x1="19.3" y1="349.0" x2="262.8" y2="349.0" stroke="#807c7c" stroke-width="0.9"/>
<line x1="19.3" y1="349.0" x2="19.3" y2="352.6" stroke="#7a7676" stroke-width="0.8"/>
<text x="19.3" y="367.3" font-size="11.3" text-anchor="middle" fill="#000" stroke="#000" stroke-width="0.22" >0</text>
<line x1="52.9" y1="349.0" x2="52.9" y2="351.2" stroke="#7a7676" stroke-width="0.8"/>
<line x1="86.6" y1="349.0" x2="86.6" y2="352.6" stroke="#7a7676" stroke-width="0.8"/>
<text x="86.6" y="367.3" font-size="11.3" text-anchor="middle" fill="#000" stroke="#000" stroke-width="0.22" >1500</text>
<line x1="120.2" y1="349.0" x2="120.2" y2="351.2" stroke="#7a7676" stroke-width="0.8"/>
<line x1="153.8" y1="349.0" x2="153.8" y2="352.6" stroke="#7a7676" stroke-width="0.8"/>
<text x="153.8" y="367.3" font-size="11.3" text-anchor="middle" fill="#000" stroke="#000" stroke-width="0.22" >3000</text>
<line x1="187.5" y1="349.0" x2="187.5" y2="351.2" stroke="#7a7676" stroke-width="0.8"/>
<line x1="221.1" y1="349.0" x2="221.1" y2="352.6" stroke="#7a7676" stroke-width="0.8"/>
<text x="221.1" y="367.3" font-size="11.3" text-anchor="middle" fill="#000" stroke="#000" stroke-width="0.22" >4500</text>
<line x1="254.7" y1="349.0" x2="254.7" y2="351.2" stroke="#7a7676" stroke-width="0.8"/>
<line x1="15.8" y1="274.6" x2="19.3" y2="274.6" stroke="#777" stroke-width="0.7"/>
<line x1="17.7" y1="289.4" x2="19.3" y2="289.4" stroke="#999" stroke-width="0.5"/>
<line x1="17.7" y1="285.7" x2="19.3" y2="285.7" stroke="#999" stroke-width="0.5"/>
<line x1="17.7" y1="283.0" x2="19.3" y2="283.0" stroke="#999" stroke-width="0.5"/>
<line x1="17.7" y1="281.0" x2="19.3" y2="281.0" stroke="#999" stroke-width="0.5"/>
<line x1="17.7" y1="279.3" x2="19.3" y2="279.3" stroke="#999" stroke-width="0.5"/>
<line x1="17.7" y1="277.9" x2="19.3" y2="277.9" stroke="#999" stroke-width="0.5"/>
<line x1="17.7" y1="276.6" x2="19.3" y2="276.6" stroke="#999" stroke-width="0.5"/>
<line x1="17.7" y1="275.6" x2="19.3" y2="275.6" stroke="#999" stroke-width="0.5"/>
<line x1="15.8" y1="295.8" x2="19.3" y2="295.8" stroke="#777" stroke-width="0.7"/>
<line x1="17.7" y1="310.5" x2="19.3" y2="310.5" stroke="#999" stroke-width="0.5"/>
<line x1="17.7" y1="306.8" x2="19.3" y2="306.8" stroke="#999" stroke-width="0.5"/>
<line x1="17.7" y1="304.2" x2="19.3" y2="304.2" stroke="#999" stroke-width="0.5"/>
<line x1="17.7" y1="302.1" x2="19.3" y2="302.1" stroke="#999" stroke-width="0.5"/>
<line x1="17.7" y1="300.4" x2="19.3" y2="300.4" stroke="#999" stroke-width="0.5"/>
<line x1="17.7" y1="299.0" x2="19.3" y2="299.0" stroke="#999" stroke-width="0.5"/>
<line x1="17.7" y1="297.8" x2="19.3" y2="297.8" stroke="#999" stroke-width="0.5"/>
<line x1="17.7" y1="296.7" x2="19.3" y2="296.7" stroke="#999" stroke-width="0.5"/>
<line x1="15.8" y1="316.9" x2="19.3" y2="316.9" stroke="#777" stroke-width="0.7"/>
<line x1="17.7" y1="331.7" x2="19.3" y2="331.7" stroke="#999" stroke-width="0.5"/>
<line x1="17.7" y1="328.0" x2="19.3" y2="328.0" stroke="#999" stroke-width="0.5"/>
<line x1="17.7" y1="325.3" x2="19.3" y2="325.3" stroke="#999" stroke-width="0.5"/>
<line x1="17.7" y1="323.3" x2="19.3" y2="323.3" stroke="#999" stroke-width="0.5"/>
<line x1="17.7" y1="321.6" x2="19.3" y2="321.6" stroke="#999" stroke-width="0.5"/>
<line x1="17.7" y1="320.2" x2="19.3" y2="320.2" stroke="#999" stroke-width="0.5"/>
<line x1="17.7" y1="318.9" x2="19.3" y2="318.9" stroke="#999" stroke-width="0.5"/>
<line x1="17.7" y1="317.9" x2="19.3" y2="317.9" stroke="#999" stroke-width="0.5"/>
<line x1="15.8" y1="338.1" x2="19.3" y2="338.1" stroke="#777" stroke-width="0.7"/>
<line x1="17.7" y1="346.5" x2="19.3" y2="346.5" stroke="#999" stroke-width="0.5"/>
<line x1="17.7" y1="344.4" x2="19.3" y2="344.4" stroke="#999" stroke-width="0.5"/>
<line x1="17.7" y1="342.7" x2="19.3" y2="342.7" stroke="#999" stroke-width="0.5"/>
<line x1="17.7" y1="341.3" x2="19.3" y2="341.3" stroke="#999" stroke-width="0.5"/>
<line x1="17.7" y1="340.1" x2="19.3" y2="340.1" stroke="#999" stroke-width="0.5"/>
<line x1="17.7" y1="339.0" x2="19.3" y2="339.0" stroke="#999" stroke-width="0.5"/>
<text x="141.1" y="384.7" font-size="11.45" text-anchor="middle" fill="#000" stroke="#000" stroke-width="0.22" >PersL time (s)</text>
<text transform="translate(8.9,309.5) rotate(-90)" font-size="11.45" text-anchor="middle" fill="#000" stroke="#000" stroke-width="0.22" >Int.</text>
<text x="20.6" y="285.4" font-size="10.0" text-anchor="start" fill="#000" stroke="#000" stroke-width="0.22" >X-ray on</text>
<text x="61.0" y="328.4" font-size="10.0" text-anchor="start" fill="#000" stroke="#000" stroke-width="0.22" >X-ray off</text>
<text x="261.6" y="340.8" font-size="9.7" text-anchor="end" fill="#a8a8a8" stroke="#a8a8a8" stroke-width="0.22" >Background</text>
<text x="-0.5" y="408.0" font-size="17.5" text-anchor="start" fill="#000" stroke="#000" stroke-width="0.22" font-weight="bold">d</text>
<line x1="152.3" y1="421.3" x2="152.3" y2="431.0" stroke="#999" stroke-width="0.6" stroke-dasharray="1.2,1"/>
<path d="M19.00,475.58 L20.23,475.58 L21.45,475.57 L22.68,475.57 L23.91,475.56 L25.14,475.55 L26.36,475.55 L27.59,475.54 L28.82,475.53 L30.04,475.52 L31.27,475.52 L32.50,475.51 L33.73,475.50 L34.95,475.49 L36.18,475.48 L37.41,475.47 L38.63,475.45 L39.86,475.44 L41.09,475.42 L42.32,475.41 L43.54,475.39 L44.77,475.37 L46.00,475.35 L47.22,475.32 L48.45,475.30 L49.68,475.27 L50.91,475.25 L52.13,475.22 L53.36,475.19 L54.59,475.15 L55.81,475.10 L57.04,475.05 L58.27,474.99 L59.50,474.92 L60.72,474.85 L61.95,474.77 L63.18,474.69 L64.40,474.61 L65.63,474.50 L66.86,474.39 L68.09,474.26 L69.31,474.12 L70.54,473.97 L71.77,473.80 L72.99,473.61 L74.22,473.38 L75.45,473.13 L76.68,472.85 L77.90,472.55 L79.13,472.23 L80.36,471.91 L81.58,471.57 L82.81,471.20 L84.04,470.81 L85.27,470.39 L86.49,469.94 L87.72,469.47 L88.95,468.96 L90.17,468.41 L91.40,467.80 L92.63,467.15 L93.86,466.47 L95.08,465.75 L96.31,465.00 L97.54,464.23 L98.76,463.40 L99.99,462.51 L101.22,461.59 L102.45,460.62 L103.67,459.64 L104.90,458.63 L106.13,457.61 L107.35,456.55 L108.58,455.45 L109.81,454.32 L111.04,453.17 L112.26,452.02 L113.49,450.88 L114.72,449.72 L115.94,448.54 L117.17,447.35 L118.40,446.15 L119.63,444.97 L120.85,443.80 L122.08,442.65 L123.31,441.53 L124.53,440.40 L125.76,439.29 L126.99,438.19 L128.22,437.12 L129.44,436.09 L130.67,435.12 L131.90,434.18 L133.12,433.25 L134.35,432.36 L135.58,431.50 L136.81,430.68 L138.03,429.92 L139.26,429.21 L140.49,428.55 L141.71,427.90 L142.94,427.30 L144.17,426.78 L145.39,426.36 L146.62,426.04 L147.85,425.73 L149.08,425.46 L150.30,425.25 L151.53,425.12 L152.76,425.11 L153.98,425.18 L155.21,425.33 L156.44,425.53 L157.67,425.76 L158.89,426.01 L160.12,426.35 L161.35,426.78 L162.57,427.28 L163.80,427.83 L165.03,428.40 L166.26,428.97 L167.48,429.58 L168.71,430.23 L169.94,430.92 L171.16,431.64 L172.39,432.40 L173.62,433.18 L174.85,433.98 L176.07,434.85 L177.30,435.76 L178.53,436.70 L179.75,437.66 L180.98,438.63 L182.21,439.59 L183.44,440.54 L184.66,441.48 L185.89,442.44 L187.12,443.39 L188.34,444.35 L189.57,445.31 L190.80,446.26 L192.03,447.20 L193.25,448.14 L194.48,449.07 L195.71,450.02 L196.93,450.96 L198.16,451.89 L199.39,452.80 L200.62,453.66 L201.84,454.47 L203.07,455.25 L204.30,456.01 L205.52,456.76 L206.75,457.49 L207.98,458.19 L209.21,458.87 L210.43,459.53 L211.66,460.15 L212.89,460.75 L214.11,461.32 L215.34,461.88 L216.57,462.42 L217.80,462.95 L219.02,463.45 L220.25,463.93 L221.48,464.38 L222.70,464.79 L223.93,465.18 L225.16,465.53 L226.39,465.87 L227.61,466.19 L228.84,466.49 L230.07,466.78 L231.29,467.05 L232.52,467.32 L233.75,467.57 L234.98,467.82 L236.20,468.06 L237.43,468.30 L238.66,468.53 L239.88,468.75 L241.11,468.96 L242.34,469.15 L243.57,469.34 L244.79,469.51 L246.02,469.67 L247.25,469.82 L248.47,469.97 L249.70,470.10 L250.93,470.23 L252.16,470.35 L253.38,470.45 L254.61,470.55 L255.84,470.63 L257.06,470.71 L258.29,470.77 L259.52,470.83 L260.75,470.89 L261.97,470.94 L263.20,470.99" fill="none" stroke="#8a3fc8" stroke-width="1.0" stroke-dasharray="3.6,2.4"/>
<path d="M19.00,475.60 L20.23,475.59 L21.45,475.59 L22.68,475.58 L23.91,475.58 L25.14,475.57 L26.36,475.57 L27.59,475.56 L28.82,475.55 L30.04,475.54 L31.27,475.54 L32.50,475.53 L33.73,475.52 L34.95,475.51 L36.18,475.50 L37.41,475.49 L38.63,475.48 L39.86,475.47 L41.09,475.46 L42.32,475.44 L43.54,475.43 L44.77,475.41 L46.00,475.39 L47.22,475.37 L48.45,475.35 L49.68,475.33 L50.91,475.30 L52.13,475.28 L53.36,475.25 L54.59,475.22 L55.81,475.19 L57.04,475.15 L58.27,475.10 L59.50,475.05 L60.72,474.99 L61.95,474.92 L63.18,474.85 L64.40,474.77 L65.63,474.68 L66.86,474.59 L68.09,474.48 L69.31,474.36 L70.54,474.23 L71.77,474.08 L72.99,473.92 L74.22,473.74 L75.45,473.53 L76.68,473.29 L77.90,473.02 L79.13,472.72 L80.36,472.41 L81.58,472.08 L82.81,471.74 L84.04,471.38 L85.27,470.99 L86.49,470.57 L87.72,470.12 L88.95,469.65 L90.17,469.14 L91.40,468.59 L92.63,467.98 L93.86,467.33 L95.08,466.63 L96.31,465.90 L97.54,465.14 L98.76,464.35 L99.99,463.51 L101.22,462.61 L102.45,461.66 L103.67,460.67 L104.90,459.66 L106.13,458.63 L107.35,457.58 L108.58,456.48 L109.81,455.35 L111.04,454.19 L112.26,453.02 L113.49,451.84 L114.72,450.66 L115.94,449.47 L117.17,448.25 L118.40,447.03 L119.63,445.80 L120.85,444.59 L122.08,443.39 L123.31,442.23 L124.53,441.08 L125.76,439.92 L126.99,438.79 L128.22,437.67 L129.44,436.59 L130.67,435.56 L131.90,434.59 L133.12,433.63 L134.35,432.70 L135.58,431.80 L136.81,430.95 L138.03,430.14 L139.26,429.40 L140.49,428.72 L141.71,428.04 L142.94,427.41 L144.17,426.86 L145.39,426.42 L146.62,426.08 L147.85,425.76 L149.08,425.48 L150.30,425.26 L151.53,425.13 L152.76,425.11 L153.98,425.19 L155.21,425.35 L156.44,425.55 L157.67,425.79 L158.89,426.05 L160.12,426.42 L161.35,426.88 L162.57,427.41 L163.80,427.99 L165.03,428.58 L166.26,429.17 L167.48,429.81 L168.71,430.49 L169.94,431.22 L171.16,431.98 L172.39,432.76 L173.62,433.58 L174.85,434.43 L176.07,435.35 L177.30,436.31 L178.53,437.29 L179.75,438.29 L180.98,439.28 L182.21,440.26 L183.44,441.23 L184.66,442.21 L185.89,443.19 L187.12,444.18 L188.34,445.16 L189.57,446.14 L190.80,447.11 L192.03,448.08 L193.25,449.04 L194.48,450.01 L195.71,450.98 L196.93,451.93 L198.16,452.87 L199.39,453.78 L200.62,454.63 L201.84,455.45 L203.07,456.25 L204.30,457.04 L205.52,457.80 L206.75,458.54 L207.98,459.25 L209.21,459.94 L210.43,460.59 L211.66,461.21 L212.89,461.82 L214.11,462.41 L215.34,462.98 L216.57,463.53 L217.80,464.05 L219.02,464.55 L220.25,465.01 L221.48,465.44 L222.70,465.83 L223.93,466.21 L225.16,466.56 L226.39,466.90 L227.61,467.22 L228.84,467.52 L230.07,467.82 L231.29,468.10 L232.52,468.38 L233.75,468.65 L234.98,468.91 L236.20,469.17 L237.43,469.42 L238.66,469.65 L239.88,469.88 L241.11,470.09 L242.34,470.28 L243.57,470.46 L244.79,470.64 L246.02,470.81 L247.25,470.97 L248.47,471.12 L249.70,471.25 L250.93,471.38 L252.16,471.49 L253.38,471.60 L254.61,471.69 L255.84,471.78 L257.06,471.86 L258.29,471.93 L259.52,472.01 L260.75,472.08 L261.97,472.15 L263.20,472.22" fill="none" stroke="#f07a3a" stroke-width="0.9" stroke-dasharray="1.6,1.1"/>
<path d="M19.00,475.60 L20.23,475.60 L21.45,475.60 L22.68,475.60 L23.91,475.59 L25.14,475.59 L26.36,475.58 L27.59,475.58 L28.82,475.57 L30.04,475.57 L31.27,475.56 L32.50,475.55 L33.73,475.54 L34.95,475.54 L36.18,475.53 L37.41,475.52 L38.63,475.51 L39.86,475.50 L41.09,475.49 L42.32,475.48 L43.54,475.47 L44.77,475.45 L46.00,475.44 L47.22,475.42 L48.45,475.40 L49.68,475.38 L50.91,475.36 L52.13,475.34 L53.36,475.32 L54.59,475.29 L55.81,475.26 L57.04,475.23 L58.27,475.20 L59.50,475.16 L60.72,475.12 L61.95,475.06 L63.18,475.00 L64.40,474.93 L65.63,474.86 L66.86,474.78 L68.09,474.69 L69.31,474.60 L70.54,474.49 L71.77,474.37 L72.99,474.23 L74.22,474.08 L75.45,473.91 L76.68,473.73 L77.90,473.51 L79.13,473.25 L80.36,472.97 L81.58,472.66 L82.81,472.33 L84.04,471.99 L85.27,471.63 L86.49,471.25 L87.72,470.84 L88.95,470.39 L90.17,469.92 L91.40,469.41 L92.63,468.87 L93.86,468.27 L95.08,467.62 L96.31,466.92 L97.54,466.18 L98.76,465.41 L99.99,464.61 L101.22,463.76 L102.45,462.84 L103.67,461.87 L104.90,460.87 L106.13,459.83 L107.35,458.76 L108.58,457.69 L109.81,456.56 L111.04,455.40 L112.26,454.20 L113.49,452.99 L114.72,451.77 L115.94,450.56 L117.17,449.33 L118.40,448.07 L119.63,446.81 L120.85,445.55 L122.08,444.30 L123.31,443.08 L124.53,441.88 L125.76,440.69 L126.99,439.51 L128.22,438.34 L129.44,437.21 L130.67,436.12 L131.90,435.08 L133.12,434.09 L134.35,433.12 L135.58,432.18 L136.81,431.28 L138.03,430.43 L139.26,429.64 L140.49,428.92 L141.71,428.22 L142.94,427.56 L144.17,426.97 L145.39,426.49 L146.62,426.13 L147.85,425.80 L149.08,425.50 L150.30,425.27 L151.53,425.13 L152.76,425.11 L153.98,425.20 L155.21,425.36 L156.44,425.58 L157.67,425.83 L158.89,426.12 L160.12,426.53 L161.35,427.03 L162.57,427.60 L163.80,428.20 L165.03,428.81 L166.26,429.45 L167.48,430.14 L168.71,430.87 L169.94,431.64 L171.16,432.45 L172.39,433.29 L173.62,434.16 L174.85,435.09 L176.07,436.08 L177.30,437.10 L178.53,438.13 L179.75,439.17 L180.98,440.19 L182.21,441.19 L183.44,442.21 L184.66,443.23 L185.89,444.26 L187.12,445.28 L188.34,446.30 L189.57,447.31 L190.80,448.31 L192.03,449.31 L193.25,450.32 L194.48,451.32 L195.71,452.31 L196.93,453.27 L198.16,454.19 L199.39,455.08 L200.62,455.93 L201.84,456.78 L203.07,457.60 L204.30,458.39 L205.52,459.16 L206.75,459.90 L207.98,460.60 L209.21,461.27 L210.43,461.92 L211.66,462.56 L212.89,463.17 L214.11,463.76 L215.34,464.32 L216.57,464.85 L217.80,465.35 L219.02,465.81 L220.25,466.23 L221.48,466.64 L222.70,467.02 L223.93,467.38 L225.16,467.73 L226.39,468.06 L227.61,468.38 L228.84,468.69 L230.07,468.99 L231.29,469.29 L232.52,469.57 L233.75,469.85 L234.98,470.12 L236.20,470.37 L237.43,470.62 L238.66,470.84 L239.88,471.05 L241.11,471.25 L242.34,471.45 L243.57,471.63 L244.79,471.81 L246.02,471.97 L247.25,472.12 L248.47,472.25 L249.70,472.37 L250.93,472.49 L252.16,472.59 L253.38,472.70 L254.61,472.79 L255.84,472.89 L257.06,472.98 L258.29,473.07 L259.52,473.16 L260.75,473.24 L261.97,473.32 L263.20,473.40" fill="none" stroke="#29abe2" stroke-width="1.0"/>
<rect x="19.0" y="402.6" width="244.2" height="77.5" fill="none" stroke="#9a9a9a" stroke-width="0.8"/>
<line x1="19.0" y1="480.1" x2="263.2" y2="480.1" stroke="#807c7c" stroke-width="0.9"/>
<line x1="29.6" y1="480.1" x2="29.6" y2="482.3" stroke="#7a7676" stroke-width="0.8"/>
<line x1="58.3" y1="480.1" x2="58.3" y2="483.7" stroke="#7a7676" stroke-width="0.8"/>
<text x="58.3" y="498.7" font-size="11.3" text-anchor="middle" fill="#000" stroke="#000" stroke-width="0.22" >330</text>
<line x1="87.0" y1="480.1" x2="87.0" y2="482.3" stroke="#7a7676" stroke-width="0.8"/>
<line x1="115.6" y1="480.1" x2="115.6" y2="483.7" stroke="#7a7676" stroke-width="0.8"/>
<text x="115.6" y="498.7" font-size="11.3" text-anchor="middle" fill="#000" stroke="#000" stroke-width="0.22" >370</text>
<line x1="144.2" y1="480.1" x2="144.2" y2="482.3" stroke="#7a7676" stroke-width="0.8"/>
<line x1="172.9" y1="480.1" x2="172.9" y2="483.7" stroke="#7a7676" stroke-width="0.8"/>
<text x="172.9" y="498.7" font-size="11.3" text-anchor="middle" fill="#000" stroke="#000" stroke-width="0.22" >410</text>
<line x1="201.6" y1="480.1" x2="201.6" y2="482.3" stroke="#7a7676" stroke-width="0.8"/>
<line x1="230.2" y1="480.1" x2="230.2" y2="483.7" stroke="#7a7676" stroke-width="0.8"/>
<text x="230.2" y="498.7" font-size="11.3" text-anchor="middle" fill="#000" stroke="#000" stroke-width="0.22" >450</text>
<line x1="258.9" y1="480.1" x2="258.9" y2="482.3" stroke="#7a7676" stroke-width="0.8"/>
<text x="141.0" y="518.3" font-size="11.45" text-anchor="middle" fill="#000" stroke="#000" stroke-width="0.22" >Temperature (K)</text>
<text transform="translate(8.9,441.0) rotate(-90)" font-size="11.45" text-anchor="middle" fill="#000" stroke="#000" stroke-width="0.22" >TL int.</text>
<text x="23.6" y="415.3" font-size="10.0" text-anchor="start" fill="#000" stroke="#000" stroke-width="0.22" >Charged by X-ray</text>
<text x="153.6" y="416.2" font-size="10.0" text-anchor="middle" fill="#000" stroke="#000" stroke-width="0.22" >395 K</text>
<line x1="220.5" y1="413.2" x2="236.2" y2="413.2" stroke="#29abe2" stroke-width="1.1"/>
<line x1="220.5" y1="428.8" x2="236.2" y2="428.8" stroke="#8a3fc8" stroke-width="1.0" stroke-dasharray="3.8,2.4"/>
<line x1="220.5" y1="443.6" x2="236.2" y2="443.6" stroke="#f07a3a" stroke-width="0.9" stroke-dasharray="1.6,1.1"/>
<text x="241.3" y="416.5" font-size="10.0" text-anchor="start" fill="#000" stroke="#000" stroke-width="0.22" >(1)</text>
<text x="241.3" y="432.2" font-size="10.0" text-anchor="start" fill="#000" stroke="#000" stroke-width="0.22" >(2)</text>
<text x="241.3" y="447.0" font-size="10.0" text-anchor="start" fill="#000" stroke="#000" stroke-width="0.22" >(3)</text>
<text x="301.2" y="284.9" font-size="17.5" text-anchor="start" fill="#000" stroke="#000" stroke-width="0.22" font-weight="bold">e</text>
<path d="M323.50,360.25 L323.95,359.64 L324.40,359.37 L324.85,359.88 L325.30,359.25 L325.75,359.21 L326.20,360.38 L326.65,359.00 L327.10,359.15 L327.55,359.39 L328.00,358.89 L328.45,358.42 L328.90,359.84 L329.35,359.02 L329.80,359.13 L330.25,359.20 L330.70,358.93 L331.15,358.89 L331.60,359.44 L332.05,360.45 L332.50,359.70 L332.95,359.70 L333.40,358.69 L333.85,359.36 L334.30,358.83 L334.75,359.71 L335.20,359.26 L335.65,359.38 L336.10,359.33 L336.55,359.10 L337.00,358.68 L337.45,359.63 L337.90,358.74 L338.35,358.83 L338.80,359.23 L339.25,359.04 L339.70,359.48 L340.15,359.82 L340.60,359.47 L341.05,359.45 L341.50,359.37 L341.95,359.74 L342.40,358.53 L342.85,359.52 L343.30,358.94 L343.75,358.80 L344.20,359.36 L344.65,359.18 L345.10,359.61 L345.55,359.85 L346.00,358.30 L346.45,359.32 L346.90,360.23 L347.35,359.74 L347.80,359.99 L348.25,359.39 L348.70,358.69 L349.15,358.83 L349.60,359.65 L350.05,359.76 L350.50,359.00 L350.95,359.21 L351.40,359.44 L351.85,358.53 L352.30,359.16 L352.75,360.04 L353.20,360.29 L353.65,359.25 L354.10,360.12 L354.55,359.05 L355.00,358.92 L355.45,358.27 L355.90,359.70 L356.35,359.09 L356.80,360.30 L357.25,359.39 L357.70,359.31 L358.15,358.40 L358.60,359.88 L359.05,359.02 L359.50,359.10 L359.95,358.16 L360.40,359.54 L360.85,359.55 L361.30,358.80 L361.75,359.09 L362.20,359.19 L362.65,359.41 L363.10,358.98 L363.55,359.65 L364.00,358.71 L364.45,358.49 L364.90,358.48 L365.35,357.46 L365.80,358.14 L366.25,358.85 L366.70,358.38 L367.15,357.75 L367.60,358.10 L368.05,356.83 L368.50,357.37 L368.95,357.46 L369.40,357.21 L369.85,356.16 L370.30,356.46 L370.75,356.34 L371.20,354.65 L371.65,354.40 L372.10,352.42 L372.55,351.11 L373.00,350.91 L373.45,349.01 L373.90,347.10 L374.35,344.37 L374.80,341.65 L375.25,338.76 L375.70,335.18 L376.15,329.70 L376.60,323.86 L377.05,319.52 L377.50,313.43 L377.95,308.05 L378.40,303.62 L378.85,302.64 L379.30,303.18 L379.75,309.49 L380.20,319.60 L380.65,335.96 L381.10,354.71 L381.55,374.90 L382.00,393.03 L382.45,406.32 L382.90,416.06 L383.35,418.38 L383.80,418.10 L384.25,414.96 L384.70,409.13 L385.15,404.06 L385.60,398.13 L386.05,392.10 L386.50,388.02 L386.95,382.69 L387.40,378.71 L387.85,374.34 L388.30,370.29 L388.75,367.22 L389.20,364.45 L389.65,362.70 L390.10,363.14 L390.55,363.06 L391.00,365.90 L391.45,367.98 L391.90,370.95 L392.35,370.08 L392.80,368.53 L393.25,365.85 L393.70,364.43 L394.15,362.18 L394.60,361.50 L395.05,359.98 L395.50,361.15 L395.95,360.63 L396.40,360.57 L396.85,360.78 L397.30,360.04 L397.75,359.97 L398.20,360.30 L398.65,360.11 L399.10,359.75 L399.55,359.83 L400.00,359.54 L400.45,360.05 L400.90,360.12 L401.35,359.67 L401.80,360.49 L402.25,358.93 L402.70,359.49 L403.15,360.35 L403.60,359.37 L404.05,358.83 L404.50,360.16 L404.95,359.77 L405.40,358.97 L405.85,359.85 L406.30,359.03 L406.75,358.88 L407.20,359.41 L407.65,359.25 L408.10,358.97 L408.55,359.29 L409.00,359.00 L409.45,359.47 L409.90,359.43 L410.35,359.77 L410.80,359.23 L411.25,358.83 L411.70,358.83 L412.15,359.31 L412.60,360.11 L413.05,359.80 L413.50,359.13 L413.95,359.84 L414.40,358.89 L414.85,359.87 L415.30,359.23 L415.75,359.75 L416.20,359.69 L416.65,359.28 L417.10,359.55 L417.55,358.92 L418.00,359.37 L418.45,359.89 L418.90,361.25 L419.35,359.71 L419.80,359.44 L420.25,358.94 L420.70,359.87 L421.15,358.65 L421.60,359.03 L422.05,359.55 L422.50,358.85 L422.95,360.09 L423.40,359.88 L423.85,359.13 L424.30,359.14 L424.75,358.79 L425.20,358.76 L425.65,359.59 L426.10,359.67 L426.55,359.55 L427.00,359.51 L427.45,359.13 L427.90,359.55 L428.35,358.72 L428.80,359.39 L429.25,360.05 L429.70,359.98 L430.15,359.18 L430.60,359.23 L431.05,360.01 L431.50,360.19 L431.95,358.71 L432.40,359.19 L432.85,359.49 L433.30,359.93 L433.75,359.00 L434.20,359.67 L434.65,359.25 L435.10,360.46 L435.55,359.58 L436.00,359.32 L436.45,359.23 L436.90,359.86 L437.35,359.69 L437.80,358.89 L438.25,359.48 L438.70,358.78 L439.15,359.04 L439.60,358.80 L440.05,358.78 L440.50,359.07 L440.95,358.94" fill="none" stroke="#2440e8" stroke-width="1.0" stroke-linejoin="round"/>
<path d="M323.50,452.94 L323.95,453.06 L324.40,452.53 L324.85,452.07 L325.30,453.02 L325.75,451.58 L326.20,451.61 L326.65,452.93 L327.10,452.88 L327.55,453.02 L328.00,452.41 L328.45,451.87 L328.90,452.23 L329.35,452.76 L329.80,452.07 L330.25,452.09 L330.70,451.73 L331.15,451.83 L331.60,452.82 L332.05,452.62 L332.50,451.79 L332.95,451.82 L333.40,452.06 L333.85,452.61 L334.30,451.73 L334.75,452.22 L335.20,451.22 L335.65,451.65 L336.10,452.48 L336.55,452.71 L337.00,451.67 L337.45,451.85 L337.90,452.63 L338.35,452.02 L338.80,451.93 L339.25,452.46 L339.70,452.28 L340.15,452.74 L340.60,452.57 L341.05,451.87 L341.50,452.09 L341.95,452.11 L342.40,451.46 L342.85,451.64 L343.30,452.61 L343.75,451.32 L344.20,452.61 L344.65,452.25 L345.10,452.03 L345.55,452.37 L346.00,452.33 L346.45,452.69 L346.90,451.88 L347.35,451.97 L347.80,451.95 L348.25,453.02 L348.70,452.55 L349.15,451.61 L349.60,451.90 L350.05,451.72 L350.50,452.08 L350.95,452.18 L351.40,453.22 L351.85,451.15 L352.30,452.59 L352.75,452.29 L353.20,451.72 L353.65,452.00 L354.10,451.83 L354.55,452.11 L355.00,452.59 L355.45,451.32 L355.90,452.75 L356.35,451.91 L356.80,452.85 L357.25,452.31 L357.70,452.72 L358.15,452.39 L358.60,452.66 L359.05,452.15 L359.50,451.71 L359.95,452.46 L360.40,452.49 L360.85,453.19 L361.30,451.13 L361.75,452.04 L362.20,452.67 L362.65,451.52 L363.10,452.03 L363.55,453.21 L364.00,452.85 L364.45,451.70 L364.90,452.85 L365.35,452.72 L365.80,452.51 L366.25,452.30 L366.70,452.21 L367.15,451.64 L367.60,451.79 L368.05,452.39 L368.50,452.05 L368.95,452.86 L369.40,451.71 L369.85,450.61 L370.30,451.56 L370.75,451.77 L371.20,451.70 L371.65,451.40 L372.10,450.78 L372.55,451.73 L373.00,450.40 L373.45,450.80 L373.90,449.94 L374.35,449.08 L374.80,449.90 L375.25,447.38 L375.70,447.59 L376.15,447.55 L376.60,446.43 L377.05,446.27 L377.50,445.19 L377.95,444.53 L378.40,445.62 L378.85,444.63 L379.30,445.37 L379.75,446.20 L380.20,448.22 L380.65,451.21 L381.10,453.92 L381.55,457.14 L382.00,459.84 L382.45,462.85 L382.90,463.13 L383.35,464.46 L383.80,464.38 L384.25,463.14 L384.70,462.02 L385.15,460.27 L385.60,460.17 L386.05,462.29 L386.50,462.01 L386.95,461.25 L387.40,459.01 L387.85,457.98 L388.30,456.93 L388.75,456.56 L389.20,456.71 L389.65,455.07 L390.10,455.02 L390.55,454.63 L391.00,452.69 L391.45,453.58 L391.90,454.15 L392.35,454.34 L392.80,453.63 L393.25,454.40 L393.70,454.40 L394.15,453.50 L394.60,454.36 L395.05,454.48 L395.50,453.80 L395.95,453.05 L396.40,454.25 L396.85,453.41 L397.30,453.28 L397.75,453.51 L398.20,453.17 L398.65,453.96 L399.10,453.81 L399.55,454.02 L400.00,453.69 L400.45,453.00 L400.90,453.31 L401.35,453.82 L401.80,453.17 L402.25,454.83 L402.70,453.24 L403.15,453.07 L403.60,453.93 L404.05,453.72 L404.50,453.33 L404.95,453.23 L405.40,453.55 L405.85,453.75 L406.30,453.71 L406.75,453.17 L407.20,453.53 L407.65,453.73 L408.10,453.69 L408.55,451.75 L409.00,452.85 L409.45,452.90 L409.90,453.16 L410.35,453.36 L410.80,453.72 L411.25,453.56 L411.70,453.18 L412.15,453.25 L412.60,454.11 L413.05,452.92 L413.50,453.36 L413.95,453.99 L414.40,453.37 L414.85,452.16 L415.30,453.36 L415.75,452.97 L416.20,453.09 L416.65,453.66 L417.10,453.36 L417.55,452.98 L418.00,453.55 L418.45,453.31 L418.90,453.13 L419.35,453.22 L419.80,453.18 L420.25,452.87 L420.70,452.80 L421.15,453.02 L421.60,452.52 L422.05,452.35 L422.50,453.62 L422.95,452.84 L423.40,452.93 L423.85,452.86 L424.30,452.92 L424.75,452.91 L425.20,452.91 L425.65,452.46 L426.10,453.32 L426.55,452.49 L427.00,453.34 L427.45,451.84 L427.90,452.26 L428.35,453.27 L428.80,452.68 L429.25,452.40 L429.70,452.91 L430.15,452.18 L430.60,452.73 L431.05,451.57 L431.50,452.43 L431.95,452.32 L432.40,452.90 L432.85,453.05 L433.30,452.17 L433.75,453.39 L434.20,452.27 L434.65,451.52 L435.10,451.34 L435.55,453.29 L436.00,452.46 L436.45,452.17 L436.90,452.10 L437.35,451.91 L437.80,453.12 L438.25,452.39 L438.70,453.31 L439.15,452.30 L439.60,451.21 L440.05,452.80 L440.50,452.18 L440.95,452.23" fill="none" stroke="#969696" stroke-width="0.75" stroke-linejoin="round"/>
<rect x="323.5" y="281.3" width="117.8" height="198.9" fill="none" stroke="#9a9a9a" stroke-width="0.8"/>
<line x1="323.5" y1="480.2" x2="441.3" y2="480.2" stroke="#807c7c" stroke-width="0.9"/>
<line x1="441.3" y1="281.3" x2="441.3" y2="480.2" stroke="#777" stroke-width="0.9"/>
<line x1="323.5" y1="480.2" x2="323.5" y2="483.8" stroke="#7a7676" stroke-width="0.8"/>
<text x="323.5" y="497.6" font-size="11.3" text-anchor="middle" fill="#000" stroke="#000" stroke-width="0.22" >320</text>
<line x1="352.9" y1="480.2" x2="352.9" y2="482.4" stroke="#7a7676" stroke-width="0.8"/>
<line x1="382.4" y1="480.2" x2="382.4" y2="483.8" stroke="#7a7676" stroke-width="0.8"/>
<text x="382.4" y="497.6" font-size="11.3" text-anchor="middle" fill="#000" stroke="#000" stroke-width="0.22" >350</text>
<line x1="411.9" y1="480.2" x2="411.9" y2="482.4" stroke="#7a7676" stroke-width="0.8"/>
<line x1="441.3" y1="480.2" x2="441.3" y2="483.8" stroke="#7a7676" stroke-width="0.8"/>
<text x="441.3" y="497.6" font-size="11.3" text-anchor="middle" fill="#000" stroke="#000" stroke-width="0.22" >380</text>
<text x="384.9" y="517.4" font-size="11.45" text-anchor="middle" fill="#000" stroke="#000" stroke-width="0.22" >Magnetic field (mT)</text>
<text transform="translate(311.3,380.7) rotate(-90)" font-size="11.45" text-anchor="middle" fill="#000" stroke="#000" stroke-width="0.22" >EPR intensity</text>
<text x="436.3" y="295.0" font-size="9.85" text-anchor="end" fill="#000" stroke="#000" stroke-width="0.22" >After X-ray irradiation</text>
<text x="436.2" y="436.0" font-size="9.85" text-anchor="end" fill="#000" stroke="#000" stroke-width="0.22" >Without irradiation</text>
<text x="331.8" y="376.0" font-size="9.85" text-anchor="start" fill="#000" stroke="#000" stroke-width="0.22" ><tspan font-style="italic">g</tspan> = 2.011</text>
<text x="473.3" y="284.4" font-size="17.5" text-anchor="start" fill="#000" stroke="#000" stroke-width="0.22" font-weight="bold">f</text>
<rect x="511.0" y="280.8" width="168.3" height="26.8" fill="url(#gCB)"/>
<line x1="511.0" y1="307.6" x2="679.3" y2="307.6" stroke="#333" stroke-width="0.9"/>
<rect x="511.0" y="452.4" width="168.3" height="27.6" fill="url(#gVB)"/>
<line x1="511.0" y1="452.4" x2="679.3" y2="452.4" stroke="#333" stroke-width="0.9"/>
<line x1="506.2" y1="286" x2="506.2" y2="351.5" stroke="#666" stroke-width="0.9"/>
<line x1="506.2" y1="402.8" x2="506.2" y2="480" stroke="#666" stroke-width="0.9"/>
<path d="M503.4,286.8 L506.2,280.6 L509.0,286.8 L506.2,285.6 Z" fill="#111"/>
<text transform="translate(483.2,380.4) rotate(-90)" font-size="11.45" text-anchor="middle" fill="#000" stroke="#000" stroke-width="0.22" >X-ray irradiation</text>
<circle cx="505.6" cy="376.3" r="14" fill="url(#gRad)" opacity="0.55"/>
<path d="M517.5,376.3 L514.2,376.7 L514.1,377.4 L518.5,378.7 L514.0,378.3 L513.8,379.0 L518.2,381.2 L513.5,379.8 L513.1,380.5 L515.5,382.4 L512.7,381.2 L512.2,381.8 L514.5,384.4 L511.7,382.4 L511.1,382.9 L514.4,387.9 L510.4,383.4 L509.8,383.8 L510.8,386.8 L509.0,384.2 L508.4,384.4 L508.9,387.8 L507.5,384.7 L506.8,384.8 L506.9,390.9 L506.0,384.9 L505.2,384.9 L504.3,389.8 L504.4,384.8 L503.7,384.7 L502.1,388.5 L502.8,384.4 L502.2,384.2 L499.7,388.1 L501.4,383.8 L500.8,383.4 L497.4,387.2 L500.1,382.9 L499.5,382.4 L496.4,384.7 L499.0,381.8 L498.5,381.2 L495.4,382.6 L498.1,380.5 L497.7,379.8 L492.5,381.4 L497.4,379.0 L497.2,378.3 L492.1,378.8 L497.1,377.4 L497.0,376.7 L492.4,376.3 L497.0,375.9 L497.1,375.2 L491.6,373.7 L497.2,374.3 L497.4,373.6 L493.2,371.5 L497.7,372.8 L498.1,372.1 L493.1,368.5 L498.5,371.4 L499.0,370.8 L496.6,368.1 L499.5,370.2 L500.1,369.7 L497.6,365.7 L500.8,369.2 L501.4,368.8 L499.8,364.6 L502.2,368.4 L502.8,368.2 L502.1,364.1 L503.7,367.9 L504.4,367.8 L504.4,362.9 L505.2,367.7 L506.0,367.7 L506.7,364.1 L506.8,367.8 L507.5,367.9 L509.5,362.7 L508.4,368.2 L509.0,368.4 L512.0,363.4 L509.8,368.8 L510.4,369.2 L512.8,366.8 L511.1,369.7 L511.7,370.2 L515.2,367.5 L512.2,370.8 L512.7,371.4 L516.2,369.8 L513.1,372.1 L513.5,372.8 L516.6,372.0 L513.8,373.6 L514.0,374.3 L519.8,373.6 L514.1,375.2 L514.2,375.9 Z" fill="#f58220" opacity="0.85"/>
<path d="M505.86,376.72 L510.21,383.68 A8.70,8.70 0 0 1 500.99,383.68 L505.34,376.72 A0.50,0.50 0 0 0 505.86,376.72 Z" fill="#7686c4" stroke="#7686c4" stroke-width="3.6" stroke-linejoin="round"/>
<path d="M505.10,376.32 L496.91,376.60 A8.70,8.70 0 0 1 501.52,368.62 L505.37,375.86 A0.50,0.50 0 0 0 505.10,376.32 Z" fill="#7686c4" stroke="#7686c4" stroke-width="3.6" stroke-linejoin="round"/>
<path d="M505.83,375.86 L509.68,368.62 A8.70,8.70 0 0 1 514.29,376.60 L506.10,376.32 A0.50,0.50 0 0 0 505.83,375.86 Z" fill="#7686c4" stroke="#7686c4" stroke-width="3.6" stroke-linejoin="round"/>
<circle cx="505.6" cy="376.3" r="3.8" fill="#7686c4"/>
<path d="M505.86,376.72 L510.21,383.68 A8.70,8.70 0 0 1 500.99,383.68 L505.34,376.72 A0.50,0.50 0 0 0 505.86,376.72 Z" fill="#ffffff" stroke="#ffffff" stroke-width="1.9" stroke-linejoin="round"/>
<path d="M505.10,376.32 L496.91,376.60 A8.70,8.70 0 0 1 501.52,368.62 L505.37,375.86 A0.50,0.50 0 0 0 505.10,376.32 Z" fill="#ffffff" stroke="#ffffff" stroke-width="1.9" stroke-linejoin="round"/>
<path d="M505.83,375.86 L509.68,368.62 A8.70,8.70 0 0 1 514.29,376.60 L506.10,376.32 A0.50,0.50 0 0 0 505.83,375.86 Z" fill="#ffffff" stroke="#ffffff" stroke-width="1.9" stroke-linejoin="round"/>
<circle cx="505.6" cy="376.3" r="2.8" fill="#ffffff"/>
<path d="M506.91,378.77 L509.50,383.63 A8.30,8.30 0 0 1 501.70,383.63 L504.29,378.77 A2.80,2.80 0 0 0 506.91,378.77 Z" fill="#dc1c24"/>
<path d="M502.80,376.20 L497.31,376.01 A8.30,8.30 0 0 1 501.20,369.26 L504.12,373.93 A2.80,2.80 0 0 0 502.80,376.20 Z" fill="#dc1c24"/>
<path d="M507.08,373.93 L510.00,369.26 A8.30,8.30 0 0 1 513.89,376.01 L508.40,376.20 A2.80,2.80 0 0 0 507.08,373.93 Z" fill="#dc1c24"/>
<circle cx="505.6" cy="376.3" r="1.3" fill="#e01b24"/>
<path d="M511.5,282.4 L539,285.2 M511.5,282.4 L518.7,303.6 M526.6,284.0 L534.2,294.0 M515.2,293.4 L527.5,299.6" fill="none" stroke="#222" stroke-width="0.7"/>
<path d="M540.6,293 L668.8,293 L668.8,312.6" fill="none" stroke="#9c9c9c" stroke-width="0.7" stroke-dasharray="1.5,1.3"/>
<path d="M598.6,293 L598.6,327.6" fill="none" stroke="#9c9c9c" stroke-width="0.7" stroke-dasharray="1.5,1.3"/>
<path d="M666.7,312.0 L668.8,316.0 L670.9,312.0 Z" fill="#9c9c9c"/>
<path d="M596.5,326.8 L598.6,330.8 L600.7,326.8 Z" fill="#9c9c9c"/>
<path d="M521.6,304.4 L550.1,304.4 L550.1,321.6" fill="none" stroke="#f5a21e" stroke-width="0.8" stroke-dasharray="1.5,1.2"/>
<path d="M548.0,320.8 L550.1,325.0 L552.2,320.8 Z" fill="#f5a21e"/>
<path d="M561.0,326 L561.0,304.4 L593.4,304.4 L593.4,327.4" fill="none" stroke="#c97a2c" stroke-width="0.8" stroke-dasharray="1.5,1.2"/>
<path d="M591.3,326.6 L593.4,330.8 L595.5,326.6 Z" fill="#b8651c"/>
<circle cx="539.1" cy="285.4" r="2.9" fill="#000"/>
<circle cx="534.7" cy="294.1" r="2.9" fill="#000"/>
<circle cx="527.7" cy="299.8" r="2.9" fill="#000"/>
<circle cx="518.7" cy="303.8" r="2.9" fill="#000"/>
<text x="545.2" y="288.4" font-size="10.5">e<tspan dy="-5.0" dx="0.4" font-size="8.2">−</tspan></text>
<text x="679.2" y="287.5" font-size="11.3" text-anchor="end" fill="#000" stroke="#000" stroke-width="0.22" >CB</text>
<rect x="543.1" y="328.4" width="24.9" height="14.6" fill="url(#gTrap)"/>
<line x1="543.1" y1="333.5" x2="568" y2="333.5" stroke="#c4c4c4" stroke-width="0.6" stroke-dasharray="2,1.2"/>
<line x1="543.1" y1="338.2" x2="568" y2="338.2" stroke="#c4c4c4" stroke-width="0.6" stroke-dasharray="2,1.2"/>
<circle cx="550.3" cy="328.9" r="2.9" fill="#000"/>
<circle cx="561.0" cy="328.9" r="2.9" fill="#000"/>
<circle cx="555.4" cy="341.9" r="2.9" fill="#000"/>
<text x="540.0" y="339.2" font-size="9.5" text-anchor="end" fill="#000" stroke="#000" stroke-width="0.22" >Trap</text>
<path d="M578.0,309.4 C579.8,311.6 582.6,313.6 583.2,317.4 C583.7,320.8 581.4,323.0 578.2,323.0 C575.0,323.0 572.8,320.9 573.2,317.8 C573.4,316.0 574.4,314.8 575.2,313.6 C575.6,314.8 576.0,315.4 576.8,315.8 C576.6,313.4 577.0,311.2 578.0,309.4 Z" fill="#e8231c"/>
<path d="M578.3,315.6 C579.4,317.0 580.9,318.0 580.9,320.0 C580.9,321.8 579.7,322.8 578.2,322.8 C576.7,322.8 575.5,321.8 575.6,320.1 C575.7,318.9 576.4,318.3 576.9,317.6 C577.2,318.2 577.5,318.4 577.9,318.5 C577.8,317.4 577.9,316.5 578.3,315.6 Z" fill="#f7941d"/>
<path d="M588.2,336.4 Q596.3,343.0 604.4,336.4 Z" fill="#5db5ea"/>
<path d="M581.1,331.4 Q596.3,347.8 611.3,331.4" fill="none" stroke="#111" stroke-width="0.9"/>
<circle cx="596.3" cy="336.0" r="2.9" fill="#000"/>
<text x="571.5" y="349.8" font-size="10.0" text-anchor="start" fill="#29a3e6" stroke="#29a3e6" stroke-width="0.22" >STE<tspan dy="2.2" font-size="6.2">1</tspan></text>
<path d="M662.0,321.2 Q668.4,327.6 674.8,321.2 Z" fill="#e884d8"/>
<path d="M657.2,316.2 Q668.4,333.2 679.7,316.2" fill="none" stroke="#111" stroke-width="0.9"/>
<circle cx="668.4" cy="320.8" r="2.9" fill="#000"/>
<text x="643.5" y="333.9" font-size="10.0" text-anchor="start" fill="#ec2aa8" stroke="#ec2aa8" stroke-width="0.22" >STE<tspan dy="2.2" font-size="6.2">3</tspan></text>
<path d="M619.5,356.6 Q626.7,362.6 633.5,356.6 Z" fill="#fdf8c4"/>
<path d="M615.9,354.4 Q626.7,366.8 636.6,354.4" fill="none" stroke="#cfcfcf" stroke-width="0.8"/>
<text x="616.7" y="372.3" font-size="10.0" text-anchor="start" fill="#c6c6c6" stroke="#c6c6c6" stroke-width="0.22" >STE<tspan dy="2.2" font-size="6.2">2</tspan></text>
<path d="M595.00,341.50 L595.35,342.30 L595.67,343.10 L595.96,343.90 L596.18,344.70 L596.33,345.50 L596.40,346.30 L596.38,347.10 L596.27,347.90 L596.08,348.70 L595.82,349.50 L595.52,350.30 L595.18,351.10 L594.82,351.90 L594.48,352.70 L594.18,353.50 L593.92,354.30 L593.73,355.10 L593.62,355.90 L593.60,356.70 L593.67,357.50 L593.82,358.30 L594.04,359.10 L594.33,359.90 L594.65,360.70 L595.00,361.50 L595.35,362.30 L595.67,363.10 L595.96,363.90 L596.18,364.70 L596.33,365.50 L596.40,366.30 L596.38,367.10 L596.27,367.90 L596.08,368.70 L595.82,369.50 L595.52,370.30 L595.18,371.10 L594.82,371.90 L594.48,372.70 L594.18,373.50 L593.92,374.30 L593.73,375.10 L593.62,375.90 L593.60,376.70 L593.67,377.50 L593.82,378.30 L594.04,379.10 L594.33,379.90 L594.65,380.70 L595.00,381.50 L595.35,382.30 L595.67,383.10 L595.96,383.90 L596.18,384.70 L596.33,385.50 L596.40,386.30 L596.38,387.10 L596.27,387.90 L596.08,388.70 L595.82,389.50 L595.52,390.30 L595.18,391.10 L594.82,391.90 L594.48,392.70 L594.18,393.50 L593.92,394.30 L593.73,395.10 L593.62,395.90 L593.60,396.70 L593.67,397.50 L593.82,398.30 L594.04,399.10 L594.33,399.90 L594.65,400.70 L595.00,401.50 L595.35,402.30 L595.67,403.10 L595.96,403.90 L596.18,404.70 L596.33,405.50 L596.40,406.30 L596.38,407.10 L596.27,407.90 L596.08,408.70 L595.82,409.50 L595.52,410.30 L595.18,411.10 L594.82,411.90 L594.48,412.70 L594.18,413.50 L593.92,414.30 L593.73,415.10 L593.62,415.90 L593.60,416.70 L593.67,417.50 L593.82,418.30 L594.04,419.10 L594.33,419.90 L594.65,420.70 L595.00,421.50 L595.35,422.30 L595.67,423.10 L595.96,423.90 L596.18,424.70 L596.33,425.50 L596.40,426.30 L596.38,427.10 L596.27,427.90 L596.08,428.70 L595.82,429.50 L595.52,430.30 L595.18,431.10 L594.82,431.90 L594.48,432.70 L594.18,433.50 L593.92,434.30 L593.73,435.10" fill="none" stroke="#d82034" stroke-width="0.9" stroke-dasharray="1.6,1.3"/>
<path d="M599.80,341.50 L600.15,342.30 L600.47,343.10 L600.76,343.90 L600.98,344.70 L601.13,345.50 L601.20,346.30 L601.18,347.10 L601.07,347.90 L600.88,348.70 L600.62,349.50 L600.32,350.30 L599.98,351.10 L599.62,351.90 L599.28,352.70 L598.98,353.50 L598.72,354.30 L598.53,355.10 L598.42,355.90 L598.40,356.70 L598.47,357.50 L598.62,358.30 L598.84,359.10 L599.13,359.90 L599.45,360.70 L599.80,361.50 L600.15,362.30 L600.47,363.10 L600.76,363.90 L600.98,364.70 L601.13,365.50 L601.20,366.30 L601.18,367.10 L601.07,367.90 L600.88,368.70 L600.62,369.50 L600.32,370.30 L599.98,371.10 L599.62,371.90 L599.28,372.70 L598.98,373.50 L598.72,374.30 L598.53,375.10 L598.42,375.90 L598.40,376.70 L598.47,377.50 L598.62,378.30 L598.84,379.10 L599.13,379.90 L599.45,380.70 L599.80,381.50 L600.15,382.30 L600.47,383.10 L600.76,383.90 L600.98,384.70 L601.13,385.50 L601.20,386.30 L601.18,387.10 L601.07,387.90 L600.88,388.70 L600.62,389.50 L600.32,390.30 L599.98,391.10 L599.62,391.90 L599.28,392.70 L598.98,393.50 L598.72,394.30 L598.53,395.10 L598.42,395.90 L598.40,396.70 L598.47,397.50 L598.62,398.30 L598.84,399.10 L599.13,399.90 L599.45,400.70 L599.80,401.50 L600.15,402.30 L600.47,403.10 L600.76,403.90 L600.98,404.70 L601.13,405.50 L601.20,406.30 L601.18,407.10 L601.07,407.90 L600.88,408.70 L600.62,409.50 L600.32,410.30 L599.98,411.10 L599.62,411.90 L599.28,412.70 L598.98,413.50 L598.72,414.30 L598.53,415.10 L598.42,415.90 L598.40,416.70 L598.47,417.50 L598.62,418.30 L598.84,419.10 L599.13,419.90 L599.45,420.70 L599.80,421.50 L600.15,422.30 L600.47,423.10 L600.76,423.90 L600.98,424.70 L601.13,425.50 L601.20,426.30 L601.18,427.10 L601.07,427.90 L600.88,428.70 L600.62,429.50 L600.32,430.30 L599.98,431.10 L599.62,431.90 L599.28,432.70 L598.98,433.50 L598.72,434.30 L598.53,435.10" fill="none" stroke="#29a3e6" stroke-width="0.9"/>
<path d="M591.9,434.6 L594.5,440.6 L597.1,434.6 L594.5,435.8 Z" fill="#d01a30"/>
<path d="M597.2,434.6 L599.8,440.6 L602.4,434.6 L599.8,435.8 Z" fill="#16a0e8"/>
<path d="M668.60,325.20 L668.97,326.00 L669.32,326.80 L669.63,327.60 L669.87,328.40 L670.03,329.20 L670.10,330.00 L670.07,330.80 L669.96,331.60 L669.76,332.40 L669.48,333.20 L669.15,334.00 L668.79,334.80 L668.41,335.60 L668.05,336.40 L667.72,337.20 L667.44,338.00 L667.24,338.80 L667.13,339.60 L667.10,340.40 L667.17,341.20 L667.33,342.00 L667.57,342.80 L667.88,343.60 L668.23,344.40 L668.60,345.20 L668.97,346.00 L669.32,346.80 L669.63,347.60 L669.87,348.40 L670.03,349.20 L670.10,350.00 L670.07,350.80 L669.96,351.60 L669.76,352.40 L669.48,353.20 L669.15,354.00 L668.79,354.80 L668.41,355.60 L668.05,356.40 L667.72,357.20 L667.44,358.00 L667.24,358.80 L667.13,359.60 L667.10,360.40 L667.17,361.20 L667.33,362.00 L667.57,362.80 L667.88,363.60 L668.23,364.40 L668.60,365.20 L668.97,366.00 L669.32,366.80 L669.63,367.60 L669.87,368.40 L670.03,369.20 L670.10,370.00 L670.07,370.80 L669.96,371.60 L669.76,372.40 L669.48,373.20 L669.15,374.00 L668.79,374.80 L668.41,375.60 L668.05,376.40 L667.72,377.20 L667.44,378.00 L667.24,378.80 L667.13,379.60 L667.10,380.40 L667.17,381.20 L667.33,382.00 L667.57,382.80 L667.88,383.60 L668.23,384.40 L668.60,385.20 L668.97,386.00 L669.32,386.80 L669.63,387.60 L669.87,388.40 L670.03,389.20 L670.10,390.00 L670.07,390.80 L669.96,391.60 L669.76,392.40 L669.48,393.20 L669.15,394.00 L668.79,394.80 L668.41,395.60 L668.05,396.40 L667.72,397.20 L667.44,398.00 L667.24,398.80 L667.13,399.60 L667.10,400.40 L667.17,401.20 L667.33,402.00 L667.57,402.80 L667.88,403.60 L668.23,404.40 L668.60,405.20 L668.97,406.00 L669.32,406.80 L669.63,407.60 L669.87,408.40 L670.03,409.20 L670.10,410.00 L670.07,410.80 L669.96,411.60 L669.76,412.40 L669.48,413.20 L669.15,414.00 L668.79,414.80 L668.41,415.60 L668.05,416.40 L667.72,417.20 L667.44,418.00 L667.24,418.80 L667.13,419.60 L667.10,420.40 L667.17,421.20 L667.33,422.00 L667.57,422.80 L667.88,423.60 L668.23,424.40 L668.60,425.20 L668.97,426.00 L669.32,426.80 L669.63,427.60 L669.87,428.40 L670.03,429.20 L670.10,430.00 L670.12,430.80 L670.05,431.60 L669.89,432.40 L669.66,433.20 L669.38,434.00 L669.06,434.80 L668.73,435.60 L668.41,436.40 L668.12,437.20 L667.89,438.00 L667.74,438.80 L667.67,439.60 L667.69,440.40 L667.80,441.20 L668.01,442.00 L668.29,442.80 L668.64,443.60 L669.04,444.40 L669.46,445.20" fill="none" stroke="#ec2aa8" stroke-width="0.9"/>
<path d="M667.0,445.4 L669.5,451.2 L672.0,445.4 L669.5,446.6 Z" fill="#ec2aa8"/>
<text transform="translate(589.4,389.0) rotate(-90)" font-size="10.0" text-anchor="middle" fill="#d41c34" stroke="#d41c34" stroke-width="0.22" >PersL</text>
<text transform="translate(613.5,390.2) rotate(-90)" font-size="9.9" text-anchor="middle" fill="#16a0e8" stroke="#16a0e8" stroke-width="0.22" >RL</text>
<text transform="translate(665.3,390.2) rotate(-90)" font-size="9.9" text-anchor="middle" fill="#ec2aa8" stroke="#ec2aa8" stroke-width="0.22" >RL</text>
<path d="M581.4,439.8 Q608.9,464.2 637.0,439.8" fill="none" stroke="url(#gS0)" stroke-width="1.0"/>
<text x="567.3" y="442.8" font-size="9.4"><tspan dy="-3" font-size="6">1</tspan><tspan dy="3">S</tspan><tspan dy="2" font-size="6">0</tspan></text>
<path d="M542.8,467.5 L668.1,467.5 L668.1,464.4 M596.2,467.5 L596.2,457.0" fill="none" stroke="#9c9c9c" stroke-width="0.7" stroke-dasharray="1.5,1.3"/>
<path d="M594.1,457.6 L596.2,453.6 L598.3,457.6 Z" fill="#9c9c9c"/>
<path d="M666.0,464.8 L668.1,460.8 L670.2,464.8 Z" fill="#9c9c9c"/>
<circle cx="596.2" cy="445.1" r="2.7" fill="#fff" stroke="#333" stroke-width="0.7" stroke-dasharray="1.1,0.7"/>
<circle cx="668.1" cy="456.4" r="2.7" fill="#fff" stroke="#333" stroke-width="0.7" stroke-dasharray="1.1,0.7"/>
<path d="M511.9,479.3 L536.4,476.2 M511.9,479.3 L518.5,459.6 M515.6,466.3 L525.6,462.0 M526.1,477.5 L533.6,468.8" fill="none" stroke="#222" stroke-width="0.7"/>
<circle cx="518.9" cy="456.7" r="2.95" fill="#fff" stroke="#333" stroke-width="0.7" stroke-dasharray="1.1,0.7"/>
<circle cx="528.2" cy="460.8" r="2.95" fill="#fff" stroke="#333" stroke-width="0.7" stroke-dasharray="1.1,0.7"/>
<circle cx="535.2" cy="466.6" r="2.95" fill="#fff" stroke="#333" stroke-width="0.7" stroke-dasharray="1.1,0.7"/>
<circle cx="539.0" cy="475.6" r="2.95" fill="#fff" stroke="#333" stroke-width="0.7" stroke-dasharray="1.1,0.7"/>
<text x="544.8" y="478.6" font-size="10.5">h<tspan dy="-5.0" dx="0.4" font-size="8.2">−</tspan></text>
<text x="677.8" y="480.9" font-size="11.3" text-anchor="end" fill="#000" stroke="#000" stroke-width="0.22" >VB</text>
<circle cx="517.5" cy="494.3" r="4.5" fill="#000"/>
<text x="526.5" y="498.2" font-size="11.4" text-anchor="start" fill="#000" stroke="#000" stroke-width="0.22" >Electron</text>
<circle cx="517.5" cy="514.6" r="4.3" fill="#fff" stroke="#333" stroke-width="0.7" stroke-dasharray="1.2,0.8"/>
<text x="526.5" y="518.5" font-size="11.4" text-anchor="start" fill="#000" stroke="#000" stroke-width="0.22" >Hole</text>
<line x1="593" y1="494.3" x2="610" y2="494.3" stroke="#f7b450" stroke-width="0.9" stroke-dasharray="1.3,1.4"/>
<path d="M608.8,490.7 L615.8,494.3 L608.8,497.9 L610.4,494.3 Z" fill="#f59a14"/>
<text x="620.5" y="498.2" font-size="11.4" text-anchor="start" fill="#000" stroke="#000" stroke-width="0.22" >Trapping</text>
<line x1="593" y1="514.6" x2="610" y2="514.6" stroke="#d69a5c" stroke-width="0.9" stroke-dasharray="1.3,1.4"/>
<path d="M608.8,511.0 L615.8,514.6 L608.8,518.2 L610.4,514.6 Z" fill="#b05c14"/>
<text x="620.5" y="518.5" font-size="11.4" text-anchor="start" fill="#000" stroke="#000" stroke-width="0.22" >Detrapping</text>
</svg>
</body></html>
